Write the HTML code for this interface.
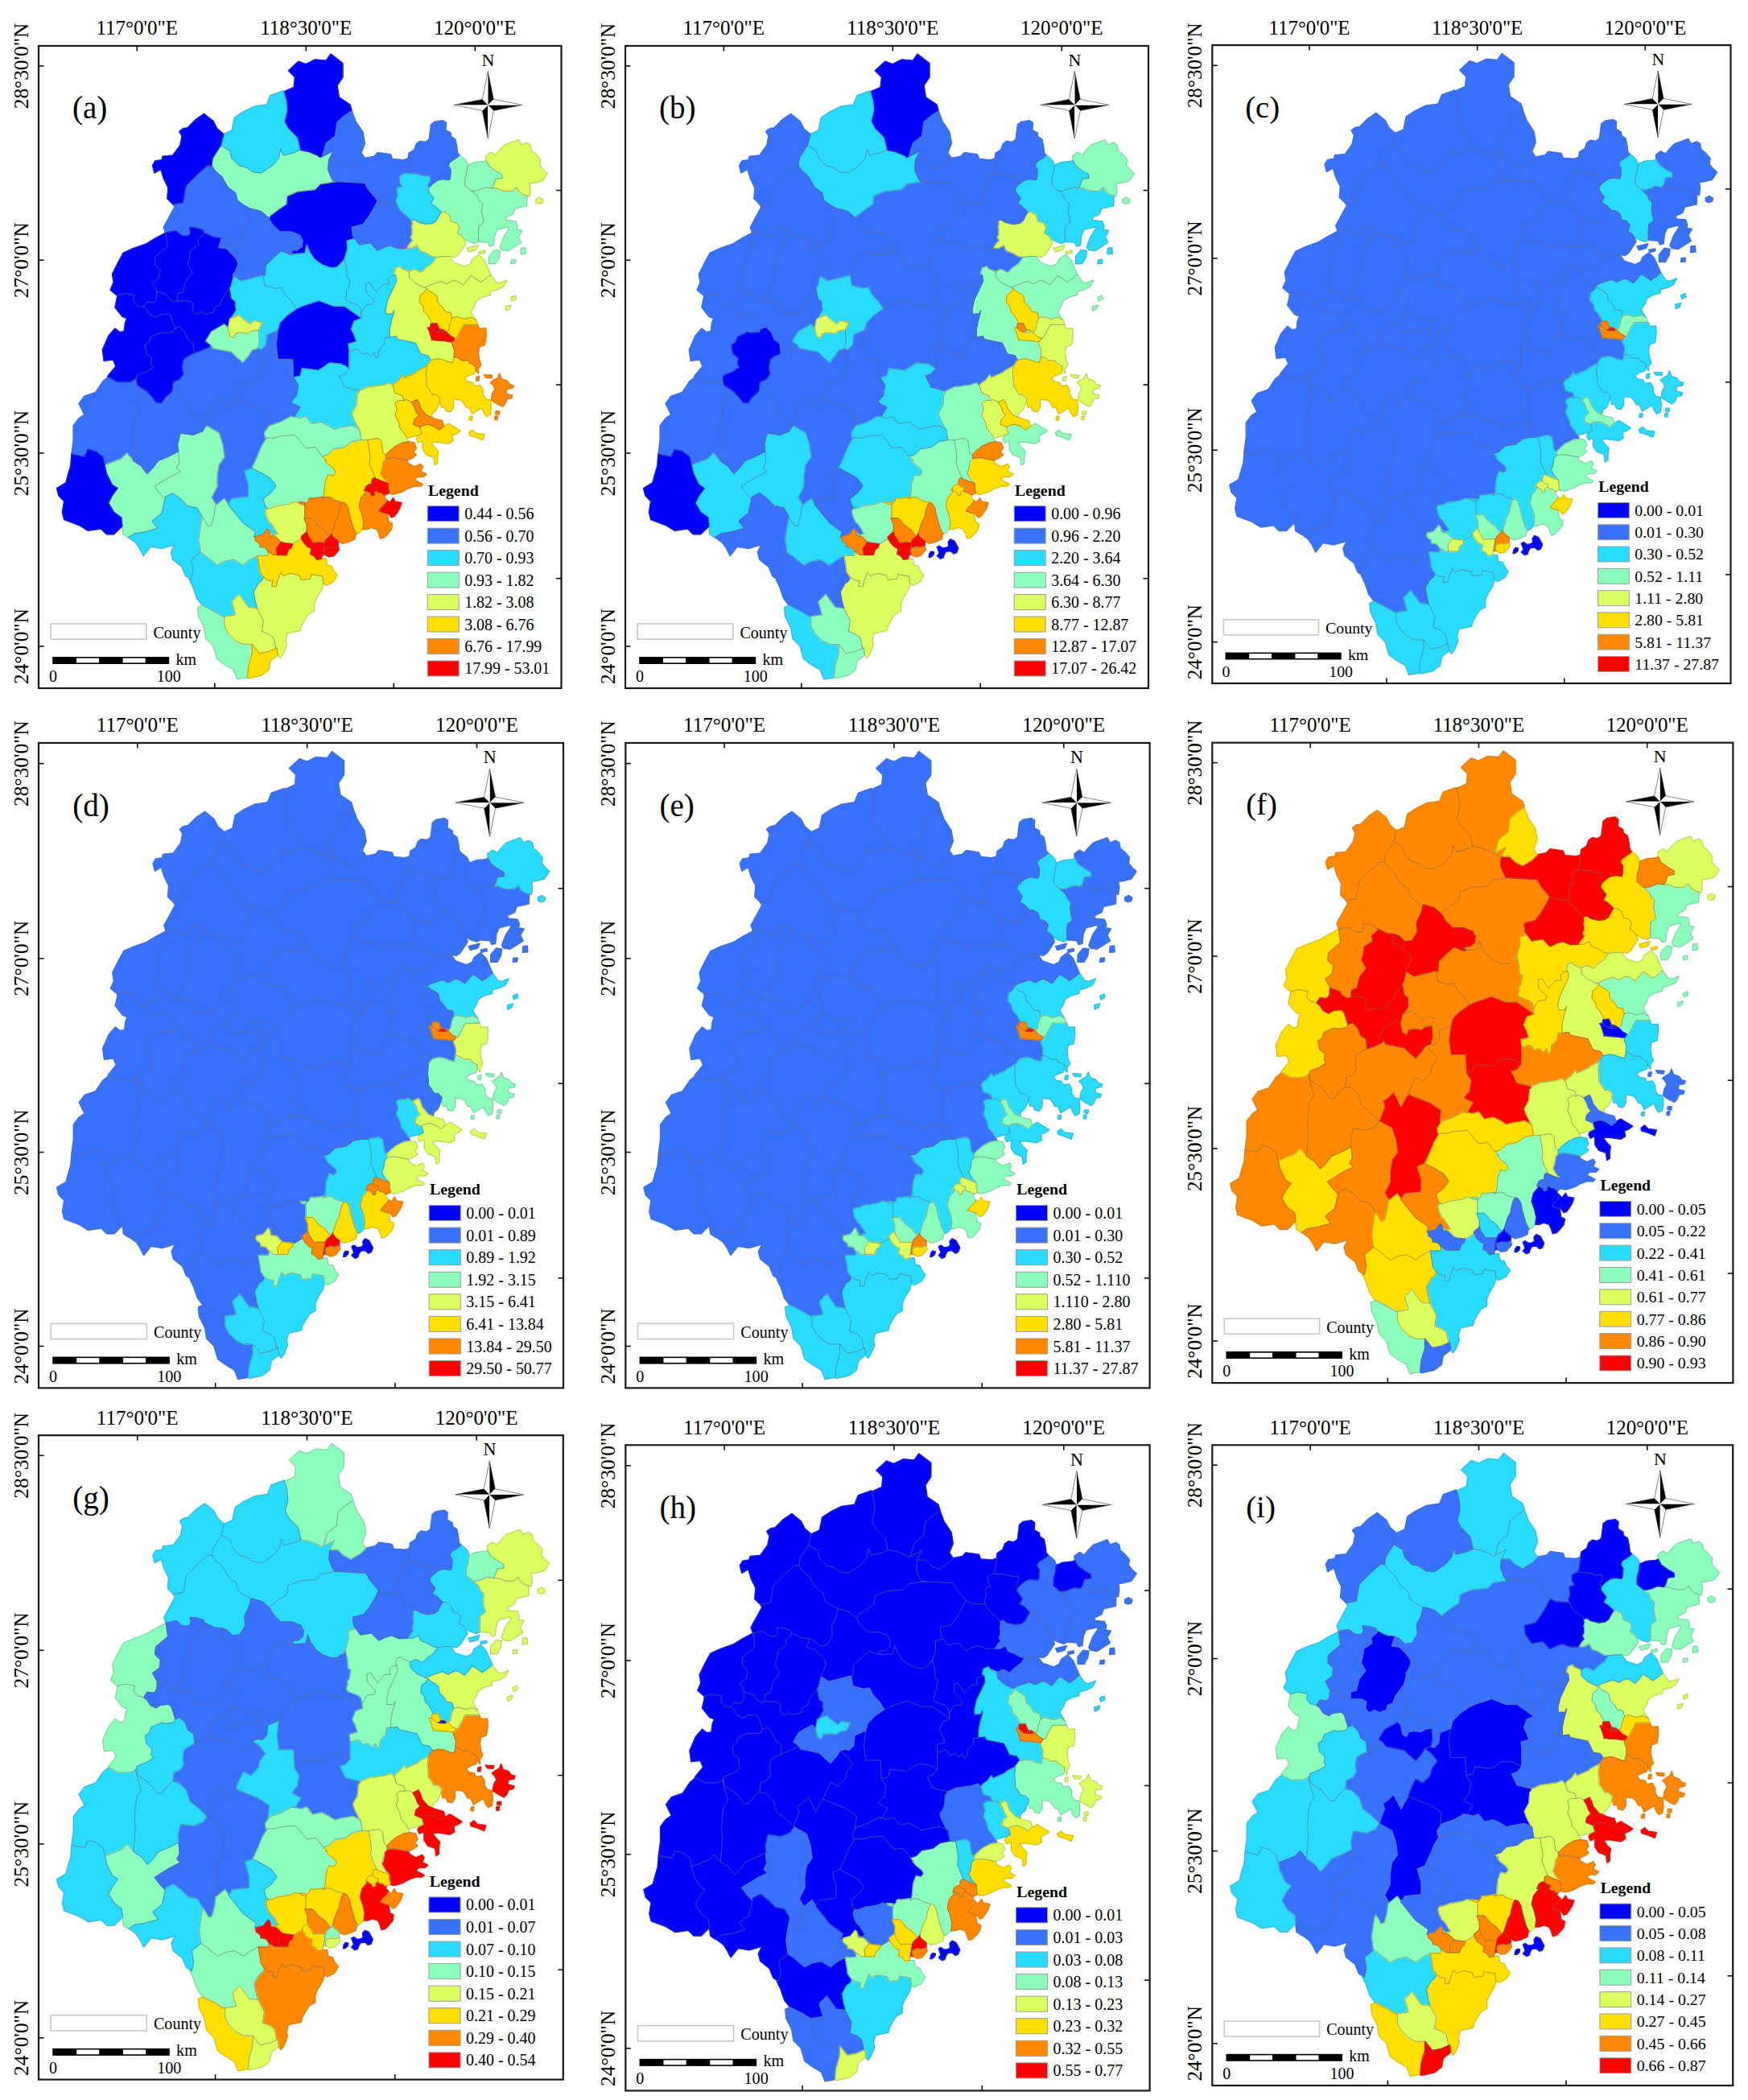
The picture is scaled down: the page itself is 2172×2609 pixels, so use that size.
<!DOCTYPE html>
<html><head><meta charset="utf-8"><title>Figure</title>
<style>html,body{margin:0;padding:0;background:#fff}svg{display:block}text{font-family:"Liberation Serif",serif;fill:#000}</style></head><body>
<svg width="2172" height="2609" viewBox="0 0 2172 2609">
<rect width="2172" height="2609" fill="#fff"/>
<defs>
<path id="jianou" fill-rule="evenodd" d="M419,225.3 397.8,228.5 391,235.4 370.4,237.6 356.6,243.4 355.5,253.7 345.2,260.5 336,267.4 333.8,270.8 338.3,278.8 347.5,288 361.8,288 373.2,292.6 374.1,296.3 376.1,298.3 374.9,306.3 369.2,310.9 364.6,310.9 360.6,313.2 365.1,315.7 378.9,314.9 381.2,304.8 384.7,313.7 391.5,322.9 397.1,327 400.7,329.2 410.1,332.6 415.5,332.6 419,332 428.1,322.3 431.9,309 431.1,299.2 440.3,296.5 441.3,296.6 438.4,292.6 437.3,282.3 451,278.8 457.9,269.7 464.8,258.2 469.3,249.1 457.9,235.4 453.3,227.3Z"/>
<path id="jianyang" fill-rule="evenodd" d="M414.4,187.3 400.7,194.2 397.3,195.3 395.9,193.5 384.1,188.4 372.7,186.2 365.8,189.6 352.1,193 348.6,185 346.3,196.5 338.3,205.6 324.6,214.8 314.3,213.6 306.3,207.9 297.1,205.6 288,196.5 285.7,187.3 274.3,180.4 264,196.5 262.8,205.6 267.4,212.5 275.4,219.3 283.4,233.1 292.6,239.9 294.9,249.1 300.6,253.7 310.9,259.4 316.6,260.5 324.6,262.8 333.8,270.8 336,267.4 345.2,260.5 355.5,253.7 356.6,243.4 370.4,237.6 391,235.4 397.8,228.5 419,225.3 414.4,225.1 412.1,221.6 407.7,210.2 408.7,198.7Z"/>
<path id="pucheng" fill-rule="evenodd" d="M425.9,95.8 425.9,78.6 411,67.2 405.3,75.2 391.5,74 380.1,79.7 370.9,76.3 358.4,87.8 366.4,95.8 365.2,108.4 352.6,114.1 355.5,125.5 356.6,137 353.2,150.7 357.8,159.8 369.2,171.3 372.7,186.2 384.1,188.4 395.9,193.5 397.3,195.3 400.7,194.2 405.3,178.1 416.7,169 419,151.8 428.1,143.8 437.3,138.1 435,130.1 421.3,120.9 419,106.1Z"/>
<path id="youxi" fill-rule="evenodd" d="M375.5,380.1 368.1,383.4 356.6,391.5 347.5,400.7 345.2,409.8 342.9,428.1 345.2,446.5 363.5,446.5 364.6,469.2 373.2,467 375.5,457.9 396.1,460.2 409.8,451 423.6,452.2 433.9,457.9 433.9,435.5 433,427.2 443,424.5 440.3,416.3 436.6,408.9 440.3,398.9 449.4,395.2 428.1,380.1 414.4,380.1 396.1,373.2Z"/>
<path id="changting" fill-rule="evenodd" d="M134.9,468.2 127.8,473.9 118.6,487.6 104.9,492.2 98.1,501.4 104.9,515.1 98.1,519.7 91.2,528.8 91.2,547.1 88.9,564.3 104.9,567.7 109.5,558.6 118.6,560.9 127.8,567.7 130.1,578 150.7,570 157.6,563.2 165.6,572.3 167.8,542.6 166.7,528.8 169,505.9 174.7,496.8 167.9,470.7 163.5,473.4 157.8,474.5 146.3,474.5Z"/>
<path id="zhangping" fill-rule="evenodd" d="M329.7,544.1 328.6,537.9 332,532.7 333.8,515.1 320,505.9 297.1,496.8 292.6,494.5 288,501.4 283.4,510.5 274.3,492.2 267.4,499.1 260.5,503.7 262.8,510.5 255.9,528.8 272,538 276.5,551.7 278.8,567.7 272,576.9 269.7,590.6 269.7,604.3 262.8,618.1 268.6,627.7 278.8,619.6 283.4,626.5 288,619.6 308.6,617.3 308.6,602.1 304,585.3 313.2,581.8 320,567 324.6,555.5 331.5,544.1Z"/>
<path id="shaowu" fill-rule="evenodd" d="M244.5,217 230.8,230.8 227.3,251.4 214.8,253.7 217,257.1 203.3,282.3 205.6,289.1 218.4,286.9 223.7,291.6 228.9,293.4 234.5,292.8 236.7,289.2 235.6,282.4 244.7,283.4 251.6,285.7 253.2,288.9 265.1,294.9 275.4,296 281.1,298.3 288,305.1 297.1,304 304,292.6 302.9,281.1 308.6,269.7 310.9,259.4 300.6,253.7 294.9,249.1 292.6,239.9 283.4,233.1 275.4,219.3 267.4,212.5 262.8,205.6 257,205.6Z"/>
<path id="yongan" fill-rule="evenodd" d="M259.1,431.2 249.3,435.6 241.3,438.5 231.6,443.3 228.4,445.7 227,449.3 226.2,457.9 227.6,464.2 223,471.1 215,474.5 213.8,485.7 221.6,487.6 230.8,496.8 235.4,510.5 246.8,519.7 255.9,528.8 262.8,510.5 260.5,503.7 267.4,499.1 274.3,492.2 283.4,510.5 288,501.4 292.6,494.5 297.1,483.1 301.7,473.9 310.9,478.5 320,469.3 322.3,460.2 329.2,451 322.3,441.9 313.2,435 308.6,441.9 301.7,449.9 294.9,444.2 288,437.3 265.1,432.7 261.7,428.1Z"/>
<path id="anxi" fill-rule="evenodd" d="M417,587.2 415.2,582.7 407,576.1 403.3,571.5 405.3,571.5 400.7,567 391.5,555.5 380.1,556.7 367.1,541.4 365.9,540.6 348.1,541.8 341.2,544.1 331.5,544.1 324.6,555.5 320,567 313.2,581.8 324.6,587.6 336,594.4 342.9,603.6 336,612.7 326.9,619.6 329.2,628.7 333.4,631.9 337.8,631.2 345.8,627.8 347.5,628.3 359.9,625.9 366.4,623.2 368.9,624.5 370.4,624.2 372.2,624.6 371.5,623.8 378.9,624.3 378.9,626.3 379.5,626.5 383.5,622.5 383.5,619.7 387,618.6 387.6,619.4 402.4,617.3 404.1,599 407.6,589.8 414.1,591.1Z"/>
<path id="wuyishan" fill-rule="evenodd" d="M274.3,180.4 285.7,187.3 288,196.5 297.1,205.6 306.3,207.9 314.3,213.6 324.6,214.8 338.3,205.6 346.3,196.5 348.6,185 352.1,193 365.8,189.6 372.7,186.2 369.2,171.3 357.8,159.8 353.2,150.7 356.6,137 355.5,125.5 352.1,112.9 336,118.6 331.5,130.1 315.4,132.4 301.7,139.2 291.4,146.1 288,162.1 277.7,166.7Z"/>
<path id="shanghang" fill-rule="evenodd" d="M150.7,570 130.1,578 132.4,588.3 139.2,602.1 146.1,606.6 139.2,615.8 134.7,624.9 141.5,636.4 150.7,643.2 153,663.8 159.8,668.4 160.4,668 159.8,667.6 166.7,663.1 180.4,660.8 196,656.3 189.6,647.8 190,647.6 189.6,647 201,637.9 205,619.8 198.7,613.5 191.9,604.3 210.2,592.9 223.9,586 219.3,581.5 222.8,574.6 221.6,560.9 207.9,567.7 196.5,572.3 189.6,581.5 182.7,588.3 175.9,579.2 165.6,572.3 157.6,563.2Z"/>
<path id="xinluo" fill-rule="evenodd" d="M219.3,581.5 223.9,586 210.2,592.9 191.9,604.3 198.7,613.5 205,619.8 205.6,617.3 214.8,612.7 223.9,619.6 233.1,628.7 244.5,631 255.9,649.3 258.2,653.9 262.8,652.4 266.2,639.8 267.4,628.7 268.6,627.7 262.8,618.1 269.7,604.3 269.7,590.6 272,576.9 278.8,567.7 276.5,551.7 272,538 255.9,528.8 251.4,535.7 239.9,540.3 223.9,538 220.5,551.7 222.8,574.6Z"/>
<path id="liancheng" fill-rule="evenodd" d="M185.2,489.4 184.9,487.5 170.3,477.9 169.2,469.9 167.9,470.7 174.7,496.8 169,505.9 166.7,528.8 167.8,542.6 165.6,572.3 175.9,579.2 182.7,588.3 189.6,581.5 196.5,572.3 207.9,567.7 221.6,560.9 220.5,551.7 223.9,538 239.9,540.3 251.4,535.7 255.9,528.8 246.8,519.7 235.4,510.5 230.8,496.8 221.6,487.6 213.8,485.7 205.8,492.8 200.1,500.8 194.4,499.7 187.8,491.3Z"/>
<path id="yanping" fill-rule="evenodd" d="M330,329.4 329.2,341.8 326.8,342.3 329.2,354.9 342.9,358.4 349.8,357.2 354.3,366.4 361.2,373.2 368.1,383.5 375.5,380.1 396.1,373.2 414.4,380.1 428.1,380.1 449.4,395.2 447.6,382.4 443.9,378.8 431.1,374.2 429.3,370.5 431,365.3 430.2,361.4 432.7,359.4 434.7,347.5 431.1,344.9 430.7,334.9 428.1,322.9 419,332 415.6,332.6 410.1,332.6 400.7,329.2 397.1,327 391.5,322.9 384.7,313.7 381.2,304.6 378.9,314.9 360.6,316 349.2,311.4 338.9,320.6Z"/>
<path id="wuping" fill-rule="evenodd" d="M84.3,590.6 82,599.8 70.6,606.6 72.9,615.8 79.7,622.7 77.5,636.4 79.7,645.5 98.1,652.4 109.5,659.3 125.5,657 132.4,663.8 141.5,663.8 151.9,653.6 150.7,643.2 141.5,636.4 134.7,624.9 139.2,615.8 146.1,606.6 139.2,602.1 132.4,588.3 127.8,567.7 118.6,560.9 109.5,558.6 104.9,567.7 88.9,564.3 87.8,579.2Z"/>
<path id="zhangpu" fill-rule="evenodd" d="M319.5,755.9 327.2,770.8 325.3,784.5 334.3,787.9 340,792.5 342.7,805.5 344.1,804.9 345.2,813.8 348.1,817.7 351.5,813.1 356.1,801.7 354.9,795.9 357.2,786.8 373.2,783.4 374.4,777.6 378.9,769.6 383.5,762.8 390.4,759.3 390.4,750.2 393.8,742.2 399.5,733 401.8,725 400.7,715.9 387,713.6 385.2,719.3 374.4,720.4 372.1,714.7 361.8,712.4 356.1,713.6 352.6,715.9 349.2,711.3 344.6,721.6 343.5,728.4 337.8,728.4 338.9,721.6 332,720.4 327.5,717 325.2,721.6 320.6,725 314.9,735.3 317.2,747.9Z"/>
<path id="ninghua" fill-rule="evenodd" d="M145.7,367.5 145.2,371.5 142.9,381.8 152,393.3 157.8,395.6 155.5,401.3 154.3,411.6 148.6,412.7 142.9,408.1 134.9,417.3 127.4,434.5 129.2,448.2 140.6,447 144,455.1 133.7,467.6 146.3,474.5 157.8,474.5 163.5,473.4 169.2,469.9 170.3,466.5 181.8,461.9 190.4,456.2 187.5,452.8 188.6,444.8 181.8,439 180.1,428.7 185.2,425.3 187.5,418.4 200.1,412.7 204.7,413.9 215,412.7 217.3,408.1 212.7,393.3 209.2,389.8 198.9,391 193.2,394.4 186.4,391 182.9,385.3 178.4,381.3 170.3,379.5 165.8,373.8 166.9,367 154.3,364.7Z"/>
<path id="gutian" fill-rule="evenodd" d="M494.5,308.6 484.8,304.7 476.8,307.2 469.3,310.9 460.2,301.7 446.5,304 441.2,296.6 440.3,296.4 431.1,299.2 431.9,309 428.1,322.3 423.5,327.4 428.1,323 430.7,335 431.1,344.9 434.7,347.5 432.7,359.4 430.2,361.4 431,365.3 429.3,370.5 431.1,374.2 443.9,378.8 447.6,382.4 448.5,389.8 451.3,384.3 454.9,378.8 463.2,377.9 465.4,373.3 458.6,366.9 454.9,362.3 454.5,352.2 459.5,351.3 464.1,358.6 467.7,363.2 476,353.2 483.3,353.2 482.4,345.8 487.9,342.2 491.5,342.2 489.7,339.4 491.4,333 497,331.1 498.9,333.9 508,337.6 511.1,336.6 513.7,334.5 515.1,335.3 516.2,334.9 522.7,338.5 524.3,337.7 529.7,332.2 536.6,327.6 542.3,319.6 536.6,318.5 528.6,313.9 521.7,311.6 518.3,304.8 511.4,308.2 496,308.3Z"/>
<path id="dehua" fill-rule="evenodd" d="M370.4,478.5 368.1,492.2 365.4,494.2 361.8,499.1 363.2,501.2 372.7,505.9 365.8,517.4 364.8,517.9 361.8,517.3 373.2,519.6 380.1,517.3 387,526.5 398.4,524.2 407.6,528.7 414.4,533.3 423.6,531 437.3,528.7 445.8,532.9 439.5,520.3 437.2,513.5 442.9,503.2 444,489.5 445.8,488.1 446.5,485.4 428.1,480.8 421.3,467 428.1,464.8 433.9,457.9 423.6,452.2 409.8,451 396.1,460.2 375.5,457.9 373.2,467 364.6,469.2Z"/>
<path id="pinghe" fill-rule="evenodd" d="M239.9,708.8 237.6,720.3 235.9,719.1 235.4,720.3 239.9,729.4 244.5,743.2 251.4,752.3 265.1,759.2 276.5,766 278.8,766 292.6,763.8 288,747.7 297.1,738.6 308.6,754.6 319.6,756 317.2,747.9 315,735.3 320.6,725 325.2,721.6 327.5,717 322.9,710.1 322.7,706.4 320,690.5 310.9,695.1 301.7,702 290.3,695.1 278.8,697.4 269.7,702 255.9,690.5 249.1,685.9 237.6,695.1Z"/>
<path id="jiangle" fill-rule="evenodd" d="M272.1,307.4 275.4,296 265.1,294.9 253.2,288.9 253.9,290.3 245.9,297.2 247,304 236.7,310.9 235.6,320 233.3,328.1 239,338.4 231,348.6 227.6,362.4 220.7,364.7 220.1,373.8 234.4,373.8 240.1,377.3 239,385.3 243.6,391 250.4,387.6 256.2,390.4 265.3,387.6 266.5,381.8 273.3,378.4 276.8,369.2 287.2,355.9 290.3,343.5 291.1,344 289.3,341.8 292.6,336.8 296,328 294.2,322.7 289.3,316.6 281.3,308.6Z"/>
<path id="datian" fill-rule="evenodd" d="M322.3,441.9 329.2,451 322.3,460.2 320,469.3 310.9,478.5 301.7,473.9 297.1,483.1 292.6,494.5 297.1,496.8 320,505.9 333.8,515.1 332,532.7 334.3,529.2 348.1,524.6 361.8,517.3 364.8,517.9 365.8,517.4 372.7,505.9 363.3,501.3 361.9,499.1 365.4,494.2 368.1,492.2 370.4,478.5 364.6,469.3 363.5,446.5 345.2,446.5 342.9,428.1 345.2,409.8 331.5,415.6 330.3,428.1 324.6,433.9 320,432.7 313.2,435Z"/>
<path id="minhou" fill-rule="evenodd" d="M489.7,339.4 491.5,342.2 492.4,349.5 481.5,372.4 478.7,385.2 479.7,390.6 487.9,389.8 489.7,386.1 486,399.8 484.2,409 484.2,419 492.4,418.1 494.3,421.7 516.2,426.3 522.7,440 531.8,441.9 535.5,447.4 544.1,445.6 549.8,446.7 555.5,449 562.4,450.7 564.1,443.3 564.7,435.3 561.8,427.3 561.3,424.3 559,424.6 554.4,423.7 540.8,422.8 538.3,421.9 536.7,422.8 536.2,420 532.6,409.1 531.2,407.3 533.5,406.9 535.8,408.2 534.9,405.4 535.3,402.2 537.2,402.1 531.5,391.8 526.9,387.2 525.8,380.3 521.2,375.8 522.3,366.6 526.9,363.2 530.3,358.6 516,351.7 508.6,344.8 508,337.6 498.9,333.9 497,331.1 491.4,333Z"/>
<path id="guangze" fill-rule="evenodd" d="M274.3,180.4 277.7,166.7 269.7,159.8 265.1,150.7 253.7,141.5 243.4,148.4 233.1,158.7 227.3,159.8 222.8,163.3 226.2,169 223.9,180.4 214.8,193 202.2,194.2 201,198.7 193,199.9 189.6,205.6 191.9,214.8 199.9,210.2 203.3,221.6 209,233.1 207.9,246.8 214.8,253.7 227.3,251.4 230.8,230.8 244.5,217 257.1,205.6 262.8,205.6 264,196.5Z"/>
<path id="yongding" fill-rule="evenodd" d="M189.6,647.8 196,656.4 180.4,660.8 166.7,663.1 159.8,667.6 169,674.5 173.6,681.4 178.1,690.5 187.3,679.1 201,681.4 217,676.8 212.5,685.9 214.8,695.1 226.2,704.3 230.8,715.7 237.6,720.3 239.9,708.8 237.6,695.1 249.1,685.9 246.8,669.9 249.1,653.9 251.4,642.5 244.5,631 233.1,628.7 223.9,619.6 214.8,612.7 205.6,617.3 201,637.9 189.6,647 190,647.5Z"/>
<path id="yongtai" fill-rule="evenodd" d="M530.3,454.7 535.5,447.4 531.8,441.9 522.7,440 516.2,426.3 494.3,421.7 492.4,418.1 484.2,419.1 478.7,419.1 477.8,427.3 471.4,433.7 469.6,443.8 466.8,443.8 465,438.3 461.3,442.9 455.8,438.3 449.4,440.1 446.7,435.5 443,433.7 436.6,436.5 433.9,435.5 433.9,457.9 428.1,464.8 421.3,467 428.1,480.8 446.5,485.4 451.9,483.6 453.2,482.6 458.9,480.3 460.8,480.7 473.9,478.5 475.9,478.8 477.2,478 484.1,475.7 488.1,479.8 489.7,476.7 496.1,472.1 500.7,465.7 502.5,469.3 518,462.4 519.5,460.4Z"/>
<path id="shunchang" fill-rule="evenodd" d="M361.8,288 347.5,288 338.3,278.8 333.8,270.8 324.6,262.8 316.6,260.5 310.9,259.4 308.6,269.7 302.9,281.1 304,292.6 297.1,304 288,305.1 281.1,298.3 275.4,296 272,307.4 281.3,308.6 289.3,316.6 294.3,322.7 296,328 292.7,336.8 289.3,341.8 291,344 299.4,349.2 329.2,341.8 330,329.5 338.9,320.6 349.2,311.5 360.6,316 365.1,315.8 360.7,313.2 364.6,310.9 369.2,310.9 374.9,306.3 376.1,298.3 374.2,296.4 373.2,292.6Z"/>
<path id="nanan" fill-rule="evenodd" d="M405.3,571.5 403.3,571.5 407,576.1 415.2,582.8 417,587.1 414,591.1 407.6,589.8 404.1,599 402.4,617.3 401.7,617.4 399.5,619.7 406.4,617.5 412.1,618.6 413.1,620.1 416.7,621.9 429.3,625.5 432.7,631.2 433.9,638.1 439.5,657.6 442.9,663.4 446.3,662.2 450.9,657.6 452,648.5 449.7,638.2 446.3,629 448.6,618.7 454.3,611.9 455.1,608.8 452.9,609.7 455.2,604.2 458.9,601.9 461.6,601.9 462.5,595.5 465.7,593.7 466.2,594.5 466.9,594.7 462.3,584.4 458.9,575.3 460,568.4 458.9,559.2 456.6,546.7 448.6,546.7 448.7,546.4 437.3,548.6 428.1,555.5 414.4,557.8 407.6,564.7 400.7,567Z"/>
<path id="nanjing" fill-rule="evenodd" d="M266.2,639.7 262.8,652.4 258.2,653.9 255.9,649.3 251.4,642.5 249.1,653.9 246.8,669.9 249.1,685.9 255.9,690.5 269.7,702 278.8,697.4 290.3,695.1 301.7,702 310.9,695.1 320,690.5 332.2,690.5 333.2,689.5 333.2,685 329.7,680.4 322.9,679.2 322.9,675.8 317.2,671.2 317.2,666.7 315.6,667.1 317.7,660.8 301.7,649.3 283.4,626.5 278.8,619.6 267.4,628.7Z"/>
<path id="shaxian" fill-rule="evenodd" d="M284.8,358.9 287,371.5 291.6,375 291.6,381.4 292.6,384.7 285.7,396.1 297.1,391.5 301.7,396.1 310.9,403 315.4,398.4 325.6,400.7 321.2,409.8 322.3,423.6 320,432.7 324.6,433.9 330.3,428.1 331.5,415.6 345.2,409.8 347.5,400.7 356.6,391.5 368.1,383.5 361.2,373.2 354.3,366.4 349.8,357.2 342.9,358.4 329.2,354.9 326.9,342.3 299.4,349.2 290.3,343.5 287.2,355.9Z"/>
<path id="xianyou" fill-rule="evenodd" d="M453.2,482.6 451.9,483.5 446.5,485.4 445.8,488.2 444,489.5 442.9,503.2 437.2,513.5 439.5,520.3 445.8,532.9 446.5,533.3 448.6,546.7 456.6,546.7 469.2,544.4 473.8,547.8 476.1,562.7 479.5,565 484.1,560.4 490.9,554.7 500.1,550.1 508.1,548.9 502.4,538.6 496.7,531.8 495.5,524.9 490.9,515.8 493.2,507.8 490.9,500.9 495.5,497.5 501.8,497.5 500.1,491.7 490.9,488.3 488.6,480.3 484.1,475.7 477.2,478 476,478.8 473.9,478.5 460.8,480.7 458.9,480.3Z"/>
<path id="fuan" fill-rule="evenodd" d="M578.9,199.5 575.5,196.1 570.9,192.6 568.6,194.9 558.4,201.8 557.2,206.4 560.1,210.9 559.5,220.1 558.4,223.5 549.2,222.4 543.5,224.1 537.8,228.1 533.2,232.7 532,237.3 538.9,246.4 535.5,253.3 541.2,256.7 548.1,263.6 552.6,263.6 558.4,267 560.6,275 567.5,277.3 570.9,281.9 568.6,289.9 573.2,292.2 576.7,296.8 583.5,300.2 590.4,302.5 594.4,300.2 594.4,288.7 595,280.7 601.3,276.2 599.5,269.3 598.4,261.3 599.5,253.3 595,248.7 592.7,243 577.8,230.4 577.8,222.4 580.1,213.2 581.2,205.2Z"/>
<path id="qingliu" fill-rule="evenodd" d="M228.3,445.8 231.7,443.3 241.3,438.5 240.1,426.5 233.3,421.9 229.8,412.7 223,405.9 217.3,408.1 215,412.7 204.7,413.9 200.1,412.7 187.5,418.4 185.2,425.3 180.1,428.7 181.8,439 188.6,444.8 187.5,452.8 190.4,456.2 181.8,461.9 170.3,466.5 169.2,469.9 170.3,477.9 184.8,487.5 185.2,489.4 187.7,491.3 194.4,499.7 200.1,500.8 205.8,492.8 213.8,485.9 215,474.5 223,471.1 227.6,464.2 226.2,458 227.1,449.2Z"/>
<path id="jianning" fill-rule="evenodd" d="M205.8,289.2 193.2,296 181.8,302.9 165.8,308.6 153.2,314.3 146.9,325.8 139.5,340.6 141.2,350.9 137.2,360.1 145.7,367.5 154.3,364.7 166.9,367 165.8,373.8 170.3,379.5 178.4,381.3 182.4,375 190.9,376.1 194.4,371.5 194.9,361.8 189.2,351.5 197.8,345.2 198.9,334.9 192.1,328.1 193.2,318.9 208.1,306.3Z"/>
<path id="fuqing" fill-rule="evenodd" d="M530.3,473 530.3,479.9 533.8,484.5 537.2,490.2 541.8,490.2 546.9,494.8 546.4,498.2 548.6,506.2 552.1,505.1 554.4,510.8 560.1,511.9 563.5,506.2 563.5,495.9 572.7,497 576.1,500.5 579.5,506.2 583,506.2 586.4,514.2 599.1,506.5 601.3,513.1 604.7,517.6 609.3,515.4 610.4,506.2 609.3,497 603.6,495.9 600.1,490.2 600.1,484.5 596.7,478.7 589.8,479.9 587.6,475.3 580.7,474.2 577.3,469.6 583,466.2 589.8,463.9 591,459.3 591,454.7 584.1,451.3 581.8,447.8 573.8,447.8 569.2,444.4 564.1,443.3 562.4,450.7 555.5,449 549.8,446.7 544.1,445.6 535.5,447.4 530.3,454.7 529.2,466.2ZM583,521.6 586.4,522.2 587,517.1 583.5,517.6Z"/>
<path id="mingxi" fill-rule="evenodd" d="M283.4,407.6 285.7,396.1 292.6,384.7 291.6,381.3 291.6,375 287,371.5 284.8,358.9 276.8,369.2 273.3,378.4 266.5,381.8 265.3,387.6 256.2,390.4 250.4,387.6 243.6,391 239,385.3 240.1,377.3 234.4,373.8 220.1,373.8 217.3,375 210.4,371.5 207,365.8 194.9,361.8 194.4,371.5 190.9,376.1 182.4,375 178.4,381.3 182.9,385.3 186.4,391 193.2,394.4 198.9,391 209.2,389.8 212.7,393.3 217.3,408.1 223,405.9 229.8,412.7 233.3,421.9 240.1,426.5 241.3,438.5 249.3,435.6 259.6,431 261.7,428.1 255.9,423.6 262.8,412.1 278.8,403Z"/>
<path id="zhenghe" fill-rule="evenodd" d="M407.6,210.2 412.1,221.6 414.4,225.1 453.3,227.3 457.9,235.4 469.3,249.1 476.2,252.5 493.6,253.5 492,249.8 494.3,243 493.1,233.8 500,231.5 496.6,225.8 496.6,218.9 503.4,215.5 505.7,210.9 507.4,196.7 501.4,198.7 487.6,197.6 485.4,191.9 469.3,189.6 464.8,194.2 453.3,196.5 446.5,203.3 435,210.2 425.9,205.6 419,198.7 408.7,198.7Z"/>
<path id="xiapu" fill-rule="evenodd" d="M655.1,243.3 649.9,241.8 644.2,237.3 641.9,232.7 636.2,237.3 625.9,237.3 616.7,233.8 611,233.8 603,232.7 595,236.1 590.4,237.3 585.8,237.3 592.7,243 595,248.7 599.5,253.3 598.4,261.3 599.5,269.3 601.3,276.2 595,280.7 594.4,288.7 594.4,300.2 606.4,301.3 608.7,305.9 613.3,304.8 614.4,293.3 617.8,285.3 631.6,281.9 632.7,284.2 625.9,294.5 621.3,307 623.6,310.5 631.6,311.6 647.6,301.3 644.2,294.5 648.7,286.5 641.9,285.3 643,280.7 640.7,275 629.3,273.9 628.1,270.4 637.3,265.9 639.6,259 654.5,255.6ZM652.7,307.6 647.6,308.2 647,315.6 653.3,315.1ZM607.6,327.6 615.6,327.6 620.1,319.6 621.3,311.6 614.4,310.5 607.6,318.5ZM635.6,323.1 635,327.6 640.2,327.1 640.7,322.5Z"/>
<path id="fuding" fill-rule="evenodd" d="M623.6,216.7 624.1,221.2 615.6,222.4 613.3,230.4 611,233.8 616.7,233.8 625.9,237.3 636.2,237.3 641.9,232.7 644.2,237.3 649.9,241.8 657.9,244.1 659,235 657.9,228.1 664.8,227 673.9,224.7 680.2,215.5 675.1,210.9 670.5,205.2 671.6,198.4 665.9,191.5 660.2,186.9 659,180 654.5,177.2 647.6,180 644.2,173.8 627,180 621.3,185.8 615.6,192.6 609.8,189.2 603.5,193.8 604.1,199.5 607.6,206.4 615.6,212.1ZM673.9,252.1 675.1,248.1 670.5,245.3 665.9,247.6 665.9,251.6 669.3,253.3Z"/>
<path id="taining" fill-rule="evenodd" d="M234.6,292.8 228.9,293.4 223.8,291.7 218.4,286.9 205.8,289.2 208.1,306.3 193.2,318.9 192.1,328.1 198.9,334.9 197.8,345.2 189.2,351.5 194.9,361.8 207,365.8 210.4,371.5 217.3,375 220.1,373.8 220.7,364.7 227.6,362.4 231,348.6 239,338.4 233.3,328.1 235.6,320 236.7,310.9 247,304 245.9,297.2 253.9,290.3 251.6,285.7 244.7,283.4 235.6,282.3 236.7,289.2Z"/>
<path id="pingnan" fill-rule="evenodd" d="M464.8,258.2 457.9,269.7 451,278.8 437.3,282.3 438.4,292.6 446.5,304 460.2,301.7 469.3,310.9 476.7,307.2 484.8,304.7 494.5,308.6 505.7,308.2 509.2,302.5 512.6,299 510.3,294.5 511.9,291.7 512.2,285.1 511.4,283 512.6,277.2 511.4,273.9 505.7,268.1 500,263.6 496,259 493.6,253.5 476.2,252.5 469.3,249.1Z"/>
<path id="shouning" fill-rule="evenodd" d="M537.8,228.1 543.5,224.1 549.2,222.4 558.4,223.5 559.5,220.1 560.1,210.9 557.2,206.4 558.4,201.8 568.6,194.9 570.9,192.6 568.6,190.3 567.5,181.2 565.8,173.2 560.6,169.7 560.1,165.2 553.8,161.7 554.3,152.6 550.3,149.7 540,151.4 535.5,154.9 533.2,173.2 528.6,176.6 521.7,175.5 517.2,178.9 514.9,185.8 508,190.3 505.7,210.9 503.4,215.5 516,216.1 526.3,218.9 534.3,218.9 534.3,224.7 530.9,230.4 533.2,232.7Z"/>
<path id="minqing" fill-rule="evenodd" d="M478.8,385.1 481.5,372.4 492.4,349.5 491.5,342.2 487.9,342.2 482.4,345.8 483.3,353.2 476,353.2 467.7,363.2 464.1,358.6 459.5,351.3 454.5,352.2 454.9,362.3 458.6,366.9 465.4,373.3 463.2,377.9 454.9,378.8 451.3,384.3 448.5,389.8 449.4,395.2 440.3,398.9 436.6,408.9 440.3,416.3 443,424.5 433,427.2 433.9,435.5 436.6,436.5 443,433.7 446.7,435.5 449.4,440.1 455.8,438.3 461.3,442.9 465,438.3 466.8,443.8 469.6,443.8 471.4,433.7 477.8,427.3 478.7,419.1 484.2,419.1 484.2,409 486,399.8 489.7,386.1 487.9,389.8 479.7,390.5Z"/>
<path id="yongchun" fill-rule="evenodd" d="M328.6,537.9 329.7,544.1 341.2,544.1 348.1,541.8 365.8,540.6 367.1,541.5 380.1,556.7 391.5,555.5 400.7,567 407.6,564.7 414.4,557.8 428.1,555.5 437.3,548.6 448.7,546.4 446.5,533.3 437.3,528.7 423.6,531 414.4,533.3 407.6,528.7 398.4,524.2 387,526.5 380.1,517.3 373.2,519.6 361.8,517.3 348.1,524.6 334.3,529.2Z"/>
<path id="longhai" fill-rule="evenodd" d="M320,690.5 322.7,706.4 322.9,710.1 327.5,717 332,720.4 338.9,721.6 337.8,728.4 343.5,728.4 344.6,721.6 349.2,711.3 352.6,715.9 356.1,713.6 361.8,712.4 372.1,714.7 374.4,720.4 385.2,719.3 387,713.6 400.7,715.9 401.8,725 405.3,727.3 414.4,722.7 419,714.7 414.4,709 412.1,703.3 406.4,702.1 405.3,694.1 399.5,694.1 393.8,695.3 390.4,690.7 385.8,688.4 387,681.5 382.4,679.2 377.8,674.7 374.4,668.9 373.2,670.1 363.5,675.8 361.8,680.4 358.4,682.7 356.1,689.5 340,689.5 333.2,685 333.2,689.5 332.2,690.5Z"/>
<path id="lianjiang" fill-rule="evenodd" d="M538.4,364.3 542.9,367.8 544.1,375.8 549.8,381.5 553.2,387.2 560.1,388.4 561.8,395.2 567,393.5 577.3,396.4 585.3,394.1 591.6,397.5 587.6,391.8 585.3,387.2 589.8,380.3 592.1,373.5 600.1,368.9 609.3,366.6 609.3,362 618.4,359.7 625.3,356.3 629.9,348.3 620.7,351.7 616.2,350.6 609.9,341.4 607.6,342.5 604.1,345.9 597.3,350.5 589.2,344.8 584.7,342.5 582.4,345.9 575.5,354 568.6,349.5 564.1,348.2 554.9,352.8 548,349.5 534.3,354 527.6,357.3 530.3,358.6 533.8,362ZM636.2,374.1 641.3,371.2 640.2,367.2 635,369.5ZM628.7,386.1 633.3,383.8 635,379.2 628.2,380.9Z"/>
<path id="jiaocheng" fill-rule="evenodd" d="M511.4,273.9 512.5,277.5 511.4,283 512.2,285 511.9,291.8 510.3,294.5 512.6,299 509.2,302.5 505.7,308.2 511.4,308.2 518.3,304.8 521.7,311.6 528.6,313.9 536.6,318.5 542.3,319.6 550.3,318.5 558.4,318.5 565.2,319.6 569.8,316.2 578.9,302.5 576.7,296.8 573.2,292.2 568.6,289.9 570.9,281.9 567.5,277.3 560.6,275 558.4,267 552.6,263.6 548.1,263.6 545.8,267 542.3,273.9 537.8,277.3 529.7,278.4 520.6,276.2 514.9,272.7ZM582.4,312.8 591.5,310.5 593.8,304.8 580.1,308.2ZM596.1,315.6 603,313.9 602.4,311.1 595,312.8Z"/>
<path id="zhaoan" fill-rule="evenodd" d="M278.8,777.5 278.8,766 276.5,766 265.1,759.2 251.4,752.3 245.7,754.6 246.8,766 253.7,779.8 255.9,793.5 265.1,802.7 269.7,818.7 278.8,825.5 290.3,832.4 294.9,843.8 307.4,841.6 308.6,827.8 313.2,811.8 313.2,800.4 301.7,800.4 292.6,795.8 283.4,786.6Z"/>
<path id="huaan" fill-rule="evenodd" d="M304,586 308.6,602.1 308.6,617.3 288,619.6 283.4,626.5 301.7,649.3 317.7,660.8 315.6,667.1 326.3,664.4 332.1,657.1 333.3,658.6 334.3,658.6 334.6,660.4 338.3,665.4 345.2,663.1 337.5,651.1 334.3,648.4 330.9,641.5 329.7,635.8 330.9,632.3 333.4,631.9 329.2,628.7 326.9,619.6 336,612.7 342.9,603.6 336,594.4 324.6,587.6 313.2,581.8 304,585.3 304.3,585.8Z"/>
<path id="yunxiao" fill-rule="evenodd" d="M327.3,770.8 319.6,756 308.6,754.6 297.1,738.6 288,747.7 292.6,763.8 278.8,766 278.8,777.5 283.4,786.6 292.6,795.8 301.7,800.4 313.2,800.4 322.3,811.8 333.8,809.5 342.7,805.5 340,792.5 334.3,787.9 325.3,784.5Z"/>
<path id="zhouning" fill-rule="evenodd" d="M496.6,225.8 500,231.5 493.1,233.8 494.3,243 492,249.8 496,259 500,263.6 505.7,268.1 511.4,273.9 514.9,272.7 520.6,276.2 529.7,278.4 537.8,277.3 542.3,273.9 545.8,267 548.1,263.6 541.2,256.7 535.5,253.3 538.9,246.4 532,237.3 533.2,232.7 530.9,230.4 534.3,224.7 534.3,218.9 526.3,218.9 516,216.1 503.4,215.5 496.6,218.9Z"/>
<path id="luoyuan" fill-rule="evenodd" d="M524.3,337.7 522.7,338.4 516.2,334.9 515.1,335.2 513.7,334.5 511.2,336.5 508,337.6 508.6,344.8 516,351.7 527.5,357.4 534.3,354 548,349.6 554.9,352.8 564,348.2 568.6,349.5 575.5,354 582.4,345.9 584.7,342.5 589.2,344.8 597.3,350.5 604.1,345.9 607.6,342.5 609.8,341.4 601.8,323.1 595,316.2 587,321.9 584.7,327.6 577.8,331.1 564.1,326.5 558.4,318.5 550.3,318.5 542.3,319.6 536.6,327.6 529.7,332.2Z"/>
<path id="songxi" fill-rule="evenodd" d="M428.1,143.8 419,151.8 416.7,169 405.3,178.1 400.7,194.2 414.4,187.3 408.7,198.7 419,198.7 425.9,205.6 435,210.2 446.5,203.3 453.3,196.5 448.7,189.6 453.3,178.1 451,164.4 441.9,150.7 437.3,138.1Z"/>
<path id="changtai" fill-rule="evenodd" d="M378.9,643.8 378.9,627.2 373.2,626 372.2,624.6 370.4,624.2 368.8,624.4 366.4,623.2 360,625.9 347.4,628.2 345.8,627.8 337.8,631.2 330.9,632.3 329.7,635.8 330.9,641.5 334.3,648.4 337.5,651.1 345.1,663.1 338.3,665.3 334.6,660.4 335.5,665.5 342.3,666.7 349.2,673.5 353.8,674.7 363.5,675.8 373.2,670.1 374.4,668.9 374.4,666.7 381.2,660.9 381.2,651.8 377.8,643.8Z"/>
<path id="hanjiang" fill-rule="evenodd" d="M518,462.4 502.5,469.2 500.7,465.7 496.1,472.1 489.7,476.7 488.1,479.8 488.6,480.3 490.9,488.3 500.1,491.7 501.8,497.5 504.7,496.4 511.5,499.7 518.4,496.3 520.7,500.9 523,507.8 529.8,515.8 536.2,518.4 537.2,513.1 541.8,509.6 544.1,505.1 546.4,498.2 546.9,494.8 541.8,490.2 537.2,490.2 533.8,484.5 530.3,479.9 530.3,473 529.2,466.2 530.3,454.7 519.5,460.4Z"/>
<path id="huian" fill-rule="evenodd" d="M479.5,569.5 476.1,573 474.9,582.1 472.6,587.8 477.2,595.9 481.8,600.4 482.4,608.8 483.5,611.1 482.8,612 482.9,613 488.6,614.2 493.2,613 500.1,610.7 505.8,607.3 515,603.9 523,603.9 525.3,601.6 515,595.9 518.4,592.4 526.4,592.4 529.8,589 523,585.6 525.3,579.8 523,576.4 515,579.8 507,575.3 505.8,571.8 488.6,568.4Z"/>
<path id="sanyuan" fill-rule="evenodd" d="M283.4,407.6 278.8,403 262.8,412.1 255.9,423.6 261.7,428.1 265.1,432.7 288,437.3 294.9,444.2 301.7,449.9 308.6,441.9 313.2,435 320,432.7 322.3,423.6 321.2,409.8 313.2,411 308.6,414.4 299.4,413.3 292.6,414.4 290.3,420.1 285.7,417.8Z"/>
<path id="changle" fill-rule="evenodd" d="M576.1,403.2 567,420.4 564.7,420.4 562.6,424.1 561.3,424.3 561.8,427.3 564.7,435.3 564.1,443.3 569.2,444.4 573.8,447.8 581.8,447.8 584.1,451.3 591,454.7 591,459.3 594.4,463.9 594.4,458.1 597.8,453.6 595.6,446.7 594.4,438.7 595.6,430.7 602.4,428.4 604.1,417 603.6,407.8 595.6,408.4 593.8,403.2Z"/>
<path id="jinjiang" fill-rule="evenodd" d="M468.4,608.8 464.8,611.1 465.2,614.7 461.6,615.6 461.2,613.1 460.2,612 457.9,611.1 455.1,608.8 454.3,611.9 448.6,618.7 446.3,629 449.7,638.2 452,648.5 450.9,657.6 455.5,657.6 461.2,655.4 468.1,657.6 470.3,662.2 472.6,669.1 477.2,667.9 481.8,663.4 486.4,657.6 487.5,650.8 482.9,648.5 481.2,637.8 477.2,637 471.5,634.8 473.8,631.3 478.4,626.8 481.8,622.2 477.2,617.6 479.5,614.2 477.1,614.7 475.3,612.4 469.8,611.1Z"/>
<path id="tongan" fill-rule="evenodd" d="M399.5,619.7 401.7,617.4 387.6,619.4 387,618.6 383.5,619.7 383.5,622.5 379.5,626.4 378.9,626.3 378.9,624.3 371.5,623.8 373.2,626 378.9,627.2 378.9,643.8 387,643.8 390.4,647.2 393.8,651.8 403,658.6 406.4,663.2 409.8,666.7 412.1,663.2 416.7,648.4 420.1,642.6 421.3,635.8 423.6,627.8 425.8,624.5 416.7,621.9 413.1,620 412.1,618.6 406.4,617.5Z"/>
<path id="xiuyu" fill-rule="evenodd" d="M601.9,539.8 591.6,538.6 587,534.1 582.5,537.5 583.6,540.9 591.6,543.2 599.6,546.7ZM525.2,547.7 525.3,558.1 529.8,565 539,568.4 540.1,577.6 543.6,575.3 543.6,567.3 544.7,560.4 540.1,555.8 535.6,550.1 541.3,548.9 557.3,551.2 563,547.8 561.9,540.9 567.6,538.6 572.2,535.2 557.3,526.1 551.6,529.5 545.9,534.1 539,529.5 532.1,527.2 525.3,528.4 521.8,530.6 524.1,538.6 519.5,540.9 517.3,545.5 519.5,550.1Z"/>
<path id="zherong" fill-rule="evenodd" d="M580.1,213.2 577.8,222.4 577.8,230.4 585.8,237.3 590.4,237.3 595,236.1 603,232.7 611,233.8 613.3,230.4 615.6,222.4 624.1,221.2 623.6,216.7 615.6,212.1 607.6,206.4 604.1,199.5 600.7,200.6 589.2,201.8 581.2,205.2Z"/>
<path id="jinan" fill-rule="evenodd" d="M560.1,388.4 553.2,387.2 549.8,381.5 544.1,375.8 542.9,367.8 538.4,364.3 533.8,362 530.3,358.6 526.9,363.2 522.3,366.6 521.2,375.8 525.8,380.3 526.9,387.2 531.5,391.8 537.2,402.1 542.6,401.8 545.4,408.9 550.9,410.1 554.4,412.4 557.8,410.1 558.9,403.2 561.8,395.2Z"/>
<path id="chengxiang" fill-rule="evenodd" d="M504.7,496.3 501.8,497.5 495.5,497.5 490.9,500.9 493.2,507.8 490.9,515.8 495.5,524.9 496.7,531.8 502.4,538.6 505.8,544.4 519.5,540.9 524.1,538.6 521.8,530.6 513.8,527.2 515,521.5 520.7,515.8 517.3,512.3 515,505.5 511.5,499.7Z"/>
<path id="xiangan" fill-rule="evenodd" d="M420.1,642.6 416.7,648.4 412.1,663.2 412.1,665.5 415.6,668.9 420.1,672.4 425.9,675.2 432.7,673.5 440.7,670.1 442.1,663.7 442.9,663.4 439.5,657.6 438.5,654.6 433.9,638.1 432.7,631.2 429.3,625.5 425.9,624.3 423.6,627.8 421.3,635.8Z"/>
<path id="dongshan" fill-rule="evenodd" d="M313.2,811.8 308.6,827.8 307.4,841.6 308.6,842.7 324.6,839.3 333.8,832.4 336,821 345.2,814.1 344.1,804.9 333.8,809.5 322.3,811.8 313.2,800.4Z"/>
<path id="luojiang" fill-rule="evenodd" d="M476.1,562.7 473.8,547.8 469.2,544.4 456.6,546.7 458.9,559.2 460,568.4 458.9,575.3 462.3,584.4 466.9,594.7 474.9,598.1 481.8,600.4 477.2,595.9 472.6,587.8 474.9,582.1 476.1,573 479.5,569.5 479.5,565Z"/>
<path id="pingtan" fill-rule="evenodd" d="M603.6,469 611,469.6 611.6,466.2 601.3,465.6ZM591.6,473 595,473 595.6,467.3 592.1,468.4ZM615,483.3 611.6,489 610.4,497 617.3,501.6 624.2,505.1 627.6,501.6 629.9,495.9 635.6,494.8 636.8,491.3 628.7,489 629.9,483.3 636.8,482.2 637.9,478.7 633.3,477.6 629.9,473 623,470.7 620.7,463.9 618.4,469.6 613.9,471.9 609.3,475.3 612.7,478.7ZM620.7,510.8 616.2,510.8 615.6,514.2 620.2,514.8ZM618.4,516.5 615,517.1 614.8,521.1 617.9,521.6Z"/>
<path id="meilie" fill-rule="evenodd" d="M283.4,407.6 285.7,417.8 290.3,420.1 292.6,414.4 299.4,413.3 308.6,414.4 313.2,411 321.2,409.8 325.7,400.7 315.4,398.4 310.9,403 301.7,396.1 297.1,391.5 285.7,396.1Z"/>
<path id="quangang" fill-rule="evenodd" d="M479.5,565 479.5,569.5 488.6,568.4 505.8,571.8 511.5,569.5 517.3,565 513.8,561.5 517.3,557 515,550.1 508.1,548.9 500.1,550.1 490.9,554.7 484.1,560.4Z"/>
<path id="jimei" fill-rule="evenodd" d="M405.3,670.1 409.8,666.7 406.4,663.2 403,658.6 393.8,651.8 390.4,647.2 387,643.8 377.8,643.8 381.2,651.8 381.2,660.9 382.4,665.5 385.8,670.1 388.1,674.7 396.1,674.1 403,674.7Z"/>
<path id="licheng_pt" fill-rule="evenodd" d="M515,505.5 517.3,512.3 520.7,515.8 515,521.5 513.8,527.2 521.8,530.6 525.3,528.4 532.1,527.2 539,529.5 545.9,534.1 551.6,529.5 549.3,522.6 540.1,520.3 529.8,515.8 523,507.8 520.7,500.9 518.4,496.3 511.5,499.7Z"/>
<path id="xiangcheng" fill-rule="evenodd" d="M332.1,657 326.3,664.4 317.2,666.7 317.2,671.2 322.9,675.8 322.9,679.2 329.7,680.4 333.2,685 340,689.5 344.6,689.5 343.5,681.5 349.2,673.5 342.3,666.7 335.5,665.5 334.3,658.6 333.3,658.6Z"/>
<path id="mawei" fill-rule="evenodd" d="M564.7,420.4 567,420.4 576.1,403.2 593.8,403.2 591.6,397.5 585.3,394.1 577.3,396.4 567,393.5 561.8,395.2 558.9,403.2 557.8,410.1 554.4,412.4 560.1,418.1Z"/>
<path id="haicang" fill-rule="evenodd" d="M374.4,668.9 377.8,674.7 382.4,679.2 387,681.5 385.8,688.4 390.4,690.7 393.8,695.3 399.5,694.1 399.2,694.1 400.7,689.5 403,674.7 396.1,674.1 388.1,674.7 385.8,670.1 382.4,665.5 381.2,660.9 374.4,666.7Z"/>
<path id="shishi" fill-rule="evenodd" d="M481.8,622.2 478.4,626.8 473.8,631.3 471.5,634.8 477.2,637 482.9,638.2 486.4,642.8 489.8,641.6 493.2,637 496.7,631.3 498.9,624.5 490.9,623.3 488.6,618.7 484.1,624.5Z"/>
<path id="cangshan" fill-rule="evenodd" d="M549.9,413.2 543,412.7 540.3,411.8 533.5,406.8 531.2,407.3 532.6,409.1 536.2,420 536.7,422.8 538.3,422 540.8,422.8 554.4,423.7 559,424.6 562.6,424.1 564.7,420.4 563.6,419.6 560.1,418.1 554.4,412.4 550.9,410.1 545.4,408.9 545.8,411.8 546.2,410.5 551.2,410.9 552.1,412.7Z"/>
<path id="jinmen" fill-rule="evenodd" d="M447.2,680.4 442.4,681.1 438.3,678.3 435.5,679.7 438.3,687.3 435.5,690.7 439.6,694.1 443.1,692.8 444.4,688.6 446.5,685.2 452,684.5 456.1,687.9 459.5,686.6 461.6,681.1 456.8,672.2 452,670.1 449.2,673.5 449.9,678.3ZM427.3,692.1 430.7,689.3 431.4,685.9 428,685.2 425.9,687.9 425.2,692.1Z"/>
<path id="fengze" fill-rule="evenodd" d="M481.8,600.4 474.9,598.1 466.1,594.5 465.7,593.7 462.5,595.5 461.6,601.9 464.3,604.7 468.9,605.6 468.4,608.8 469.8,611.1 475.3,612.4 477.1,614.7 481.2,613.8 482,612.9 482.9,613 482.8,611.9 483.5,611.1 482.4,608.9Z"/>
<path id="longwen" fill-rule="evenodd" d="M349.2,673.5 343.5,681.5 344.6,689.5 356.1,689.5 358.4,682.7 361.8,680.4 363.5,675.8 353.8,674.7Z"/>
<path id="huli" fill-rule="evenodd" d="M409.8,679.5 414.4,680.6 420.1,678.7 420.1,672.4 415.6,668.9 412.2,665.5 412.1,663.2 409.8,666.7 405.3,670.1 403,674.7 400.7,689.5 401.2,688.1 404.1,689.5 403.1,685 403.5,681.5Z"/>
<path id="siming" fill-rule="evenodd" d="M403.5,681.5 403,685 404.1,689.5 408.7,691.8 414.4,690.7 417.8,687.3 421.3,682.7 420.1,678.7 414.4,680.6 409.8,679.5Z"/>
<path id="licheng_qz" fill-rule="evenodd" d="M460.1,612 461.2,613.1 461.6,615.6 465.2,614.7 464.8,611.1 468.4,608.8 468.9,605.6 464.3,604.7 461.6,601.9 458.9,601.9 455.2,604.2 452.9,609.7 455.2,608.8 457.9,611.1Z"/>
<path id="gulou" fill-rule="evenodd" d="M542.6,401.8 535.3,402.2 534.8,405.4 535.8,408.2 540.3,411.8 543,412.7 545.8,411.8 545.3,408.2Z"/>
<path id="taijiang" fill-rule="evenodd" d="M545.8,411.8 546.2,410.4 551.2,410.9 552.2,412.7 549.9,413.2 543,412.7Z"/>
<g id="north"><polygon points="0,0 0,-41.8 7,-7" fill="#000"/><polygon points="0,0 0,-41.8 -7,-7" fill="#fff"/><polygon points="0,0 42.5,0 7,7" fill="#000"/><polygon points="0,0 42.5,0 7,-7" fill="#fff"/><polygon points="0,0 0,41.8 -7,7" fill="#000"/><polygon points="0,0 0,41.8 7,7" fill="#fff"/><polygon points="0,0 -42.5,0 -7,-7" fill="#000"/><polygon points="0,0 -42.5,0 -7,7" fill="#fff"/><polygon points="0,-41.8 7,-7 42.5,0 7,7 0,41.8 -7,7 -42.5,0 -7,-7" fill="none" stroke="#333" stroke-width="0.6"/></g>
</defs>
<g id="panel_a">
<svg x="48" y="57" width="649.5" height="798" viewBox="48 57 649.5 798" overflow="hidden">
<g transform="translate(0,0) scale(1)" stroke-linejoin="round">
<use href="#jianou" fill="#0000ff" stroke="#0000ff" stroke-width="1.6"/>
<use href="#jianyang" fill="#8cffbd" stroke="#8cffbd" stroke-width="1.6"/>
<use href="#pucheng" fill="#0000ff" stroke="#0000ff" stroke-width="1.6"/>
<use href="#youxi" fill="#0000ff" stroke="#0000ff" stroke-width="1.6"/>
<use href="#changting" fill="#3870ff" stroke="#3870ff" stroke-width="1.6"/>
<use href="#zhangping" fill="#3870ff" stroke="#3870ff" stroke-width="1.6"/>
<use href="#shaowu" fill="#3870ff" stroke="#3870ff" stroke-width="1.6"/>
<use href="#yongan" fill="#3870ff" stroke="#3870ff" stroke-width="1.6"/>
<use href="#anxi" fill="#8cffbd" stroke="#8cffbd" stroke-width="1.6"/>
<use href="#wuyishan" fill="#29dbff" stroke="#29dbff" stroke-width="1.6"/>
<use href="#shanghang" fill="#8cffbd" stroke="#8cffbd" stroke-width="1.6"/>
<use href="#xinluo" fill="#8cffbd" stroke="#8cffbd" stroke-width="1.6"/>
<use href="#liancheng" fill="#3870ff" stroke="#3870ff" stroke-width="1.6"/>
<use href="#yanping" fill="#29dbff" stroke="#29dbff" stroke-width="1.6"/>
<use href="#wuping" fill="#0000ff" stroke="#0000ff" stroke-width="1.6"/>
<use href="#zhangpu" fill="#dbff5e" stroke="#dbff5e" stroke-width="1.6"/>
<use href="#ninghua" fill="#0000ff" stroke="#0000ff" stroke-width="1.6"/>
<use href="#gutian" fill="#29dbff" stroke="#29dbff" stroke-width="1.6"/>
<use href="#dehua" fill="#29dbff" stroke="#29dbff" stroke-width="1.6"/>
<use href="#pinghe" fill="#29dbff" stroke="#29dbff" stroke-width="1.6"/>
<use href="#jiangle" fill="#0000ff" stroke="#0000ff" stroke-width="1.6"/>
<use href="#datian" fill="#3870ff" stroke="#3870ff" stroke-width="1.6"/>
<use href="#minhou" fill="#dbff5e" stroke="#dbff5e" stroke-width="1.6"/>
<use href="#guangze" fill="#0000ff" stroke="#0000ff" stroke-width="1.6"/>
<use href="#yongding" fill="#29dbff" stroke="#29dbff" stroke-width="1.6"/>
<use href="#yongtai" fill="#29dbff" stroke="#29dbff" stroke-width="1.6"/>
<use href="#shunchang" fill="#3870ff" stroke="#3870ff" stroke-width="1.6"/>
<use href="#nanan" fill="#ffe000" stroke="#ffe000" stroke-width="1.6"/>
<use href="#nanjing" fill="#8cffbd" stroke="#8cffbd" stroke-width="1.6"/>
<use href="#shaxian" fill="#29dbff" stroke="#29dbff" stroke-width="1.6"/>
<use href="#xianyou" fill="#dbff5e" stroke="#dbff5e" stroke-width="1.6"/>
<use href="#fuan" fill="#8cffbd" stroke="#8cffbd" stroke-width="1.6"/>
<use href="#qingliu" fill="#0000ff" stroke="#0000ff" stroke-width="1.6"/>
<use href="#jianning" fill="#0000ff" stroke="#0000ff" stroke-width="1.6"/>
<use href="#fuqing" fill="#ffe000" stroke="#ffe000" stroke-width="1.6"/>
<use href="#mingxi" fill="#0000ff" stroke="#0000ff" stroke-width="1.6"/>
<use href="#zhenghe" fill="#3870ff" stroke="#3870ff" stroke-width="1.6"/>
<use href="#xiapu" fill="#8cffbd" stroke="#8cffbd" stroke-width="1.6"/>
<use href="#fuding" fill="#dbff5e" stroke="#dbff5e" stroke-width="1.6"/>
<use href="#taining" fill="#0000ff" stroke="#0000ff" stroke-width="1.6"/>
<use href="#pingnan" fill="#3870ff" stroke="#3870ff" stroke-width="1.6"/>
<use href="#shouning" fill="#3870ff" stroke="#3870ff" stroke-width="1.6"/>
<use href="#minqing" fill="#29dbff" stroke="#29dbff" stroke-width="1.6"/>
<use href="#yongchun" fill="#8cffbd" stroke="#8cffbd" stroke-width="1.6"/>
<use href="#longhai" fill="#ffe000" stroke="#ffe000" stroke-width="1.6"/>
<use href="#lianjiang" fill="#dbff5e" stroke="#dbff5e" stroke-width="1.6"/>
<use href="#jiaocheng" fill="#dbff5e" stroke="#dbff5e" stroke-width="1.6"/>
<use href="#zhaoan" fill="#8cffbd" stroke="#8cffbd" stroke-width="1.6"/>
<use href="#huaan" fill="#29dbff" stroke="#29dbff" stroke-width="1.6"/>
<use href="#yunxiao" fill="#dbff5e" stroke="#dbff5e" stroke-width="1.6"/>
<use href="#zhouning" fill="#29dbff" stroke="#29dbff" stroke-width="1.6"/>
<use href="#luoyuan" fill="#dbff5e" stroke="#dbff5e" stroke-width="1.6"/>
<use href="#songxi" fill="#3870ff" stroke="#3870ff" stroke-width="1.6"/>
<use href="#changtai" fill="#dbff5e" stroke="#dbff5e" stroke-width="1.6"/>
<use href="#hanjiang" fill="#ffe000" stroke="#ffe000" stroke-width="1.6"/>
<use href="#huian" fill="#ff8800" stroke="#ff8800" stroke-width="1.6"/>
<use href="#sanyuan" fill="#8cffbd" stroke="#8cffbd" stroke-width="1.6"/>
<use href="#changle" fill="#ff8800" stroke="#ff8800" stroke-width="1.6"/>
<use href="#jinjiang" fill="#ff8800" stroke="#ff8800" stroke-width="1.6"/>
<use href="#tongan" fill="#ff8800" stroke="#ff8800" stroke-width="1.6"/>
<use href="#xiuyu" fill="#ffe000" stroke="#ffe000" stroke-width="1.6"/>
<use href="#zherong" fill="#8cffbd" stroke="#8cffbd" stroke-width="1.6"/>
<use href="#jinan" fill="#ffe000" stroke="#ffe000" stroke-width="1.6"/>
<use href="#chengxiang" fill="#ffe000" stroke="#ffe000" stroke-width="1.6"/>
<use href="#xiangan" fill="#ff8800" stroke="#ff8800" stroke-width="1.6"/>
<use href="#dongshan" fill="#ffe000" stroke="#ffe000" stroke-width="1.6"/>
<use href="#luojiang" fill="#ffe000" stroke="#ffe000" stroke-width="1.6"/>
<use href="#pingtan" fill="#ff8800" stroke="#ff8800" stroke-width="1.6"/>
<use href="#meilie" fill="#dbff5e" stroke="#dbff5e" stroke-width="1.6"/>
<use href="#quangang" fill="#ff8800" stroke="#ff8800" stroke-width="1.6"/>
<use href="#jimei" fill="#ff8800" stroke="#ff8800" stroke-width="1.6"/>
<use href="#licheng_pt" fill="#ff8800" stroke="#ff8800" stroke-width="1.6"/>
<use href="#xiangcheng" fill="#ff8800" stroke="#ff8800" stroke-width="1.6"/>
<use href="#mawei" fill="#ffe000" stroke="#ffe000" stroke-width="1.6"/>
<use href="#haicang" fill="#ff0000" stroke="#ff0000" stroke-width="1.6"/>
<use href="#shishi" fill="#ff0000" stroke="#ff0000" stroke-width="1.6"/>
<use href="#cangshan" fill="#ff0000" stroke="#ff0000" stroke-width="1.6"/>
<use href="#fengze" fill="#ff0000" stroke="#ff0000" stroke-width="1.6"/>
<use href="#longwen" fill="#ff0000" stroke="#ff0000" stroke-width="1.6"/>
<use href="#huli" fill="#ff0000" stroke="#ff0000" stroke-width="1.6"/>
<use href="#siming" fill="#ff0000" stroke="#ff0000" stroke-width="1.6"/>
<use href="#licheng_qz" fill="#ff0000" stroke="#ff0000" stroke-width="1.6"/>
<use href="#gulou" fill="#ff0000" stroke="#ff0000" stroke-width="1.6"/>
<use href="#taijiang" fill="#ff0000" stroke="#ff0000" stroke-width="1.6"/>
<g fill="none" stroke="#6e6e6e" stroke-width="0.5" stroke-opacity="0.7">
<use href="#jianou"/>
<use href="#jianyang"/>
<use href="#pucheng"/>
<use href="#youxi"/>
<use href="#changting"/>
<use href="#zhangping"/>
<use href="#shaowu"/>
<use href="#yongan"/>
<use href="#anxi"/>
<use href="#wuyishan"/>
<use href="#shanghang"/>
<use href="#xinluo"/>
<use href="#liancheng"/>
<use href="#yanping"/>
<use href="#wuping"/>
<use href="#zhangpu"/>
<use href="#ninghua"/>
<use href="#gutian"/>
<use href="#dehua"/>
<use href="#pinghe"/>
<use href="#jiangle"/>
<use href="#datian"/>
<use href="#minhou"/>
<use href="#guangze"/>
<use href="#yongding"/>
<use href="#yongtai"/>
<use href="#shunchang"/>
<use href="#nanan"/>
<use href="#nanjing"/>
<use href="#shaxian"/>
<use href="#xianyou"/>
<use href="#fuan"/>
<use href="#qingliu"/>
<use href="#jianning"/>
<use href="#fuqing"/>
<use href="#mingxi"/>
<use href="#zhenghe"/>
<use href="#xiapu"/>
<use href="#fuding"/>
<use href="#taining"/>
<use href="#pingnan"/>
<use href="#shouning"/>
<use href="#minqing"/>
<use href="#yongchun"/>
<use href="#longhai"/>
<use href="#lianjiang"/>
<use href="#jiaocheng"/>
<use href="#zhaoan"/>
<use href="#huaan"/>
<use href="#yunxiao"/>
<use href="#zhouning"/>
<use href="#luoyuan"/>
<use href="#songxi"/>
<use href="#changtai"/>
<use href="#hanjiang"/>
<use href="#huian"/>
<use href="#sanyuan"/>
<use href="#changle"/>
<use href="#jinjiang"/>
<use href="#tongan"/>
<use href="#xiuyu"/>
<use href="#zherong"/>
<use href="#jinan"/>
<use href="#chengxiang"/>
<use href="#xiangan"/>
<use href="#dongshan"/>
<use href="#luojiang"/>
<use href="#pingtan"/>
<use href="#meilie"/>
<use href="#quangang"/>
<use href="#jimei"/>
<use href="#licheng_pt"/>
<use href="#xiangcheng"/>
<use href="#mawei"/>
<use href="#haicang"/>
<use href="#shishi"/>
<use href="#cangshan"/>
<use href="#fengze"/>
<use href="#longwen"/>
<use href="#huli"/>
<use href="#siming"/>
<use href="#licheng_qz"/>
<use href="#gulou"/>
<use href="#taijiang"/>
</g>
</g>
<use href="#north" transform="translate(606.3,130.4) scale(1)"/>
<text x="606.4" y="81.6" font-size="22" text-anchor="middle">N</text>
<text x="90" y="147" font-size="39">(a)</text>
<text x="532" y="615.5" font-size="19.8" font-weight="bold">Legend</text>
<rect x="531.2" y="628.7" width="39" height="19" fill="#0000ff" stroke="#9c9c9c" stroke-width="1"/>
<text x="577.2" y="645.2" font-size="19.9">0.44 - 0.56</text>
<rect x="531.2" y="656.17" width="39" height="19" fill="#3870ff" stroke="#9c9c9c" stroke-width="1"/>
<text x="577.2" y="672.67" font-size="19.9">0.56 - 0.70</text>
<rect x="531.2" y="683.64" width="39" height="19" fill="#29dbff" stroke="#9c9c9c" stroke-width="1"/>
<text x="577.2" y="700.14" font-size="19.9">0.70 - 0.93</text>
<rect x="531.2" y="711.11" width="39" height="19" fill="#8cffbd" stroke="#9c9c9c" stroke-width="1"/>
<text x="577.2" y="727.61" font-size="19.9">0.93 - 1.82</text>
<rect x="531.2" y="738.58" width="39" height="19" fill="#dbff5e" stroke="#9c9c9c" stroke-width="1"/>
<text x="577.2" y="755.08" font-size="19.9">1.82 - 3.08</text>
<rect x="531.2" y="766.05" width="39" height="19" fill="#ffe000" stroke="#9c9c9c" stroke-width="1"/>
<text x="577.2" y="782.55" font-size="19.9">3.08 - 6.76</text>
<rect x="531.2" y="793.52" width="39" height="19" fill="#ff8800" stroke="#9c9c9c" stroke-width="1"/>
<text x="577.2" y="810.02" font-size="19.9">6.76 - 17.99</text>
<rect x="531.2" y="820.99" width="39" height="19" fill="#ff0000" stroke="#9c9c9c" stroke-width="1"/>
<text x="577.2" y="837.49" font-size="19.9">17.99 - 53.01</text>
<rect x="63" y="775" width="118.8" height="19.2" fill="#fff" stroke="#c8c8c8" stroke-width="1.6"/>
<text x="190.5" y="792.5" font-size="20">County</text>
<rect x="65.2" y="816" width="145" height="9" fill="#000"/>
<rect x="95" y="817.6" width="28" height="5.8" fill="#fff"/>
<rect x="152.6" y="817.6" width="28" height="5.8" fill="#fff"/>
<text x="218.5" y="825.5" font-size="20">km</text>
<text x="66" y="847" font-size="20" text-anchor="middle">0</text>
<text x="209.7" y="847" font-size="20" text-anchor="middle">100</text>
</svg>
<rect x="48" y="57" width="649.5" height="798" fill="none" stroke="#1a1a1a" stroke-width="2.2"/>
<line x1="170.3" y1="57" x2="170.3" y2="63.5" stroke="#111" stroke-width="1.6"/>
<text x="170.3" y="43.4" font-size="25" text-anchor="middle">117°0'0&quot;E</text>
<line x1="380.3" y1="57" x2="380.3" y2="63.5" stroke="#111" stroke-width="1.6"/>
<text x="380.3" y="43.4" font-size="25" text-anchor="middle">118°30'0&quot;E</text>
<line x1="590.3" y1="57" x2="590.3" y2="63.5" stroke="#111" stroke-width="1.6"/>
<text x="590.3" y="43.4" font-size="25" text-anchor="middle">120°0'0&quot;E</text>
<line x1="266.8" y1="855" x2="266.8" y2="848.5" stroke="#111" stroke-width="1.6"/>
<line x1="489.2" y1="855" x2="489.2" y2="848.5" stroke="#111" stroke-width="1.6"/>
<line x1="48" y1="82" x2="54.5" y2="82" stroke="#111" stroke-width="1.6"/>
<text transform="translate(34.6,82) rotate(-90)" font-size="25.3" text-anchor="middle">28°30'0&quot;N</text>
<line x1="48" y1="323.2" x2="54.5" y2="323.2" stroke="#111" stroke-width="1.6"/>
<text transform="translate(34.6,323.2) rotate(-90)" font-size="25.3" text-anchor="middle">27°0'0&quot;N</text>
<line x1="48" y1="563" x2="54.5" y2="563" stroke="#111" stroke-width="1.6"/>
<text transform="translate(34.6,563) rotate(-90)" font-size="25.3" text-anchor="middle">25°30'0&quot;N</text>
<line x1="48" y1="803" x2="54.5" y2="803" stroke="#111" stroke-width="1.6"/>
<text transform="translate(34.6,803) rotate(-90)" font-size="25.3" text-anchor="middle">24°0'0&quot;N</text>
<line x1="697.5" y1="236.5" x2="691" y2="236.5" stroke="#111" stroke-width="1.6"/>
<line x1="697.5" y1="478" x2="691" y2="478" stroke="#111" stroke-width="1.6"/>
<line x1="697.5" y1="718.7" x2="691" y2="718.7" stroke="#111" stroke-width="1.6"/>
</g>
<g id="panel_b">
<svg x="777" y="57" width="650" height="798" viewBox="777 57 650 798" overflow="hidden">
<g transform="translate(729,0) scale(1)" stroke-linejoin="round">
<use href="#jianou" fill="#3870ff" stroke="#3870ff" stroke-width="1.6"/>
<use href="#jianyang" fill="#29dbff" stroke="#29dbff" stroke-width="1.6"/>
<use href="#pucheng" fill="#0000ff" stroke="#0000ff" stroke-width="1.6"/>
<use href="#youxi" fill="#3870ff" stroke="#3870ff" stroke-width="1.6"/>
<use href="#changting" fill="#3870ff" stroke="#3870ff" stroke-width="1.6"/>
<use href="#zhangping" fill="#3870ff" stroke="#3870ff" stroke-width="1.6"/>
<use href="#shaowu" fill="#3870ff" stroke="#3870ff" stroke-width="1.6"/>
<use href="#yongan" fill="#3870ff" stroke="#3870ff" stroke-width="1.6"/>
<use href="#anxi" fill="#29dbff" stroke="#29dbff" stroke-width="1.6"/>
<use href="#wuyishan" fill="#29dbff" stroke="#29dbff" stroke-width="1.6"/>
<use href="#shanghang" fill="#29dbff" stroke="#29dbff" stroke-width="1.6"/>
<use href="#xinluo" fill="#29dbff" stroke="#29dbff" stroke-width="1.6"/>
<use href="#liancheng" fill="#3870ff" stroke="#3870ff" stroke-width="1.6"/>
<use href="#yanping" fill="#3870ff" stroke="#3870ff" stroke-width="1.6"/>
<use href="#wuping" fill="#0000ff" stroke="#0000ff" stroke-width="1.6"/>
<use href="#zhangpu" fill="#dbff5e" stroke="#dbff5e" stroke-width="1.6"/>
<use href="#ninghua" fill="#3870ff" stroke="#3870ff" stroke-width="1.6"/>
<use href="#gutian" fill="#3870ff" stroke="#3870ff" stroke-width="1.6"/>
<use href="#dehua" fill="#29dbff" stroke="#29dbff" stroke-width="1.6"/>
<use href="#pinghe" fill="#3870ff" stroke="#3870ff" stroke-width="1.6"/>
<use href="#jiangle" fill="#3870ff" stroke="#3870ff" stroke-width="1.6"/>
<use href="#datian" fill="#3870ff" stroke="#3870ff" stroke-width="1.6"/>
<use href="#minhou" fill="#8cffbd" stroke="#8cffbd" stroke-width="1.6"/>
<use href="#guangze" fill="#3870ff" stroke="#3870ff" stroke-width="1.6"/>
<use href="#yongding" fill="#3870ff" stroke="#3870ff" stroke-width="1.6"/>
<use href="#yongtai" fill="#3870ff" stroke="#3870ff" stroke-width="1.6"/>
<use href="#shunchang" fill="#3870ff" stroke="#3870ff" stroke-width="1.6"/>
<use href="#nanan" fill="#8cffbd" stroke="#8cffbd" stroke-width="1.6"/>
<use href="#nanjing" fill="#29dbff" stroke="#29dbff" stroke-width="1.6"/>
<use href="#shaxian" fill="#29dbff" stroke="#29dbff" stroke-width="1.6"/>
<use href="#xianyou" fill="#8cffbd" stroke="#8cffbd" stroke-width="1.6"/>
<use href="#fuan" fill="#29dbff" stroke="#29dbff" stroke-width="1.6"/>
<use href="#qingliu" fill="#0000ff" stroke="#0000ff" stroke-width="1.6"/>
<use href="#jianning" fill="#3870ff" stroke="#3870ff" stroke-width="1.6"/>
<use href="#fuqing" fill="#ffe000" stroke="#ffe000" stroke-width="1.6"/>
<use href="#mingxi" fill="#3870ff" stroke="#3870ff" stroke-width="1.6"/>
<use href="#zhenghe" fill="#3870ff" stroke="#3870ff" stroke-width="1.6"/>
<use href="#xiapu" fill="#29dbff" stroke="#29dbff" stroke-width="1.6"/>
<use href="#fuding" fill="#8cffbd" stroke="#8cffbd" stroke-width="1.6"/>
<use href="#taining" fill="#3870ff" stroke="#3870ff" stroke-width="1.6"/>
<use href="#pingnan" fill="#3870ff" stroke="#3870ff" stroke-width="1.6"/>
<use href="#shouning" fill="#3870ff" stroke="#3870ff" stroke-width="1.6"/>
<use href="#minqing" fill="#3870ff" stroke="#3870ff" stroke-width="1.6"/>
<use href="#yongchun" fill="#29dbff" stroke="#29dbff" stroke-width="1.6"/>
<use href="#longhai" fill="#dbff5e" stroke="#dbff5e" stroke-width="1.6"/>
<use href="#lianjiang" fill="#8cffbd" stroke="#8cffbd" stroke-width="1.6"/>
<use href="#jiaocheng" fill="#dbff5e" stroke="#dbff5e" stroke-width="1.6"/>
<use href="#zhaoan" fill="#29dbff" stroke="#29dbff" stroke-width="1.6"/>
<use href="#huaan" fill="#3870ff" stroke="#3870ff" stroke-width="1.6"/>
<use href="#yunxiao" fill="#8cffbd" stroke="#8cffbd" stroke-width="1.6"/>
<use href="#zhouning" fill="#3870ff" stroke="#3870ff" stroke-width="1.6"/>
<use href="#luoyuan" fill="#8cffbd" stroke="#8cffbd" stroke-width="1.6"/>
<use href="#songxi" fill="#3870ff" stroke="#3870ff" stroke-width="1.6"/>
<use href="#changtai" fill="#8cffbd" stroke="#8cffbd" stroke-width="1.6"/>
<use href="#hanjiang" fill="#dbff5e" stroke="#dbff5e" stroke-width="1.6"/>
<use href="#huian" fill="#ffe000" stroke="#ffe000" stroke-width="1.6"/>
<use href="#sanyuan" fill="#29dbff" stroke="#29dbff" stroke-width="1.6"/>
<use href="#changle" fill="#dbff5e" stroke="#dbff5e" stroke-width="1.6"/>
<use href="#jinjiang" fill="#ffe000" stroke="#ffe000" stroke-width="1.6"/>
<use href="#tongan" fill="#ffe000" stroke="#ffe000" stroke-width="1.6"/>
<use href="#xiuyu" fill="#8cffbd" stroke="#8cffbd" stroke-width="1.6"/>
<use href="#zherong" fill="#29dbff" stroke="#29dbff" stroke-width="1.6"/>
<use href="#jinan" fill="#ffe000" stroke="#ffe000" stroke-width="1.6"/>
<use href="#chengxiang" fill="#dbff5e" stroke="#dbff5e" stroke-width="1.6"/>
<use href="#xiangan" fill="#ff8800" stroke="#ff8800" stroke-width="1.6"/>
<use href="#dongshan" fill="#8cffbd" stroke="#8cffbd" stroke-width="1.6"/>
<use href="#luojiang" fill="#8cffbd" stroke="#8cffbd" stroke-width="1.6"/>
<use href="#pingtan" fill="#dbff5e" stroke="#dbff5e" stroke-width="1.6"/>
<use href="#meilie" fill="#dbff5e" stroke="#dbff5e" stroke-width="1.6"/>
<use href="#quangang" fill="#ff8800" stroke="#ff8800" stroke-width="1.6"/>
<use href="#jimei" fill="#ff8800" stroke="#ff8800" stroke-width="1.6"/>
<use href="#licheng_pt" fill="#ffe000" stroke="#ffe000" stroke-width="1.6"/>
<use href="#xiangcheng" fill="#ff8800" stroke="#ff8800" stroke-width="1.6"/>
<use href="#mawei" fill="#dbff5e" stroke="#dbff5e" stroke-width="1.6"/>
<use href="#haicang" fill="#ff0000" stroke="#ff0000" stroke-width="1.6"/>
<use href="#shishi" fill="#ff8800" stroke="#ff8800" stroke-width="1.6"/>
<use href="#cangshan" fill="#ffe000" stroke="#ffe000" stroke-width="1.6"/>
<use href="#jinmen" fill="#0000ff" stroke="#0000ff" stroke-width="1.6"/>
<use href="#fengze" fill="#ff8800" stroke="#ff8800" stroke-width="1.6"/>
<use href="#longwen" fill="#ff0000" stroke="#ff0000" stroke-width="1.6"/>
<use href="#huli" fill="#ff0000" stroke="#ff0000" stroke-width="1.6"/>
<use href="#siming" fill="#ff8800" stroke="#ff8800" stroke-width="1.6"/>
<use href="#licheng_qz" fill="#ffe000" stroke="#ffe000" stroke-width="1.6"/>
<use href="#gulou" fill="#ff8800" stroke="#ff8800" stroke-width="1.6"/>
<use href="#taijiang" fill="#dbff5e" stroke="#dbff5e" stroke-width="1.6"/>
<g fill="none" stroke="#6e6e6e" stroke-width="0.5" stroke-opacity="0.7">
<use href="#jianou"/>
<use href="#jianyang"/>
<use href="#pucheng"/>
<use href="#youxi"/>
<use href="#changting"/>
<use href="#zhangping"/>
<use href="#shaowu"/>
<use href="#yongan"/>
<use href="#anxi"/>
<use href="#wuyishan"/>
<use href="#shanghang"/>
<use href="#xinluo"/>
<use href="#liancheng"/>
<use href="#yanping"/>
<use href="#wuping"/>
<use href="#zhangpu"/>
<use href="#ninghua"/>
<use href="#gutian"/>
<use href="#dehua"/>
<use href="#pinghe"/>
<use href="#jiangle"/>
<use href="#datian"/>
<use href="#minhou"/>
<use href="#guangze"/>
<use href="#yongding"/>
<use href="#yongtai"/>
<use href="#shunchang"/>
<use href="#nanan"/>
<use href="#nanjing"/>
<use href="#shaxian"/>
<use href="#xianyou"/>
<use href="#fuan"/>
<use href="#qingliu"/>
<use href="#jianning"/>
<use href="#fuqing"/>
<use href="#mingxi"/>
<use href="#zhenghe"/>
<use href="#xiapu"/>
<use href="#fuding"/>
<use href="#taining"/>
<use href="#pingnan"/>
<use href="#shouning"/>
<use href="#minqing"/>
<use href="#yongchun"/>
<use href="#longhai"/>
<use href="#lianjiang"/>
<use href="#jiaocheng"/>
<use href="#zhaoan"/>
<use href="#huaan"/>
<use href="#yunxiao"/>
<use href="#zhouning"/>
<use href="#luoyuan"/>
<use href="#songxi"/>
<use href="#changtai"/>
<use href="#hanjiang"/>
<use href="#huian"/>
<use href="#sanyuan"/>
<use href="#changle"/>
<use href="#jinjiang"/>
<use href="#tongan"/>
<use href="#xiuyu"/>
<use href="#zherong"/>
<use href="#jinan"/>
<use href="#chengxiang"/>
<use href="#xiangan"/>
<use href="#dongshan"/>
<use href="#luojiang"/>
<use href="#pingtan"/>
<use href="#meilie"/>
<use href="#quangang"/>
<use href="#jimei"/>
<use href="#licheng_pt"/>
<use href="#xiangcheng"/>
<use href="#mawei"/>
<use href="#haicang"/>
<use href="#shishi"/>
<use href="#cangshan"/>
<use href="#jinmen"/>
<use href="#fengze"/>
<use href="#longwen"/>
<use href="#huli"/>
<use href="#siming"/>
<use href="#licheng_qz"/>
<use href="#gulou"/>
<use href="#taijiang"/>
</g>
</g>
<use href="#north" transform="translate(1335.3,130.4) scale(1)"/>
<text x="1335.4" y="81.6" font-size="22" text-anchor="middle">N</text>
<text x="819" y="147" font-size="39">(b)</text>
<text x="1261" y="615.5" font-size="19.8" font-weight="bold">Legend</text>
<rect x="1260.2" y="628.7" width="39" height="19" fill="#0000ff" stroke="#9c9c9c" stroke-width="1"/>
<text x="1306.2" y="645.2" font-size="19.9">0.00 - 0.96</text>
<rect x="1260.2" y="656.17" width="39" height="19" fill="#3870ff" stroke="#9c9c9c" stroke-width="1"/>
<text x="1306.2" y="672.67" font-size="19.9">0.96 - 2.20</text>
<rect x="1260.2" y="683.64" width="39" height="19" fill="#29dbff" stroke="#9c9c9c" stroke-width="1"/>
<text x="1306.2" y="700.14" font-size="19.9">2.20 - 3.64</text>
<rect x="1260.2" y="711.11" width="39" height="19" fill="#8cffbd" stroke="#9c9c9c" stroke-width="1"/>
<text x="1306.2" y="727.61" font-size="19.9">3.64 - 6.30</text>
<rect x="1260.2" y="738.58" width="39" height="19" fill="#dbff5e" stroke="#9c9c9c" stroke-width="1"/>
<text x="1306.2" y="755.08" font-size="19.9">6.30 - 8.77</text>
<rect x="1260.2" y="766.05" width="39" height="19" fill="#ffe000" stroke="#9c9c9c" stroke-width="1"/>
<text x="1306.2" y="782.55" font-size="19.9">8.77 - 12.87</text>
<rect x="1260.2" y="793.52" width="39" height="19" fill="#ff8800" stroke="#9c9c9c" stroke-width="1"/>
<text x="1306.2" y="810.02" font-size="19.9">12.87 - 17.07</text>
<rect x="1260.2" y="820.99" width="39" height="19" fill="#ff0000" stroke="#9c9c9c" stroke-width="1"/>
<text x="1306.2" y="837.49" font-size="19.9">17.07 - 26.42</text>
<rect x="792" y="775" width="118.8" height="19.2" fill="#fff" stroke="#c8c8c8" stroke-width="1.6"/>
<text x="919.5" y="792.5" font-size="20">County</text>
<rect x="794.2" y="816" width="145" height="9" fill="#000"/>
<rect x="824" y="817.6" width="28" height="5.8" fill="#fff"/>
<rect x="881.6" y="817.6" width="28" height="5.8" fill="#fff"/>
<text x="947.5" y="825.5" font-size="20">km</text>
<text x="795" y="847" font-size="20" text-anchor="middle">0</text>
<text x="938.7" y="847" font-size="20" text-anchor="middle">100</text>
</svg>
<rect x="777" y="57" width="650" height="798" fill="none" stroke="#1a1a1a" stroke-width="2.2"/>
<line x1="899.3" y1="57" x2="899.3" y2="63.5" stroke="#111" stroke-width="1.6"/>
<text x="899.3" y="43.4" font-size="25" text-anchor="middle">117°0'0&quot;E</text>
<line x1="1109.3" y1="57" x2="1109.3" y2="63.5" stroke="#111" stroke-width="1.6"/>
<text x="1109.3" y="43.4" font-size="25" text-anchor="middle">118°30'0&quot;E</text>
<line x1="1319.3" y1="57" x2="1319.3" y2="63.5" stroke="#111" stroke-width="1.6"/>
<text x="1319.3" y="43.4" font-size="25" text-anchor="middle">120°0'0&quot;E</text>
<line x1="995.8" y1="855" x2="995.8" y2="848.5" stroke="#111" stroke-width="1.6"/>
<line x1="1218.2" y1="855" x2="1218.2" y2="848.5" stroke="#111" stroke-width="1.6"/>
<line x1="777" y1="82" x2="783.5" y2="82" stroke="#111" stroke-width="1.6"/>
<text transform="translate(763.6,82) rotate(-90)" font-size="25.3" text-anchor="middle">28°30'0&quot;N</text>
<line x1="777" y1="323.2" x2="783.5" y2="323.2" stroke="#111" stroke-width="1.6"/>
<text transform="translate(763.6,323.2) rotate(-90)" font-size="25.3" text-anchor="middle">27°0'0&quot;N</text>
<line x1="777" y1="563" x2="783.5" y2="563" stroke="#111" stroke-width="1.6"/>
<text transform="translate(763.6,563) rotate(-90)" font-size="25.3" text-anchor="middle">25°30'0&quot;N</text>
<line x1="777" y1="803" x2="783.5" y2="803" stroke="#111" stroke-width="1.6"/>
<text transform="translate(763.6,803) rotate(-90)" font-size="25.3" text-anchor="middle">24°0'0&quot;N</text>
<line x1="1427" y1="236.5" x2="1420.5" y2="236.5" stroke="#111" stroke-width="1.6"/>
<line x1="1427" y1="478" x2="1420.5" y2="478" stroke="#111" stroke-width="1.6"/>
<line x1="1427" y1="718.7" x2="1420.5" y2="718.7" stroke="#111" stroke-width="1.6"/>
</g>
<g id="panel_c">
<svg x="1506.3" y="56.1" width="644.2" height="792.9" viewBox="1506.3 56.1 644.2 792.9" overflow="hidden">
<g transform="translate(1457.81,-0.1295) scale(0.9935)" stroke-linejoin="round">
<use href="#jianou" fill="#3870ff" stroke="#3870ff" stroke-width="1.6"/>
<use href="#jianyang" fill="#3870ff" stroke="#3870ff" stroke-width="1.6"/>
<use href="#pucheng" fill="#3870ff" stroke="#3870ff" stroke-width="1.6"/>
<use href="#youxi" fill="#3870ff" stroke="#3870ff" stroke-width="1.6"/>
<use href="#changting" fill="#3870ff" stroke="#3870ff" stroke-width="1.6"/>
<use href="#zhangping" fill="#3870ff" stroke="#3870ff" stroke-width="1.6"/>
<use href="#shaowu" fill="#3870ff" stroke="#3870ff" stroke-width="1.6"/>
<use href="#yongan" fill="#3870ff" stroke="#3870ff" stroke-width="1.6"/>
<use href="#anxi" fill="#3870ff" stroke="#3870ff" stroke-width="1.6"/>
<use href="#wuyishan" fill="#3870ff" stroke="#3870ff" stroke-width="1.6"/>
<use href="#shanghang" fill="#3870ff" stroke="#3870ff" stroke-width="1.6"/>
<use href="#xinluo" fill="#3870ff" stroke="#3870ff" stroke-width="1.6"/>
<use href="#liancheng" fill="#3870ff" stroke="#3870ff" stroke-width="1.6"/>
<use href="#yanping" fill="#3870ff" stroke="#3870ff" stroke-width="1.6"/>
<use href="#wuping" fill="#3870ff" stroke="#3870ff" stroke-width="1.6"/>
<use href="#zhangpu" fill="#29dbff" stroke="#29dbff" stroke-width="1.6"/>
<use href="#ninghua" fill="#3870ff" stroke="#3870ff" stroke-width="1.6"/>
<use href="#gutian" fill="#3870ff" stroke="#3870ff" stroke-width="1.6"/>
<use href="#dehua" fill="#3870ff" stroke="#3870ff" stroke-width="1.6"/>
<use href="#pinghe" fill="#3870ff" stroke="#3870ff" stroke-width="1.6"/>
<use href="#jiangle" fill="#3870ff" stroke="#3870ff" stroke-width="1.6"/>
<use href="#datian" fill="#3870ff" stroke="#3870ff" stroke-width="1.6"/>
<use href="#minhou" fill="#3870ff" stroke="#3870ff" stroke-width="1.6"/>
<use href="#guangze" fill="#3870ff" stroke="#3870ff" stroke-width="1.6"/>
<use href="#yongding" fill="#3870ff" stroke="#3870ff" stroke-width="1.6"/>
<use href="#yongtai" fill="#3870ff" stroke="#3870ff" stroke-width="1.6"/>
<use href="#shunchang" fill="#3870ff" stroke="#3870ff" stroke-width="1.6"/>
<use href="#nanan" fill="#29dbff" stroke="#29dbff" stroke-width="1.6"/>
<use href="#nanjing" fill="#3870ff" stroke="#3870ff" stroke-width="1.6"/>
<use href="#shaxian" fill="#3870ff" stroke="#3870ff" stroke-width="1.6"/>
<use href="#xianyou" fill="#3870ff" stroke="#3870ff" stroke-width="1.6"/>
<use href="#fuan" fill="#29dbff" stroke="#29dbff" stroke-width="1.6"/>
<use href="#qingliu" fill="#3870ff" stroke="#3870ff" stroke-width="1.6"/>
<use href="#jianning" fill="#3870ff" stroke="#3870ff" stroke-width="1.6"/>
<use href="#fuqing" fill="#29dbff" stroke="#29dbff" stroke-width="1.6"/>
<use href="#mingxi" fill="#3870ff" stroke="#3870ff" stroke-width="1.6"/>
<use href="#zhenghe" fill="#3870ff" stroke="#3870ff" stroke-width="1.6"/>
<use href="#xiapu" fill="#3870ff" stroke="#3870ff" stroke-width="1.6"/>
<use href="#fuding" fill="#3870ff" stroke="#3870ff" stroke-width="1.6"/>
<use href="#taining" fill="#3870ff" stroke="#3870ff" stroke-width="1.6"/>
<use href="#pingnan" fill="#3870ff" stroke="#3870ff" stroke-width="1.6"/>
<use href="#shouning" fill="#3870ff" stroke="#3870ff" stroke-width="1.6"/>
<use href="#minqing" fill="#3870ff" stroke="#3870ff" stroke-width="1.6"/>
<use href="#yongchun" fill="#3870ff" stroke="#3870ff" stroke-width="1.6"/>
<use href="#longhai" fill="#29dbff" stroke="#29dbff" stroke-width="1.6"/>
<use href="#lianjiang" fill="#29dbff" stroke="#29dbff" stroke-width="1.6"/>
<use href="#jiaocheng" fill="#3870ff" stroke="#3870ff" stroke-width="1.6"/>
<use href="#zhaoan" fill="#29dbff" stroke="#29dbff" stroke-width="1.6"/>
<use href="#huaan" fill="#3870ff" stroke="#3870ff" stroke-width="1.6"/>
<use href="#yunxiao" fill="#29dbff" stroke="#29dbff" stroke-width="1.6"/>
<use href="#zhouning" fill="#3870ff" stroke="#3870ff" stroke-width="1.6"/>
<use href="#luoyuan" fill="#3870ff" stroke="#3870ff" stroke-width="1.6"/>
<use href="#songxi" fill="#3870ff" stroke="#3870ff" stroke-width="1.6"/>
<use href="#changtai" fill="#29dbff" stroke="#29dbff" stroke-width="1.6"/>
<use href="#hanjiang" fill="#29dbff" stroke="#29dbff" stroke-width="1.6"/>
<use href="#huian" fill="#8cffbd" stroke="#8cffbd" stroke-width="1.6"/>
<use href="#sanyuan" fill="#3870ff" stroke="#3870ff" stroke-width="1.6"/>
<use href="#changle" fill="#29dbff" stroke="#29dbff" stroke-width="1.6"/>
<use href="#jinjiang" fill="#8cffbd" stroke="#8cffbd" stroke-width="1.6"/>
<use href="#tongan" fill="#29dbff" stroke="#29dbff" stroke-width="1.6"/>
<use href="#xiuyu" fill="#29dbff" stroke="#29dbff" stroke-width="1.6"/>
<use href="#zherong" fill="#29dbff" stroke="#29dbff" stroke-width="1.6"/>
<use href="#jinan" fill="#29dbff" stroke="#29dbff" stroke-width="1.6"/>
<use href="#chengxiang" fill="#29dbff" stroke="#29dbff" stroke-width="1.6"/>
<use href="#xiangan" fill="#8cffbd" stroke="#8cffbd" stroke-width="1.6"/>
<use href="#dongshan" fill="#29dbff" stroke="#29dbff" stroke-width="1.6"/>
<use href="#luojiang" fill="#29dbff" stroke="#29dbff" stroke-width="1.6"/>
<use href="#pingtan" fill="#29dbff" stroke="#29dbff" stroke-width="1.6"/>
<use href="#meilie" fill="#3870ff" stroke="#3870ff" stroke-width="1.6"/>
<use href="#quangang" fill="#8cffbd" stroke="#8cffbd" stroke-width="1.6"/>
<use href="#jimei" fill="#8cffbd" stroke="#8cffbd" stroke-width="1.6"/>
<use href="#licheng_pt" fill="#8cffbd" stroke="#8cffbd" stroke-width="1.6"/>
<use href="#xiangcheng" fill="#8cffbd" stroke="#8cffbd" stroke-width="1.6"/>
<use href="#mawei" fill="#8cffbd" stroke="#8cffbd" stroke-width="1.6"/>
<use href="#haicang" fill="#dbff5e" stroke="#dbff5e" stroke-width="1.6"/>
<use href="#shishi" fill="#ffe000" stroke="#ffe000" stroke-width="1.6"/>
<use href="#cangshan" fill="#ff8800" stroke="#ff8800" stroke-width="1.6"/>
<use href="#jinmen" fill="#0000ff" stroke="#0000ff" stroke-width="1.6"/>
<use href="#fengze" fill="#dbff5e" stroke="#dbff5e" stroke-width="1.6"/>
<use href="#longwen" fill="#dbff5e" stroke="#dbff5e" stroke-width="1.6"/>
<use href="#huli" fill="#ff8800" stroke="#ff8800" stroke-width="1.6"/>
<use href="#siming" fill="#ffe000" stroke="#ffe000" stroke-width="1.6"/>
<use href="#licheng_qz" fill="#dbff5e" stroke="#dbff5e" stroke-width="1.6"/>
<use href="#gulou" fill="#ff8800" stroke="#ff8800" stroke-width="1.6"/>
<use href="#taijiang" fill="#ff0000" stroke="#ff0000" stroke-width="1.6"/>
<g fill="none" stroke="#6e6e6e" stroke-width="0.5" stroke-opacity="0.7">
<use href="#jianou"/>
<use href="#jianyang"/>
<use href="#pucheng"/>
<use href="#youxi"/>
<use href="#changting"/>
<use href="#zhangping"/>
<use href="#shaowu"/>
<use href="#yongan"/>
<use href="#anxi"/>
<use href="#wuyishan"/>
<use href="#shanghang"/>
<use href="#xinluo"/>
<use href="#liancheng"/>
<use href="#yanping"/>
<use href="#wuping"/>
<use href="#zhangpu"/>
<use href="#ninghua"/>
<use href="#gutian"/>
<use href="#dehua"/>
<use href="#pinghe"/>
<use href="#jiangle"/>
<use href="#datian"/>
<use href="#minhou"/>
<use href="#guangze"/>
<use href="#yongding"/>
<use href="#yongtai"/>
<use href="#shunchang"/>
<use href="#nanan"/>
<use href="#nanjing"/>
<use href="#shaxian"/>
<use href="#xianyou"/>
<use href="#fuan"/>
<use href="#qingliu"/>
<use href="#jianning"/>
<use href="#fuqing"/>
<use href="#mingxi"/>
<use href="#zhenghe"/>
<use href="#xiapu"/>
<use href="#fuding"/>
<use href="#taining"/>
<use href="#pingnan"/>
<use href="#shouning"/>
<use href="#minqing"/>
<use href="#yongchun"/>
<use href="#longhai"/>
<use href="#lianjiang"/>
<use href="#jiaocheng"/>
<use href="#zhaoan"/>
<use href="#huaan"/>
<use href="#yunxiao"/>
<use href="#zhouning"/>
<use href="#luoyuan"/>
<use href="#songxi"/>
<use href="#changtai"/>
<use href="#hanjiang"/>
<use href="#huian"/>
<use href="#sanyuan"/>
<use href="#changle"/>
<use href="#jinjiang"/>
<use href="#tongan"/>
<use href="#xiuyu"/>
<use href="#zherong"/>
<use href="#jinan"/>
<use href="#chengxiang"/>
<use href="#xiangan"/>
<use href="#dongshan"/>
<use href="#luojiang"/>
<use href="#pingtan"/>
<use href="#meilie"/>
<use href="#quangang"/>
<use href="#jimei"/>
<use href="#licheng_pt"/>
<use href="#xiangcheng"/>
<use href="#mawei"/>
<use href="#haicang"/>
<use href="#shishi"/>
<use href="#cangshan"/>
<use href="#jinmen"/>
<use href="#fengze"/>
<use href="#longwen"/>
<use href="#huli"/>
<use href="#siming"/>
<use href="#licheng_qz"/>
<use href="#gulou"/>
<use href="#taijiang"/>
</g>
</g>
<use href="#north" transform="translate(2060.17,129.423) scale(0.9935)"/>
<text x="2060.27" y="80.9401" font-size="21.857" text-anchor="middle">N</text>
<text x="1547.23" y="145.915" font-size="38.7465">(c)</text>
<text x="1986.35" y="611.37" font-size="19.6713" font-weight="bold">Legend</text>
<rect x="1985.56" y="624.484" width="38.7465" height="18.8765" fill="#0000ff" stroke="#9c9c9c" stroke-width="1"/>
<text x="2031.26" y="640.877" font-size="19.7706">0.00 - 0.01</text>
<rect x="1985.56" y="651.775" width="38.7465" height="18.8765" fill="#3870ff" stroke="#9c9c9c" stroke-width="1"/>
<text x="2031.26" y="668.168" font-size="19.7706">0.01 - 0.30</text>
<rect x="1985.56" y="679.067" width="38.7465" height="18.8765" fill="#29dbff" stroke="#9c9c9c" stroke-width="1"/>
<text x="2031.26" y="695.46" font-size="19.7706">0.30 - 0.52</text>
<rect x="1985.56" y="706.358" width="38.7465" height="18.8765" fill="#8cffbd" stroke="#9c9c9c" stroke-width="1"/>
<text x="2031.26" y="722.751" font-size="19.7706">0.52 - 1.11</text>
<rect x="1985.56" y="733.65" width="38.7465" height="18.8765" fill="#dbff5e" stroke="#9c9c9c" stroke-width="1"/>
<text x="2031.26" y="750.042" font-size="19.7706">1.11 - 2.80</text>
<rect x="1985.56" y="760.941" width="38.7465" height="18.8765" fill="#ffe000" stroke="#9c9c9c" stroke-width="1"/>
<text x="2031.26" y="777.334" font-size="19.7706">2.80 - 5.81</text>
<rect x="1985.56" y="788.233" width="38.7465" height="18.8765" fill="#ff8800" stroke="#9c9c9c" stroke-width="1"/>
<text x="2031.26" y="804.625" font-size="19.7706">5.81 - 11.37</text>
<rect x="1985.56" y="815.524" width="38.7465" height="18.8765" fill="#ff0000" stroke="#9c9c9c" stroke-width="1"/>
<text x="2031.26" y="831.917" font-size="19.7706">11.37 - 27.87</text>
<rect x="1520.4" y="769.833" width="118.028" height="19.0752" fill="#fff" stroke="#c8c8c8" stroke-width="1.6"/>
<text x="1647.07" y="787.219" font-size="19.87">County</text>
<rect x="1522.59" y="810.567" width="144.058" height="8.9415" fill="#000"/>
<rect x="1552.19" y="812.156" width="27.818" height="5.7623" fill="#fff"/>
<rect x="1609.42" y="812.156" width="27.818" height="5.7623" fill="#fff"/>
<text x="1674.89" y="820.005" font-size="19.87">km</text>
<text x="1523.38" y="841.365" font-size="19.87" text-anchor="middle">0</text>
<text x="1666.15" y="841.365" font-size="19.87" text-anchor="middle">100</text>
</svg>
<rect x="1506.3" y="56.1" width="644.2" height="792.9" fill="none" stroke="#1a1a1a" stroke-width="2.2"/>
<line x1="1627.01" y1="56.1" x2="1627.01" y2="62.6" stroke="#111" stroke-width="1.6"/>
<text x="1627.01" y="42.5" font-size="24.8375" text-anchor="middle">117°0'0&quot;E</text>
<line x1="1835.64" y1="56.1" x2="1835.64" y2="62.6" stroke="#111" stroke-width="1.6"/>
<text x="1835.64" y="42.5" font-size="24.8375" text-anchor="middle">118°30'0&quot;E</text>
<line x1="2044.28" y1="56.1" x2="2044.28" y2="62.6" stroke="#111" stroke-width="1.6"/>
<text x="2044.28" y="42.5" font-size="24.8375" text-anchor="middle">120°0'0&quot;E</text>
<line x1="1722.88" y1="849" x2="1722.88" y2="842.5" stroke="#111" stroke-width="1.6"/>
<line x1="1943.83" y1="849" x2="1943.83" y2="842.5" stroke="#111" stroke-width="1.6"/>
<line x1="1506.3" y1="81.3375" x2="1512.8" y2="81.3375" stroke="#111" stroke-width="1.6"/>
<text transform="translate(1492.9,81.3375) rotate(-90)" font-size="25.1356" text-anchor="middle">28°30'0&quot;N</text>
<line x1="1506.3" y1="320.97" x2="1512.8" y2="320.97" stroke="#111" stroke-width="1.6"/>
<text transform="translate(1492.9,320.97) rotate(-90)" font-size="25.1356" text-anchor="middle">27°0'0&quot;N</text>
<line x1="1506.3" y1="559.211" x2="1512.8" y2="559.211" stroke="#111" stroke-width="1.6"/>
<text transform="translate(1492.9,559.211) rotate(-90)" font-size="25.1356" text-anchor="middle">25°30'0&quot;N</text>
<line x1="1506.3" y1="797.651" x2="1512.8" y2="797.651" stroke="#111" stroke-width="1.6"/>
<text transform="translate(1492.9,797.651) rotate(-90)" font-size="25.1356" text-anchor="middle">24°0'0&quot;N</text>
<line x1="2150.5" y1="234.833" x2="2144" y2="234.833" stroke="#111" stroke-width="1.6"/>
<line x1="2150.5" y1="474.764" x2="2144" y2="474.764" stroke="#111" stroke-width="1.6"/>
<line x1="2150.5" y1="713.899" x2="2144" y2="713.899" stroke="#111" stroke-width="1.6"/>
</g>
<g id="panel_d">
<svg x="48" y="923" width="652" height="801.4" viewBox="48 923 652 801.4" overflow="hidden">
<g transform="translate(-0.192,866.272) scale(1.004)" stroke-linejoin="round">
<use href="#jianou" fill="#3870ff" stroke="#3870ff" stroke-width="1.6"/>
<use href="#jianyang" fill="#3870ff" stroke="#3870ff" stroke-width="1.6"/>
<use href="#pucheng" fill="#3870ff" stroke="#3870ff" stroke-width="1.6"/>
<use href="#youxi" fill="#3870ff" stroke="#3870ff" stroke-width="1.6"/>
<use href="#changting" fill="#3870ff" stroke="#3870ff" stroke-width="1.6"/>
<use href="#zhangping" fill="#3870ff" stroke="#3870ff" stroke-width="1.6"/>
<use href="#shaowu" fill="#3870ff" stroke="#3870ff" stroke-width="1.6"/>
<use href="#yongan" fill="#3870ff" stroke="#3870ff" stroke-width="1.6"/>
<use href="#anxi" fill="#3870ff" stroke="#3870ff" stroke-width="1.6"/>
<use href="#wuyishan" fill="#3870ff" stroke="#3870ff" stroke-width="1.6"/>
<use href="#shanghang" fill="#3870ff" stroke="#3870ff" stroke-width="1.6"/>
<use href="#xinluo" fill="#3870ff" stroke="#3870ff" stroke-width="1.6"/>
<use href="#liancheng" fill="#3870ff" stroke="#3870ff" stroke-width="1.6"/>
<use href="#yanping" fill="#3870ff" stroke="#3870ff" stroke-width="1.6"/>
<use href="#wuping" fill="#3870ff" stroke="#3870ff" stroke-width="1.6"/>
<use href="#zhangpu" fill="#29dbff" stroke="#29dbff" stroke-width="1.6"/>
<use href="#ninghua" fill="#3870ff" stroke="#3870ff" stroke-width="1.6"/>
<use href="#gutian" fill="#3870ff" stroke="#3870ff" stroke-width="1.6"/>
<use href="#dehua" fill="#3870ff" stroke="#3870ff" stroke-width="1.6"/>
<use href="#pinghe" fill="#3870ff" stroke="#3870ff" stroke-width="1.6"/>
<use href="#jiangle" fill="#3870ff" stroke="#3870ff" stroke-width="1.6"/>
<use href="#datian" fill="#3870ff" stroke="#3870ff" stroke-width="1.6"/>
<use href="#minhou" fill="#3870ff" stroke="#3870ff" stroke-width="1.6"/>
<use href="#guangze" fill="#3870ff" stroke="#3870ff" stroke-width="1.6"/>
<use href="#yongding" fill="#3870ff" stroke="#3870ff" stroke-width="1.6"/>
<use href="#yongtai" fill="#3870ff" stroke="#3870ff" stroke-width="1.6"/>
<use href="#shunchang" fill="#3870ff" stroke="#3870ff" stroke-width="1.6"/>
<use href="#nanan" fill="#29dbff" stroke="#29dbff" stroke-width="1.6"/>
<use href="#nanjing" fill="#3870ff" stroke="#3870ff" stroke-width="1.6"/>
<use href="#shaxian" fill="#3870ff" stroke="#3870ff" stroke-width="1.6"/>
<use href="#xianyou" fill="#3870ff" stroke="#3870ff" stroke-width="1.6"/>
<use href="#fuan" fill="#3870ff" stroke="#3870ff" stroke-width="1.6"/>
<use href="#qingliu" fill="#3870ff" stroke="#3870ff" stroke-width="1.6"/>
<use href="#jianning" fill="#3870ff" stroke="#3870ff" stroke-width="1.6"/>
<use href="#fuqing" fill="#8cffbd" stroke="#8cffbd" stroke-width="1.6"/>
<use href="#mingxi" fill="#3870ff" stroke="#3870ff" stroke-width="1.6"/>
<use href="#zhenghe" fill="#3870ff" stroke="#3870ff" stroke-width="1.6"/>
<use href="#xiapu" fill="#3870ff" stroke="#3870ff" stroke-width="1.6"/>
<use href="#fuding" fill="#29dbff" stroke="#29dbff" stroke-width="1.6"/>
<use href="#taining" fill="#3870ff" stroke="#3870ff" stroke-width="1.6"/>
<use href="#pingnan" fill="#3870ff" stroke="#3870ff" stroke-width="1.6"/>
<use href="#shouning" fill="#3870ff" stroke="#3870ff" stroke-width="1.6"/>
<use href="#minqing" fill="#3870ff" stroke="#3870ff" stroke-width="1.6"/>
<use href="#yongchun" fill="#3870ff" stroke="#3870ff" stroke-width="1.6"/>
<use href="#longhai" fill="#8cffbd" stroke="#8cffbd" stroke-width="1.6"/>
<use href="#lianjiang" fill="#29dbff" stroke="#29dbff" stroke-width="1.6"/>
<use href="#jiaocheng" fill="#3870ff" stroke="#3870ff" stroke-width="1.6"/>
<use href="#zhaoan" fill="#3870ff" stroke="#3870ff" stroke-width="1.6"/>
<use href="#huaan" fill="#3870ff" stroke="#3870ff" stroke-width="1.6"/>
<use href="#yunxiao" fill="#29dbff" stroke="#29dbff" stroke-width="1.6"/>
<use href="#zhouning" fill="#3870ff" stroke="#3870ff" stroke-width="1.6"/>
<use href="#luoyuan" fill="#3870ff" stroke="#3870ff" stroke-width="1.6"/>
<use href="#songxi" fill="#3870ff" stroke="#3870ff" stroke-width="1.6"/>
<use href="#changtai" fill="#3870ff" stroke="#3870ff" stroke-width="1.6"/>
<use href="#hanjiang" fill="#3870ff" stroke="#3870ff" stroke-width="1.6"/>
<use href="#huian" fill="#dbff5e" stroke="#dbff5e" stroke-width="1.6"/>
<use href="#sanyuan" fill="#3870ff" stroke="#3870ff" stroke-width="1.6"/>
<use href="#changle" fill="#dbff5e" stroke="#dbff5e" stroke-width="1.6"/>
<use href="#jinjiang" fill="#ffe000" stroke="#ffe000" stroke-width="1.6"/>
<use href="#tongan" fill="#8cffbd" stroke="#8cffbd" stroke-width="1.6"/>
<use href="#xiuyu" fill="#dbff5e" stroke="#dbff5e" stroke-width="1.6"/>
<use href="#zherong" fill="#3870ff" stroke="#3870ff" stroke-width="1.6"/>
<use href="#jinan" fill="#3870ff" stroke="#3870ff" stroke-width="1.6"/>
<use href="#chengxiang" fill="#29dbff" stroke="#29dbff" stroke-width="1.6"/>
<use href="#xiangan" fill="#ffe000" stroke="#ffe000" stroke-width="1.6"/>
<use href="#dongshan" fill="#29dbff" stroke="#29dbff" stroke-width="1.6"/>
<use href="#luojiang" fill="#29dbff" stroke="#29dbff" stroke-width="1.6"/>
<use href="#pingtan" fill="#8cffbd" stroke="#8cffbd" stroke-width="1.6"/>
<use href="#meilie" fill="#3870ff" stroke="#3870ff" stroke-width="1.6"/>
<use href="#quangang" fill="#dbff5e" stroke="#dbff5e" stroke-width="1.6"/>
<use href="#jimei" fill="#ffe000" stroke="#ffe000" stroke-width="1.6"/>
<use href="#licheng_pt" fill="#dbff5e" stroke="#dbff5e" stroke-width="1.6"/>
<use href="#xiangcheng" fill="#dbff5e" stroke="#dbff5e" stroke-width="1.6"/>
<use href="#mawei" fill="#8cffbd" stroke="#8cffbd" stroke-width="1.6"/>
<use href="#haicang" fill="#ff8800" stroke="#ff8800" stroke-width="1.6"/>
<use href="#shishi" fill="#ff8800" stroke="#ff8800" stroke-width="1.6"/>
<use href="#cangshan" fill="#ff8800" stroke="#ff8800" stroke-width="1.6"/>
<use href="#jinmen" fill="#0000ff" stroke="#0000ff" stroke-width="1.6"/>
<use href="#fengze" fill="#ff8800" stroke="#ff8800" stroke-width="1.6"/>
<use href="#longwen" fill="#ffe000" stroke="#ffe000" stroke-width="1.6"/>
<use href="#huli" fill="#ff0000" stroke="#ff0000" stroke-width="1.6"/>
<use href="#siming" fill="#ff8800" stroke="#ff8800" stroke-width="1.6"/>
<use href="#licheng_qz" fill="#ff8800" stroke="#ff8800" stroke-width="1.6"/>
<use href="#gulou" fill="#ff8800" stroke="#ff8800" stroke-width="1.6"/>
<use href="#taijiang" fill="#ff0000" stroke="#ff0000" stroke-width="1.6"/>
<g fill="none" stroke="#6e6e6e" stroke-width="0.5" stroke-opacity="0.7">
<use href="#jianou"/>
<use href="#jianyang"/>
<use href="#pucheng"/>
<use href="#youxi"/>
<use href="#changting"/>
<use href="#zhangping"/>
<use href="#shaowu"/>
<use href="#yongan"/>
<use href="#anxi"/>
<use href="#wuyishan"/>
<use href="#shanghang"/>
<use href="#xinluo"/>
<use href="#liancheng"/>
<use href="#yanping"/>
<use href="#wuping"/>
<use href="#zhangpu"/>
<use href="#ninghua"/>
<use href="#gutian"/>
<use href="#dehua"/>
<use href="#pinghe"/>
<use href="#jiangle"/>
<use href="#datian"/>
<use href="#minhou"/>
<use href="#guangze"/>
<use href="#yongding"/>
<use href="#yongtai"/>
<use href="#shunchang"/>
<use href="#nanan"/>
<use href="#nanjing"/>
<use href="#shaxian"/>
<use href="#xianyou"/>
<use href="#fuan"/>
<use href="#qingliu"/>
<use href="#jianning"/>
<use href="#fuqing"/>
<use href="#mingxi"/>
<use href="#zhenghe"/>
<use href="#xiapu"/>
<use href="#fuding"/>
<use href="#taining"/>
<use href="#pingnan"/>
<use href="#shouning"/>
<use href="#minqing"/>
<use href="#yongchun"/>
<use href="#longhai"/>
<use href="#lianjiang"/>
<use href="#jiaocheng"/>
<use href="#zhaoan"/>
<use href="#huaan"/>
<use href="#yunxiao"/>
<use href="#zhouning"/>
<use href="#luoyuan"/>
<use href="#songxi"/>
<use href="#changtai"/>
<use href="#hanjiang"/>
<use href="#huian"/>
<use href="#sanyuan"/>
<use href="#changle"/>
<use href="#jinjiang"/>
<use href="#tongan"/>
<use href="#xiuyu"/>
<use href="#zherong"/>
<use href="#jinan"/>
<use href="#chengxiang"/>
<use href="#xiangan"/>
<use href="#dongshan"/>
<use href="#luojiang"/>
<use href="#pingtan"/>
<use href="#meilie"/>
<use href="#quangang"/>
<use href="#jimei"/>
<use href="#licheng_pt"/>
<use href="#xiangcheng"/>
<use href="#mawei"/>
<use href="#haicang"/>
<use href="#shishi"/>
<use href="#cangshan"/>
<use href="#jinmen"/>
<use href="#fengze"/>
<use href="#longwen"/>
<use href="#huli"/>
<use href="#siming"/>
<use href="#licheng_qz"/>
<use href="#gulou"/>
<use href="#taijiang"/>
</g>
</g>
<use href="#north" transform="translate(608.533,997.194) scale(1.004)"/>
<text x="608.634" y="948.198" font-size="22.088" text-anchor="middle">N</text>
<text x="90.168" y="1013.86" font-size="39.156">(d)</text>
<text x="533.936" y="1484.23" font-size="19.8792" font-weight="bold">Legend</text>
<rect x="533.133" y="1497.49" width="39.156" height="19.076" fill="#0000ff" stroke="#9c9c9c" stroke-width="1"/>
<text x="579.317" y="1514.05" font-size="19.9796">0.00 - 0.01</text>
<rect x="533.133" y="1525.07" width="39.156" height="19.076" fill="#3870ff" stroke="#9c9c9c" stroke-width="1"/>
<text x="579.317" y="1541.63" font-size="19.9796">0.01 - 0.89</text>
<rect x="533.133" y="1552.65" width="39.156" height="19.076" fill="#29dbff" stroke="#9c9c9c" stroke-width="1"/>
<text x="579.317" y="1569.21" font-size="19.9796">0.89 - 1.92</text>
<rect x="533.133" y="1580.23" width="39.156" height="19.076" fill="#8cffbd" stroke="#9c9c9c" stroke-width="1"/>
<text x="579.317" y="1596.79" font-size="19.9796">1.92 - 3.15</text>
<rect x="533.133" y="1607.81" width="39.156" height="19.076" fill="#dbff5e" stroke="#9c9c9c" stroke-width="1"/>
<text x="579.317" y="1624.37" font-size="19.9796">3.15 - 6.41</text>
<rect x="533.133" y="1635.39" width="39.156" height="19.076" fill="#ffe000" stroke="#9c9c9c" stroke-width="1"/>
<text x="579.317" y="1651.95" font-size="19.9796">6.41 - 13.84</text>
<rect x="533.133" y="1662.97" width="39.156" height="19.076" fill="#ff8800" stroke="#9c9c9c" stroke-width="1"/>
<text x="579.317" y="1679.53" font-size="19.9796">13.84 - 29.50</text>
<rect x="533.133" y="1690.55" width="39.156" height="19.076" fill="#ff0000" stroke="#9c9c9c" stroke-width="1"/>
<text x="579.317" y="1707.11" font-size="19.9796">29.50 - 50.77</text>
<rect x="63.06" y="1644.37" width="119.275" height="19.2768" fill="#fff" stroke="#c8c8c8" stroke-width="1.6"/>
<text x="191.07" y="1661.94" font-size="20.08">County</text>
<rect x="65.2688" y="1685.54" width="145.58" height="9.036" fill="#000"/>
<rect x="95.188" y="1687.14" width="28.112" height="5.8232" fill="#fff"/>
<rect x="153.018" y="1687.14" width="28.112" height="5.8232" fill="#fff"/>
<text x="219.182" y="1695.07" font-size="20.08">km</text>
<text x="66.072" y="1716.66" font-size="20.08" text-anchor="middle">0</text>
<text x="210.347" y="1716.66" font-size="20.08" text-anchor="middle">100</text>
</svg>
<rect x="48" y="923" width="652" height="801.4" fill="none" stroke="#1a1a1a" stroke-width="2.2"/>
<line x1="170.789" y1="923" x2="170.789" y2="929.5" stroke="#111" stroke-width="1.6"/>
<text x="170.789" y="909.4" font-size="25.1" text-anchor="middle">117°0'0&quot;E</text>
<line x1="381.629" y1="923" x2="381.629" y2="929.5" stroke="#111" stroke-width="1.6"/>
<text x="381.629" y="909.4" font-size="25.1" text-anchor="middle">118°30'0&quot;E</text>
<line x1="592.469" y1="923" x2="592.469" y2="929.5" stroke="#111" stroke-width="1.6"/>
<text x="592.469" y="909.4" font-size="25.1" text-anchor="middle">120°0'0&quot;E</text>
<line x1="267.675" y1="1724.4" x2="267.675" y2="1717.9" stroke="#111" stroke-width="1.6"/>
<line x1="490.965" y1="1724.4" x2="490.965" y2="1717.9" stroke="#111" stroke-width="1.6"/>
<line x1="48" y1="948.6" x2="54.5" y2="948.6" stroke="#111" stroke-width="1.6"/>
<text transform="translate(34.6,948.6) rotate(-90)" font-size="25.4012" text-anchor="middle">28°30'0&quot;N</text>
<line x1="48" y1="1190.76" x2="54.5" y2="1190.76" stroke="#111" stroke-width="1.6"/>
<text transform="translate(34.6,1190.76) rotate(-90)" font-size="25.4012" text-anchor="middle">27°0'0&quot;N</text>
<line x1="48" y1="1431.52" x2="54.5" y2="1431.52" stroke="#111" stroke-width="1.6"/>
<text transform="translate(34.6,1431.52) rotate(-90)" font-size="25.4012" text-anchor="middle">25°30'0&quot;N</text>
<line x1="48" y1="1672.48" x2="54.5" y2="1672.48" stroke="#111" stroke-width="1.6"/>
<text transform="translate(34.6,1672.48) rotate(-90)" font-size="25.4012" text-anchor="middle">24°0'0&quot;N</text>
<line x1="700" y1="1103.72" x2="693.5" y2="1103.72" stroke="#111" stroke-width="1.6"/>
<line x1="700" y1="1346.18" x2="693.5" y2="1346.18" stroke="#111" stroke-width="1.6"/>
<line x1="700" y1="1587.85" x2="693.5" y2="1587.85" stroke="#111" stroke-width="1.6"/>
</g>
<g id="panel_e">
<svg x="777.3" y="923" width="651.3" height="801.4" viewBox="777.3 923 651.3 801.4" overflow="hidden">
<g transform="translate(729.108,866.272) scale(1.004)" stroke-linejoin="round">
<use href="#jianou" fill="#3870ff" stroke="#3870ff" stroke-width="1.6"/>
<use href="#jianyang" fill="#3870ff" stroke="#3870ff" stroke-width="1.6"/>
<use href="#pucheng" fill="#3870ff" stroke="#3870ff" stroke-width="1.6"/>
<use href="#youxi" fill="#3870ff" stroke="#3870ff" stroke-width="1.6"/>
<use href="#changting" fill="#3870ff" stroke="#3870ff" stroke-width="1.6"/>
<use href="#zhangping" fill="#3870ff" stroke="#3870ff" stroke-width="1.6"/>
<use href="#shaowu" fill="#3870ff" stroke="#3870ff" stroke-width="1.6"/>
<use href="#yongan" fill="#3870ff" stroke="#3870ff" stroke-width="1.6"/>
<use href="#anxi" fill="#3870ff" stroke="#3870ff" stroke-width="1.6"/>
<use href="#wuyishan" fill="#3870ff" stroke="#3870ff" stroke-width="1.6"/>
<use href="#shanghang" fill="#3870ff" stroke="#3870ff" stroke-width="1.6"/>
<use href="#xinluo" fill="#3870ff" stroke="#3870ff" stroke-width="1.6"/>
<use href="#liancheng" fill="#3870ff" stroke="#3870ff" stroke-width="1.6"/>
<use href="#yanping" fill="#3870ff" stroke="#3870ff" stroke-width="1.6"/>
<use href="#wuping" fill="#3870ff" stroke="#3870ff" stroke-width="1.6"/>
<use href="#zhangpu" fill="#29dbff" stroke="#29dbff" stroke-width="1.6"/>
<use href="#ninghua" fill="#3870ff" stroke="#3870ff" stroke-width="1.6"/>
<use href="#gutian" fill="#3870ff" stroke="#3870ff" stroke-width="1.6"/>
<use href="#dehua" fill="#3870ff" stroke="#3870ff" stroke-width="1.6"/>
<use href="#pinghe" fill="#3870ff" stroke="#3870ff" stroke-width="1.6"/>
<use href="#jiangle" fill="#3870ff" stroke="#3870ff" stroke-width="1.6"/>
<use href="#datian" fill="#3870ff" stroke="#3870ff" stroke-width="1.6"/>
<use href="#minhou" fill="#3870ff" stroke="#3870ff" stroke-width="1.6"/>
<use href="#guangze" fill="#3870ff" stroke="#3870ff" stroke-width="1.6"/>
<use href="#yongding" fill="#3870ff" stroke="#3870ff" stroke-width="1.6"/>
<use href="#yongtai" fill="#3870ff" stroke="#3870ff" stroke-width="1.6"/>
<use href="#shunchang" fill="#3870ff" stroke="#3870ff" stroke-width="1.6"/>
<use href="#nanan" fill="#29dbff" stroke="#29dbff" stroke-width="1.6"/>
<use href="#nanjing" fill="#3870ff" stroke="#3870ff" stroke-width="1.6"/>
<use href="#shaxian" fill="#3870ff" stroke="#3870ff" stroke-width="1.6"/>
<use href="#xianyou" fill="#3870ff" stroke="#3870ff" stroke-width="1.6"/>
<use href="#fuan" fill="#29dbff" stroke="#29dbff" stroke-width="1.6"/>
<use href="#qingliu" fill="#3870ff" stroke="#3870ff" stroke-width="1.6"/>
<use href="#jianning" fill="#3870ff" stroke="#3870ff" stroke-width="1.6"/>
<use href="#fuqing" fill="#29dbff" stroke="#29dbff" stroke-width="1.6"/>
<use href="#mingxi" fill="#3870ff" stroke="#3870ff" stroke-width="1.6"/>
<use href="#zhenghe" fill="#3870ff" stroke="#3870ff" stroke-width="1.6"/>
<use href="#xiapu" fill="#3870ff" stroke="#3870ff" stroke-width="1.6"/>
<use href="#fuding" fill="#3870ff" stroke="#3870ff" stroke-width="1.6"/>
<use href="#taining" fill="#3870ff" stroke="#3870ff" stroke-width="1.6"/>
<use href="#pingnan" fill="#3870ff" stroke="#3870ff" stroke-width="1.6"/>
<use href="#shouning" fill="#3870ff" stroke="#3870ff" stroke-width="1.6"/>
<use href="#minqing" fill="#3870ff" stroke="#3870ff" stroke-width="1.6"/>
<use href="#yongchun" fill="#3870ff" stroke="#3870ff" stroke-width="1.6"/>
<use href="#longhai" fill="#29dbff" stroke="#29dbff" stroke-width="1.6"/>
<use href="#lianjiang" fill="#29dbff" stroke="#29dbff" stroke-width="1.6"/>
<use href="#jiaocheng" fill="#3870ff" stroke="#3870ff" stroke-width="1.6"/>
<use href="#zhaoan" fill="#29dbff" stroke="#29dbff" stroke-width="1.6"/>
<use href="#huaan" fill="#3870ff" stroke="#3870ff" stroke-width="1.6"/>
<use href="#yunxiao" fill="#29dbff" stroke="#29dbff" stroke-width="1.6"/>
<use href="#zhouning" fill="#3870ff" stroke="#3870ff" stroke-width="1.6"/>
<use href="#luoyuan" fill="#3870ff" stroke="#3870ff" stroke-width="1.6"/>
<use href="#songxi" fill="#3870ff" stroke="#3870ff" stroke-width="1.6"/>
<use href="#changtai" fill="#29dbff" stroke="#29dbff" stroke-width="1.6"/>
<use href="#hanjiang" fill="#29dbff" stroke="#29dbff" stroke-width="1.6"/>
<use href="#huian" fill="#8cffbd" stroke="#8cffbd" stroke-width="1.6"/>
<use href="#sanyuan" fill="#3870ff" stroke="#3870ff" stroke-width="1.6"/>
<use href="#changle" fill="#29dbff" stroke="#29dbff" stroke-width="1.6"/>
<use href="#jinjiang" fill="#8cffbd" stroke="#8cffbd" stroke-width="1.6"/>
<use href="#tongan" fill="#29dbff" stroke="#29dbff" stroke-width="1.6"/>
<use href="#xiuyu" fill="#29dbff" stroke="#29dbff" stroke-width="1.6"/>
<use href="#zherong" fill="#29dbff" stroke="#29dbff" stroke-width="1.6"/>
<use href="#jinan" fill="#29dbff" stroke="#29dbff" stroke-width="1.6"/>
<use href="#chengxiang" fill="#29dbff" stroke="#29dbff" stroke-width="1.6"/>
<use href="#xiangan" fill="#8cffbd" stroke="#8cffbd" stroke-width="1.6"/>
<use href="#dongshan" fill="#29dbff" stroke="#29dbff" stroke-width="1.6"/>
<use href="#luojiang" fill="#29dbff" stroke="#29dbff" stroke-width="1.6"/>
<use href="#pingtan" fill="#29dbff" stroke="#29dbff" stroke-width="1.6"/>
<use href="#meilie" fill="#3870ff" stroke="#3870ff" stroke-width="1.6"/>
<use href="#quangang" fill="#8cffbd" stroke="#8cffbd" stroke-width="1.6"/>
<use href="#jimei" fill="#8cffbd" stroke="#8cffbd" stroke-width="1.6"/>
<use href="#licheng_pt" fill="#8cffbd" stroke="#8cffbd" stroke-width="1.6"/>
<use href="#xiangcheng" fill="#8cffbd" stroke="#8cffbd" stroke-width="1.6"/>
<use href="#mawei" fill="#8cffbd" stroke="#8cffbd" stroke-width="1.6"/>
<use href="#haicang" fill="#dbff5e" stroke="#dbff5e" stroke-width="1.6"/>
<use href="#shishi" fill="#ffe000" stroke="#ffe000" stroke-width="1.6"/>
<use href="#cangshan" fill="#ff8800" stroke="#ff8800" stroke-width="1.6"/>
<use href="#jinmen" fill="#0000ff" stroke="#0000ff" stroke-width="1.6"/>
<use href="#fengze" fill="#dbff5e" stroke="#dbff5e" stroke-width="1.6"/>
<use href="#longwen" fill="#dbff5e" stroke="#dbff5e" stroke-width="1.6"/>
<use href="#huli" fill="#ff8800" stroke="#ff8800" stroke-width="1.6"/>
<use href="#siming" fill="#ffe000" stroke="#ffe000" stroke-width="1.6"/>
<use href="#licheng_qz" fill="#dbff5e" stroke="#dbff5e" stroke-width="1.6"/>
<use href="#gulou" fill="#ff8800" stroke="#ff8800" stroke-width="1.6"/>
<use href="#taijiang" fill="#ff0000" stroke="#ff0000" stroke-width="1.6"/>
<g fill="none" stroke="#6e6e6e" stroke-width="0.5" stroke-opacity="0.7">
<use href="#jianou"/>
<use href="#jianyang"/>
<use href="#pucheng"/>
<use href="#youxi"/>
<use href="#changting"/>
<use href="#zhangping"/>
<use href="#shaowu"/>
<use href="#yongan"/>
<use href="#anxi"/>
<use href="#wuyishan"/>
<use href="#shanghang"/>
<use href="#xinluo"/>
<use href="#liancheng"/>
<use href="#yanping"/>
<use href="#wuping"/>
<use href="#zhangpu"/>
<use href="#ninghua"/>
<use href="#gutian"/>
<use href="#dehua"/>
<use href="#pinghe"/>
<use href="#jiangle"/>
<use href="#datian"/>
<use href="#minhou"/>
<use href="#guangze"/>
<use href="#yongding"/>
<use href="#yongtai"/>
<use href="#shunchang"/>
<use href="#nanan"/>
<use href="#nanjing"/>
<use href="#shaxian"/>
<use href="#xianyou"/>
<use href="#fuan"/>
<use href="#qingliu"/>
<use href="#jianning"/>
<use href="#fuqing"/>
<use href="#mingxi"/>
<use href="#zhenghe"/>
<use href="#xiapu"/>
<use href="#fuding"/>
<use href="#taining"/>
<use href="#pingnan"/>
<use href="#shouning"/>
<use href="#minqing"/>
<use href="#yongchun"/>
<use href="#longhai"/>
<use href="#lianjiang"/>
<use href="#jiaocheng"/>
<use href="#zhaoan"/>
<use href="#huaan"/>
<use href="#yunxiao"/>
<use href="#zhouning"/>
<use href="#luoyuan"/>
<use href="#songxi"/>
<use href="#changtai"/>
<use href="#hanjiang"/>
<use href="#huian"/>
<use href="#sanyuan"/>
<use href="#changle"/>
<use href="#jinjiang"/>
<use href="#tongan"/>
<use href="#xiuyu"/>
<use href="#zherong"/>
<use href="#jinan"/>
<use href="#chengxiang"/>
<use href="#xiangan"/>
<use href="#dongshan"/>
<use href="#luojiang"/>
<use href="#pingtan"/>
<use href="#meilie"/>
<use href="#quangang"/>
<use href="#jimei"/>
<use href="#licheng_pt"/>
<use href="#xiangcheng"/>
<use href="#mawei"/>
<use href="#haicang"/>
<use href="#shishi"/>
<use href="#cangshan"/>
<use href="#jinmen"/>
<use href="#fengze"/>
<use href="#longwen"/>
<use href="#huli"/>
<use href="#siming"/>
<use href="#licheng_qz"/>
<use href="#gulou"/>
<use href="#taijiang"/>
</g>
</g>
<use href="#north" transform="translate(1337.83,997.194) scale(1.004)"/>
<text x="1337.93" y="948.198" font-size="22.088" text-anchor="middle">N</text>
<text x="819.468" y="1013.86" font-size="39.156">(e)</text>
<text x="1263.24" y="1484.23" font-size="19.8792" font-weight="bold">Legend</text>
<rect x="1262.43" y="1497.49" width="39.156" height="19.076" fill="#0000ff" stroke="#9c9c9c" stroke-width="1"/>
<text x="1308.62" y="1514.05" font-size="19.9796">0.00 - 0.01</text>
<rect x="1262.43" y="1525.07" width="39.156" height="19.076" fill="#3870ff" stroke="#9c9c9c" stroke-width="1"/>
<text x="1308.62" y="1541.63" font-size="19.9796">0.01 - 0.30</text>
<rect x="1262.43" y="1552.65" width="39.156" height="19.076" fill="#29dbff" stroke="#9c9c9c" stroke-width="1"/>
<text x="1308.62" y="1569.21" font-size="19.9796">0.30 - 0.52</text>
<rect x="1262.43" y="1580.23" width="39.156" height="19.076" fill="#8cffbd" stroke="#9c9c9c" stroke-width="1"/>
<text x="1308.62" y="1596.79" font-size="19.9796">0.52 - 1.110</text>
<rect x="1262.43" y="1607.81" width="39.156" height="19.076" fill="#dbff5e" stroke="#9c9c9c" stroke-width="1"/>
<text x="1308.62" y="1624.37" font-size="19.9796">1.110 - 2.80</text>
<rect x="1262.43" y="1635.39" width="39.156" height="19.076" fill="#ffe000" stroke="#9c9c9c" stroke-width="1"/>
<text x="1308.62" y="1651.95" font-size="19.9796">2.80 - 5.81</text>
<rect x="1262.43" y="1662.97" width="39.156" height="19.076" fill="#ff8800" stroke="#9c9c9c" stroke-width="1"/>
<text x="1308.62" y="1679.53" font-size="19.9796">5.81 - 11.37</text>
<rect x="1262.43" y="1690.55" width="39.156" height="19.076" fill="#ff0000" stroke="#9c9c9c" stroke-width="1"/>
<text x="1308.62" y="1707.11" font-size="19.9796">11.37 - 27.87</text>
<rect x="792.36" y="1644.37" width="119.275" height="19.2768" fill="#fff" stroke="#c8c8c8" stroke-width="1.6"/>
<text x="920.37" y="1661.94" font-size="20.08">County</text>
<rect x="794.569" y="1685.54" width="145.58" height="9.036" fill="#000"/>
<rect x="824.488" y="1687.14" width="28.112" height="5.8232" fill="#fff"/>
<rect x="882.318" y="1687.14" width="28.112" height="5.8232" fill="#fff"/>
<text x="948.482" y="1695.07" font-size="20.08">km</text>
<text x="795.372" y="1716.66" font-size="20.08" text-anchor="middle">0</text>
<text x="939.647" y="1716.66" font-size="20.08" text-anchor="middle">100</text>
</svg>
<rect x="777.3" y="923" width="651.3" height="801.4" fill="none" stroke="#1a1a1a" stroke-width="2.2"/>
<line x1="900.089" y1="923" x2="900.089" y2="929.5" stroke="#111" stroke-width="1.6"/>
<text x="900.089" y="909.4" font-size="25.1" text-anchor="middle">117°0'0&quot;E</text>
<line x1="1110.93" y1="923" x2="1110.93" y2="929.5" stroke="#111" stroke-width="1.6"/>
<text x="1110.93" y="909.4" font-size="25.1" text-anchor="middle">118°30'0&quot;E</text>
<line x1="1321.77" y1="923" x2="1321.77" y2="929.5" stroke="#111" stroke-width="1.6"/>
<text x="1321.77" y="909.4" font-size="25.1" text-anchor="middle">120°0'0&quot;E</text>
<line x1="996.975" y1="1724.4" x2="996.975" y2="1717.9" stroke="#111" stroke-width="1.6"/>
<line x1="1220.26" y1="1724.4" x2="1220.26" y2="1717.9" stroke="#111" stroke-width="1.6"/>
<line x1="777.3" y1="948.6" x2="783.8" y2="948.6" stroke="#111" stroke-width="1.6"/>
<text transform="translate(763.9,948.6) rotate(-90)" font-size="25.4012" text-anchor="middle">28°30'0&quot;N</text>
<line x1="777.3" y1="1190.76" x2="783.8" y2="1190.76" stroke="#111" stroke-width="1.6"/>
<text transform="translate(763.9,1190.76) rotate(-90)" font-size="25.4012" text-anchor="middle">27°0'0&quot;N</text>
<line x1="777.3" y1="1431.52" x2="783.8" y2="1431.52" stroke="#111" stroke-width="1.6"/>
<text transform="translate(763.9,1431.52) rotate(-90)" font-size="25.4012" text-anchor="middle">25°30'0&quot;N</text>
<line x1="777.3" y1="1672.48" x2="783.8" y2="1672.48" stroke="#111" stroke-width="1.6"/>
<text transform="translate(763.9,1672.48) rotate(-90)" font-size="25.4012" text-anchor="middle">24°0'0&quot;N</text>
<line x1="1428.6" y1="1103.72" x2="1422.1" y2="1103.72" stroke="#111" stroke-width="1.6"/>
<line x1="1428.6" y1="1346.18" x2="1422.1" y2="1346.18" stroke="#111" stroke-width="1.6"/>
<line x1="1428.6" y1="1587.85" x2="1422.1" y2="1587.85" stroke="#111" stroke-width="1.6"/>
</g>
<g id="panel_f">
<svg x="1506.3" y="922.7" width="647.1" height="795.4" viewBox="1506.3 922.7 647.1 795.4" overflow="hidden">
<g transform="translate(1458.47,865.899) scale(0.9965)" stroke-linejoin="round">
<use href="#jianou" fill="#ff8800" stroke="#ff8800" stroke-width="1.6"/>
<use href="#jianyang" fill="#ff8800" stroke="#ff8800" stroke-width="1.6"/>
<use href="#pucheng" fill="#ff8800" stroke="#ff8800" stroke-width="1.6"/>
<use href="#youxi" fill="#ff0000" stroke="#ff0000" stroke-width="1.6"/>
<use href="#changting" fill="#ff8800" stroke="#ff8800" stroke-width="1.6"/>
<use href="#zhangping" fill="#ff0000" stroke="#ff0000" stroke-width="1.6"/>
<use href="#shaowu" fill="#ff8800" stroke="#ff8800" stroke-width="1.6"/>
<use href="#yongan" fill="#ff8800" stroke="#ff8800" stroke-width="1.6"/>
<use href="#anxi" fill="#ffe000" stroke="#ffe000" stroke-width="1.6"/>
<use href="#wuyishan" fill="#ff8800" stroke="#ff8800" stroke-width="1.6"/>
<use href="#shanghang" fill="#ffe000" stroke="#ffe000" stroke-width="1.6"/>
<use href="#xinluo" fill="#ff8800" stroke="#ff8800" stroke-width="1.6"/>
<use href="#liancheng" fill="#ff8800" stroke="#ff8800" stroke-width="1.6"/>
<use href="#yanping" fill="#ff8800" stroke="#ff8800" stroke-width="1.6"/>
<use href="#wuping" fill="#ff8800" stroke="#ff8800" stroke-width="1.6"/>
<use href="#zhangpu" fill="#29dbff" stroke="#29dbff" stroke-width="1.6"/>
<use href="#ninghua" fill="#ffe000" stroke="#ffe000" stroke-width="1.6"/>
<use href="#gutian" fill="#ffe000" stroke="#ffe000" stroke-width="1.6"/>
<use href="#dehua" fill="#ff0000" stroke="#ff0000" stroke-width="1.6"/>
<use href="#pinghe" fill="#ffe000" stroke="#ffe000" stroke-width="1.6"/>
<use href="#jiangle" fill="#ff0000" stroke="#ff0000" stroke-width="1.6"/>
<use href="#datian" fill="#ff8800" stroke="#ff8800" stroke-width="1.6"/>
<use href="#minhou" fill="#dbff5e" stroke="#dbff5e" stroke-width="1.6"/>
<use href="#guangze" fill="#ff8800" stroke="#ff8800" stroke-width="1.6"/>
<use href="#yongding" fill="#ff8800" stroke="#ff8800" stroke-width="1.6"/>
<use href="#yongtai" fill="#ff8800" stroke="#ff8800" stroke-width="1.6"/>
<use href="#shunchang" fill="#ff0000" stroke="#ff0000" stroke-width="1.6"/>
<use href="#nanan" fill="#8cffbd" stroke="#8cffbd" stroke-width="1.6"/>
<use href="#nanjing" fill="#ffe000" stroke="#ffe000" stroke-width="1.6"/>
<use href="#shaxian" fill="#ff8800" stroke="#ff8800" stroke-width="1.6"/>
<use href="#xianyou" fill="#dbff5e" stroke="#dbff5e" stroke-width="1.6"/>
<use href="#fuan" fill="#ffe000" stroke="#ffe000" stroke-width="1.6"/>
<use href="#qingliu" fill="#ff8800" stroke="#ff8800" stroke-width="1.6"/>
<use href="#jianning" fill="#ffe000" stroke="#ffe000" stroke-width="1.6"/>
<use href="#fuqing" fill="#29dbff" stroke="#29dbff" stroke-width="1.6"/>
<use href="#mingxi" fill="#ff0000" stroke="#ff0000" stroke-width="1.6"/>
<use href="#zhenghe" fill="#ff0000" stroke="#ff0000" stroke-width="1.6"/>
<use href="#xiapu" fill="#8cffbd" stroke="#8cffbd" stroke-width="1.6"/>
<use href="#fuding" fill="#dbff5e" stroke="#dbff5e" stroke-width="1.6"/>
<use href="#taining" fill="#ff8800" stroke="#ff8800" stroke-width="1.6"/>
<use href="#pingnan" fill="#ff0000" stroke="#ff0000" stroke-width="1.6"/>
<use href="#shouning" fill="#ff0000" stroke="#ff0000" stroke-width="1.6"/>
<use href="#minqing" fill="#ffe000" stroke="#ffe000" stroke-width="1.6"/>
<use href="#yongchun" fill="#ffe000" stroke="#ffe000" stroke-width="1.6"/>
<use href="#longhai" fill="#29dbff" stroke="#29dbff" stroke-width="1.6"/>
<use href="#lianjiang" fill="#8cffbd" stroke="#8cffbd" stroke-width="1.6"/>
<use href="#jiaocheng" fill="#ffe000" stroke="#ffe000" stroke-width="1.6"/>
<use href="#zhaoan" fill="#8cffbd" stroke="#8cffbd" stroke-width="1.6"/>
<use href="#huaan" fill="#ff8800" stroke="#ff8800" stroke-width="1.6"/>
<use href="#yunxiao" fill="#dbff5e" stroke="#dbff5e" stroke-width="1.6"/>
<use href="#zhouning" fill="#ff0000" stroke="#ff0000" stroke-width="1.6"/>
<use href="#luoyuan" fill="#dbff5e" stroke="#dbff5e" stroke-width="1.6"/>
<use href="#songxi" fill="#ffe000" stroke="#ffe000" stroke-width="1.6"/>
<use href="#changtai" fill="#dbff5e" stroke="#dbff5e" stroke-width="1.6"/>
<use href="#hanjiang" fill="#dbff5e" stroke="#dbff5e" stroke-width="1.6"/>
<use href="#huian" fill="#3870ff" stroke="#3870ff" stroke-width="1.6"/>
<use href="#sanyuan" fill="#ff0000" stroke="#ff0000" stroke-width="1.6"/>
<use href="#changle" fill="#29dbff" stroke="#29dbff" stroke-width="1.6"/>
<use href="#jinjiang" fill="#0000ff" stroke="#0000ff" stroke-width="1.6"/>
<use href="#tongan" fill="#8cffbd" stroke="#8cffbd" stroke-width="1.6"/>
<use href="#xiuyu" fill="#0000ff" stroke="#0000ff" stroke-width="1.6"/>
<use href="#zherong" fill="#ff8800" stroke="#ff8800" stroke-width="1.6"/>
<use href="#jinan" fill="#ffe000" stroke="#ffe000" stroke-width="1.6"/>
<use href="#chengxiang" fill="#dbff5e" stroke="#dbff5e" stroke-width="1.6"/>
<use href="#xiangan" fill="#3870ff" stroke="#3870ff" stroke-width="1.6"/>
<use href="#dongshan" fill="#3870ff" stroke="#3870ff" stroke-width="1.6"/>
<use href="#luojiang" fill="#dbff5e" stroke="#dbff5e" stroke-width="1.6"/>
<use href="#pingtan" fill="#3870ff" stroke="#3870ff" stroke-width="1.6"/>
<use href="#meilie" fill="#ff8800" stroke="#ff8800" stroke-width="1.6"/>
<use href="#quangang" fill="#29dbff" stroke="#29dbff" stroke-width="1.6"/>
<use href="#jimei" fill="#29dbff" stroke="#29dbff" stroke-width="1.6"/>
<use href="#licheng_pt" fill="#3870ff" stroke="#3870ff" stroke-width="1.6"/>
<use href="#xiangcheng" fill="#3870ff" stroke="#3870ff" stroke-width="1.6"/>
<use href="#mawei" fill="#8cffbd" stroke="#8cffbd" stroke-width="1.6"/>
<use href="#haicang" fill="#3870ff" stroke="#3870ff" stroke-width="1.6"/>
<use href="#shishi" fill="#0000ff" stroke="#0000ff" stroke-width="1.6"/>
<use href="#cangshan" fill="#0000ff" stroke="#0000ff" stroke-width="1.6"/>
<use href="#jinmen" fill="#0000ff" stroke="#0000ff" stroke-width="1.6"/>
<use href="#fengze" fill="#3870ff" stroke="#3870ff" stroke-width="1.6"/>
<use href="#longwen" fill="#3870ff" stroke="#3870ff" stroke-width="1.6"/>
<use href="#huli" fill="#0000ff" stroke="#0000ff" stroke-width="1.6"/>
<use href="#siming" fill="#3870ff" stroke="#3870ff" stroke-width="1.6"/>
<use href="#licheng_qz" fill="#3870ff" stroke="#3870ff" stroke-width="1.6"/>
<use href="#gulou" fill="#0000ff" stroke="#0000ff" stroke-width="1.6"/>
<use href="#taijiang" fill="#0000ff" stroke="#0000ff" stroke-width="1.6"/>
<g fill="none" stroke="#6e6e6e" stroke-width="0.5" stroke-opacity="0.7">
<use href="#jianou"/>
<use href="#jianyang"/>
<use href="#pucheng"/>
<use href="#youxi"/>
<use href="#changting"/>
<use href="#zhangping"/>
<use href="#shaowu"/>
<use href="#yongan"/>
<use href="#anxi"/>
<use href="#wuyishan"/>
<use href="#shanghang"/>
<use href="#xinluo"/>
<use href="#liancheng"/>
<use href="#yanping"/>
<use href="#wuping"/>
<use href="#zhangpu"/>
<use href="#ninghua"/>
<use href="#gutian"/>
<use href="#dehua"/>
<use href="#pinghe"/>
<use href="#jiangle"/>
<use href="#datian"/>
<use href="#minhou"/>
<use href="#guangze"/>
<use href="#yongding"/>
<use href="#yongtai"/>
<use href="#shunchang"/>
<use href="#nanan"/>
<use href="#nanjing"/>
<use href="#shaxian"/>
<use href="#xianyou"/>
<use href="#fuan"/>
<use href="#qingliu"/>
<use href="#jianning"/>
<use href="#fuqing"/>
<use href="#mingxi"/>
<use href="#zhenghe"/>
<use href="#xiapu"/>
<use href="#fuding"/>
<use href="#taining"/>
<use href="#pingnan"/>
<use href="#shouning"/>
<use href="#minqing"/>
<use href="#yongchun"/>
<use href="#longhai"/>
<use href="#lianjiang"/>
<use href="#jiaocheng"/>
<use href="#zhaoan"/>
<use href="#huaan"/>
<use href="#yunxiao"/>
<use href="#zhouning"/>
<use href="#luoyuan"/>
<use href="#songxi"/>
<use href="#changtai"/>
<use href="#hanjiang"/>
<use href="#huian"/>
<use href="#sanyuan"/>
<use href="#changle"/>
<use href="#jinjiang"/>
<use href="#tongan"/>
<use href="#xiuyu"/>
<use href="#zherong"/>
<use href="#jinan"/>
<use href="#chengxiang"/>
<use href="#xiangan"/>
<use href="#dongshan"/>
<use href="#luojiang"/>
<use href="#pingtan"/>
<use href="#meilie"/>
<use href="#quangang"/>
<use href="#jimei"/>
<use href="#licheng_pt"/>
<use href="#xiangcheng"/>
<use href="#mawei"/>
<use href="#haicang"/>
<use href="#shishi"/>
<use href="#cangshan"/>
<use href="#jinmen"/>
<use href="#fengze"/>
<use href="#longwen"/>
<use href="#huli"/>
<use href="#siming"/>
<use href="#licheng_qz"/>
<use href="#gulou"/>
<use href="#taijiang"/>
</g>
</g>
<use href="#north" transform="translate(2062.65,995.843) scale(0.9965)"/>
<text x="2062.75" y="947.214" font-size="21.923" text-anchor="middle">N</text>
<text x="1548.15" y="1012.38" font-size="38.8635">(f)</text>
<text x="1988.61" y="1479.25" font-size="19.7307" font-weight="bold">Legend</text>
<rect x="1987.81" y="1492.4" width="38.8635" height="18.9335" fill="#0000ff" stroke="#9c9c9c" stroke-width="1"/>
<text x="2033.65" y="1508.84" font-size="19.8303">0.00 - 0.05</text>
<rect x="1987.81" y="1519.77" width="38.8635" height="18.9335" fill="#3870ff" stroke="#9c9c9c" stroke-width="1"/>
<text x="2033.65" y="1536.22" font-size="19.8303">0.05 - 0.22</text>
<rect x="1987.81" y="1547.15" width="38.8635" height="18.9335" fill="#29dbff" stroke="#9c9c9c" stroke-width="1"/>
<text x="2033.65" y="1563.59" font-size="19.8303">0.22 - 0.41</text>
<rect x="1987.81" y="1574.52" width="38.8635" height="18.9335" fill="#8cffbd" stroke="#9c9c9c" stroke-width="1"/>
<text x="2033.65" y="1590.96" font-size="19.8303">0.41 - 0.61</text>
<rect x="1987.81" y="1601.89" width="38.8635" height="18.9335" fill="#dbff5e" stroke="#9c9c9c" stroke-width="1"/>
<text x="2033.65" y="1618.34" font-size="19.8303">0.61 - 0.77</text>
<rect x="1987.81" y="1629.27" width="38.8635" height="18.9335" fill="#ffe000" stroke="#9c9c9c" stroke-width="1"/>
<text x="2033.65" y="1645.71" font-size="19.8303">0.77 - 0.86</text>
<rect x="1987.81" y="1656.64" width="38.8635" height="18.9335" fill="#ff8800" stroke="#9c9c9c" stroke-width="1"/>
<text x="2033.65" y="1673.08" font-size="19.8303">0.86 - 0.90</text>
<rect x="1987.81" y="1684.02" width="38.8635" height="18.9335" fill="#ff0000" stroke="#9c9c9c" stroke-width="1"/>
<text x="2033.65" y="1700.46" font-size="19.8303">0.90 - 0.93</text>
<rect x="1521.25" y="1638.19" width="118.384" height="19.1328" fill="#fff" stroke="#c8c8c8" stroke-width="1.6"/>
<text x="1648.3" y="1655.63" font-size="19.93">County</text>
<rect x="1523.44" y="1679.04" width="144.493" height="8.9685" fill="#000"/>
<rect x="1553.14" y="1680.64" width="27.902" height="5.7797" fill="#fff"/>
<rect x="1610.53" y="1680.64" width="27.902" height="5.7797" fill="#fff"/>
<text x="1676.2" y="1688.51" font-size="19.93">km</text>
<text x="1524.24" y="1709.93" font-size="19.93" text-anchor="middle">0</text>
<text x="1667.43" y="1709.93" font-size="19.93" text-anchor="middle">100</text>
</svg>
<rect x="1506.3" y="922.7" width="647.1" height="795.4" fill="none" stroke="#1a1a1a" stroke-width="2.2"/>
<line x1="1628.17" y1="922.7" x2="1628.17" y2="929.2" stroke="#111" stroke-width="1.6"/>
<text x="1628.17" y="909.1" font-size="24.9125" text-anchor="middle">117°0'0&quot;E</text>
<line x1="1837.44" y1="922.7" x2="1837.44" y2="929.2" stroke="#111" stroke-width="1.6"/>
<text x="1837.44" y="909.1" font-size="24.9125" text-anchor="middle">118°30'0&quot;E</text>
<line x1="2046.7" y1="922.7" x2="2046.7" y2="929.2" stroke="#111" stroke-width="1.6"/>
<text x="2046.7" y="909.1" font-size="24.9125" text-anchor="middle">120°0'0&quot;E</text>
<line x1="1724.33" y1="1718.1" x2="1724.33" y2="1711.6" stroke="#111" stroke-width="1.6"/>
<line x1="1945.96" y1="1718.1" x2="1945.96" y2="1711.6" stroke="#111" stroke-width="1.6"/>
<line x1="1506.3" y1="947.612" x2="1512.8" y2="947.612" stroke="#111" stroke-width="1.6"/>
<text transform="translate(1492.9,947.612) rotate(-90)" font-size="25.2115" text-anchor="middle">28°30'0&quot;N</text>
<line x1="1506.3" y1="1187.97" x2="1512.8" y2="1187.97" stroke="#111" stroke-width="1.6"/>
<text transform="translate(1492.9,1187.97) rotate(-90)" font-size="25.2115" text-anchor="middle">27°0'0&quot;N</text>
<line x1="1506.3" y1="1426.93" x2="1512.8" y2="1426.93" stroke="#111" stroke-width="1.6"/>
<text transform="translate(1492.9,1426.93) rotate(-90)" font-size="25.2115" text-anchor="middle">25°30'0&quot;N</text>
<line x1="1506.3" y1="1666.09" x2="1512.8" y2="1666.09" stroke="#111" stroke-width="1.6"/>
<text transform="translate(1492.9,1666.09) rotate(-90)" font-size="25.2115" text-anchor="middle">24°0'0&quot;N</text>
<line x1="2153.4" y1="1101.57" x2="2146.9" y2="1101.57" stroke="#111" stroke-width="1.6"/>
<line x1="2153.4" y1="1342.23" x2="2146.9" y2="1342.23" stroke="#111" stroke-width="1.6"/>
<line x1="2153.4" y1="1582.08" x2="2146.9" y2="1582.08" stroke="#111" stroke-width="1.6"/>
</g>
<g id="panel_g">
<svg x="48" y="1783.2" width="651.8" height="800.4" viewBox="48 1783.2 651.8 800.4" overflow="hidden">
<g transform="translate(-0.168,1726) scale(1.0035)" stroke-linejoin="round">
<use href="#jianou" fill="#29dbff" stroke="#29dbff" stroke-width="1.6"/>
<use href="#jianyang" fill="#29dbff" stroke="#29dbff" stroke-width="1.6"/>
<use href="#pucheng" fill="#8cffbd" stroke="#8cffbd" stroke-width="1.6"/>
<use href="#youxi" fill="#3870ff" stroke="#3870ff" stroke-width="1.6"/>
<use href="#changting" fill="#29dbff" stroke="#29dbff" stroke-width="1.6"/>
<use href="#zhangping" fill="#3870ff" stroke="#3870ff" stroke-width="1.6"/>
<use href="#shaowu" fill="#29dbff" stroke="#29dbff" stroke-width="1.6"/>
<use href="#yongan" fill="#3870ff" stroke="#3870ff" stroke-width="1.6"/>
<use href="#anxi" fill="#8cffbd" stroke="#8cffbd" stroke-width="1.6"/>
<use href="#wuyishan" fill="#29dbff" stroke="#29dbff" stroke-width="1.6"/>
<use href="#shanghang" fill="#8cffbd" stroke="#8cffbd" stroke-width="1.6"/>
<use href="#xinluo" fill="#3870ff" stroke="#3870ff" stroke-width="1.6"/>
<use href="#liancheng" fill="#29dbff" stroke="#29dbff" stroke-width="1.6"/>
<use href="#yanping" fill="#3870ff" stroke="#3870ff" stroke-width="1.6"/>
<use href="#wuping" fill="#29dbff" stroke="#29dbff" stroke-width="1.6"/>
<use href="#zhangpu" fill="#ff8800" stroke="#ff8800" stroke-width="1.6"/>
<use href="#ninghua" fill="#8cffbd" stroke="#8cffbd" stroke-width="1.6"/>
<use href="#gutian" fill="#8cffbd" stroke="#8cffbd" stroke-width="1.6"/>
<use href="#dehua" fill="#3870ff" stroke="#3870ff" stroke-width="1.6"/>
<use href="#pinghe" fill="#8cffbd" stroke="#8cffbd" stroke-width="1.6"/>
<use href="#jiangle" fill="#3870ff" stroke="#3870ff" stroke-width="1.6"/>
<use href="#datian" fill="#29dbff" stroke="#29dbff" stroke-width="1.6"/>
<use href="#minhou" fill="#8cffbd" stroke="#8cffbd" stroke-width="1.6"/>
<use href="#guangze" fill="#29dbff" stroke="#29dbff" stroke-width="1.6"/>
<use href="#yongding" fill="#29dbff" stroke="#29dbff" stroke-width="1.6"/>
<use href="#yongtai" fill="#29dbff" stroke="#29dbff" stroke-width="1.6"/>
<use href="#shunchang" fill="#3870ff" stroke="#3870ff" stroke-width="1.6"/>
<use href="#nanan" fill="#ffe000" stroke="#ffe000" stroke-width="1.6"/>
<use href="#nanjing" fill="#8cffbd" stroke="#8cffbd" stroke-width="1.6"/>
<use href="#shaxian" fill="#3870ff" stroke="#3870ff" stroke-width="1.6"/>
<use href="#xianyou" fill="#dbff5e" stroke="#dbff5e" stroke-width="1.6"/>
<use href="#fuan" fill="#29dbff" stroke="#29dbff" stroke-width="1.6"/>
<use href="#qingliu" fill="#29dbff" stroke="#29dbff" stroke-width="1.6"/>
<use href="#jianning" fill="#8cffbd" stroke="#8cffbd" stroke-width="1.6"/>
<use href="#fuqing" fill="#ff8800" stroke="#ff8800" stroke-width="1.6"/>
<use href="#mingxi" fill="#3870ff" stroke="#3870ff" stroke-width="1.6"/>
<use href="#zhenghe" fill="#3870ff" stroke="#3870ff" stroke-width="1.6"/>
<use href="#xiapu" fill="#dbff5e" stroke="#dbff5e" stroke-width="1.6"/>
<use href="#fuding" fill="#dbff5e" stroke="#dbff5e" stroke-width="1.6"/>
<use href="#taining" fill="#3870ff" stroke="#3870ff" stroke-width="1.6"/>
<use href="#pingnan" fill="#3870ff" stroke="#3870ff" stroke-width="1.6"/>
<use href="#shouning" fill="#3870ff" stroke="#3870ff" stroke-width="1.6"/>
<use href="#minqing" fill="#8cffbd" stroke="#8cffbd" stroke-width="1.6"/>
<use href="#yongchun" fill="#8cffbd" stroke="#8cffbd" stroke-width="1.6"/>
<use href="#longhai" fill="#ff8800" stroke="#ff8800" stroke-width="1.6"/>
<use href="#lianjiang" fill="#dbff5e" stroke="#dbff5e" stroke-width="1.6"/>
<use href="#jiaocheng" fill="#29dbff" stroke="#29dbff" stroke-width="1.6"/>
<use href="#zhaoan" fill="#ffe000" stroke="#ffe000" stroke-width="1.6"/>
<use href="#huaan" fill="#29dbff" stroke="#29dbff" stroke-width="1.6"/>
<use href="#yunxiao" fill="#dbff5e" stroke="#dbff5e" stroke-width="1.6"/>
<use href="#zhouning" fill="#3870ff" stroke="#3870ff" stroke-width="1.6"/>
<use href="#luoyuan" fill="#29dbff" stroke="#29dbff" stroke-width="1.6"/>
<use href="#songxi" fill="#8cffbd" stroke="#8cffbd" stroke-width="1.6"/>
<use href="#changtai" fill="#ffe000" stroke="#ffe000" stroke-width="1.6"/>
<use href="#hanjiang" fill="#dbff5e" stroke="#dbff5e" stroke-width="1.6"/>
<use href="#huian" fill="#ff0000" stroke="#ff0000" stroke-width="1.6"/>
<use href="#sanyuan" fill="#3870ff" stroke="#3870ff" stroke-width="1.6"/>
<use href="#changle" fill="#ff8800" stroke="#ff8800" stroke-width="1.6"/>
<use href="#jinjiang" fill="#ff0000" stroke="#ff0000" stroke-width="1.6"/>
<use href="#tongan" fill="#ffe000" stroke="#ffe000" stroke-width="1.6"/>
<use href="#xiuyu" fill="#ff0000" stroke="#ff0000" stroke-width="1.6"/>
<use href="#zherong" fill="#8cffbd" stroke="#8cffbd" stroke-width="1.6"/>
<use href="#jinan" fill="#29dbff" stroke="#29dbff" stroke-width="1.6"/>
<use href="#chengxiang" fill="#dbff5e" stroke="#dbff5e" stroke-width="1.6"/>
<use href="#xiangan" fill="#ff8800" stroke="#ff8800" stroke-width="1.6"/>
<use href="#dongshan" fill="#dbff5e" stroke="#dbff5e" stroke-width="1.6"/>
<use href="#luojiang" fill="#dbff5e" stroke="#dbff5e" stroke-width="1.6"/>
<use href="#pingtan" fill="#ff0000" stroke="#ff0000" stroke-width="1.6"/>
<use href="#meilie" fill="#3870ff" stroke="#3870ff" stroke-width="1.6"/>
<use href="#quangang" fill="#ff8800" stroke="#ff8800" stroke-width="1.6"/>
<use href="#jimei" fill="#ff8800" stroke="#ff8800" stroke-width="1.6"/>
<use href="#licheng_pt" fill="#ff0000" stroke="#ff0000" stroke-width="1.6"/>
<use href="#xiangcheng" fill="#ff0000" stroke="#ff0000" stroke-width="1.6"/>
<use href="#mawei" fill="#dbff5e" stroke="#dbff5e" stroke-width="1.6"/>
<use href="#haicang" fill="#ffe000" stroke="#ffe000" stroke-width="1.6"/>
<use href="#shishi" fill="#ff8800" stroke="#ff8800" stroke-width="1.6"/>
<use href="#cangshan" fill="#ffe000" stroke="#ffe000" stroke-width="1.6"/>
<use href="#jinmen" fill="#0000ff" stroke="#0000ff" stroke-width="1.6"/>
<use href="#fengze" fill="#ffe000" stroke="#ffe000" stroke-width="1.6"/>
<use href="#longwen" fill="#ff0000" stroke="#ff0000" stroke-width="1.6"/>
<use href="#huli" fill="#8cffbd" stroke="#8cffbd" stroke-width="1.6"/>
<use href="#siming" fill="#dbff5e" stroke="#dbff5e" stroke-width="1.6"/>
<use href="#licheng_qz" fill="#ffe000" stroke="#ffe000" stroke-width="1.6"/>
<use href="#gulou" fill="#ffe000" stroke="#ffe000" stroke-width="1.6"/>
<use href="#taijiang" fill="#0000ff" stroke="#0000ff" stroke-width="1.6"/>
<g fill="none" stroke="#6e6e6e" stroke-width="0.5" stroke-opacity="0.7">
<use href="#jianou"/>
<use href="#jianyang"/>
<use href="#pucheng"/>
<use href="#youxi"/>
<use href="#changting"/>
<use href="#zhangping"/>
<use href="#shaowu"/>
<use href="#yongan"/>
<use href="#anxi"/>
<use href="#wuyishan"/>
<use href="#shanghang"/>
<use href="#xinluo"/>
<use href="#liancheng"/>
<use href="#yanping"/>
<use href="#wuping"/>
<use href="#zhangpu"/>
<use href="#ninghua"/>
<use href="#gutian"/>
<use href="#dehua"/>
<use href="#pinghe"/>
<use href="#jiangle"/>
<use href="#datian"/>
<use href="#minhou"/>
<use href="#guangze"/>
<use href="#yongding"/>
<use href="#yongtai"/>
<use href="#shunchang"/>
<use href="#nanan"/>
<use href="#nanjing"/>
<use href="#shaxian"/>
<use href="#xianyou"/>
<use href="#fuan"/>
<use href="#qingliu"/>
<use href="#jianning"/>
<use href="#fuqing"/>
<use href="#mingxi"/>
<use href="#zhenghe"/>
<use href="#xiapu"/>
<use href="#fuding"/>
<use href="#taining"/>
<use href="#pingnan"/>
<use href="#shouning"/>
<use href="#minqing"/>
<use href="#yongchun"/>
<use href="#longhai"/>
<use href="#lianjiang"/>
<use href="#jiaocheng"/>
<use href="#zhaoan"/>
<use href="#huaan"/>
<use href="#yunxiao"/>
<use href="#zhouning"/>
<use href="#luoyuan"/>
<use href="#songxi"/>
<use href="#changtai"/>
<use href="#hanjiang"/>
<use href="#huian"/>
<use href="#sanyuan"/>
<use href="#changle"/>
<use href="#jinjiang"/>
<use href="#tongan"/>
<use href="#xiuyu"/>
<use href="#zherong"/>
<use href="#jinan"/>
<use href="#chengxiang"/>
<use href="#xiangan"/>
<use href="#dongshan"/>
<use href="#luojiang"/>
<use href="#pingtan"/>
<use href="#meilie"/>
<use href="#quangang"/>
<use href="#jimei"/>
<use href="#licheng_pt"/>
<use href="#xiangcheng"/>
<use href="#mawei"/>
<use href="#haicang"/>
<use href="#shishi"/>
<use href="#cangshan"/>
<use href="#jinmen"/>
<use href="#fengze"/>
<use href="#longwen"/>
<use href="#huli"/>
<use href="#siming"/>
<use href="#licheng_qz"/>
<use href="#gulou"/>
<use href="#taijiang"/>
</g>
</g>
<use href="#north" transform="translate(608.254,1856.86) scale(1.0035)"/>
<text x="608.354" y="1807.89" font-size="22.077" text-anchor="middle">N</text>
<text x="90.147" y="1873.52" font-size="39.1365">(g)</text>
<text x="533.694" y="2343.65" font-size="19.8693" font-weight="bold">Legend</text>
<rect x="532.891" y="2356.9" width="39.1365" height="19.0665" fill="#0000ff" stroke="#9c9c9c" stroke-width="1"/>
<text x="579.052" y="2373.46" font-size="19.9697">0.00 - 0.01</text>
<rect x="532.891" y="2384.47" width="39.1365" height="19.0665" fill="#3870ff" stroke="#9c9c9c" stroke-width="1"/>
<text x="579.052" y="2401.02" font-size="19.9697">0.01 - 0.07</text>
<rect x="532.891" y="2412.03" width="39.1365" height="19.0665" fill="#29dbff" stroke="#9c9c9c" stroke-width="1"/>
<text x="579.052" y="2428.59" font-size="19.9697">0.07 - 0.10</text>
<rect x="532.891" y="2439.6" width="39.1365" height="19.0665" fill="#8cffbd" stroke="#9c9c9c" stroke-width="1"/>
<text x="579.052" y="2456.16" font-size="19.9697">0.10 - 0.15</text>
<rect x="532.891" y="2467.17" width="39.1365" height="19.0665" fill="#dbff5e" stroke="#9c9c9c" stroke-width="1"/>
<text x="579.052" y="2483.72" font-size="19.9697">0.15 - 0.21</text>
<rect x="532.891" y="2494.73" width="39.1365" height="19.0665" fill="#ffe000" stroke="#9c9c9c" stroke-width="1"/>
<text x="579.052" y="2511.29" font-size="19.9697">0.21 - 0.29</text>
<rect x="532.891" y="2522.3" width="39.1365" height="19.0665" fill="#ff8800" stroke="#9c9c9c" stroke-width="1"/>
<text x="579.052" y="2538.86" font-size="19.9697">0.29 - 0.40</text>
<rect x="532.891" y="2549.86" width="39.1365" height="19.0665" fill="#ff0000" stroke="#9c9c9c" stroke-width="1"/>
<text x="579.052" y="2566.42" font-size="19.9697">0.40 - 0.54</text>
<rect x="63.0525" y="2503.71" width="119.216" height="19.2672" fill="#fff" stroke="#c8c8c8" stroke-width="1.6"/>
<text x="190.999" y="2521.27" font-size="20.07">County</text>
<rect x="65.2602" y="2544.86" width="145.508" height="9.0315" fill="#000"/>
<rect x="95.1645" y="2546.46" width="28.098" height="5.8203" fill="#fff"/>
<rect x="152.966" y="2546.46" width="28.098" height="5.8203" fill="#fff"/>
<text x="219.097" y="2554.39" font-size="20.07">km</text>
<text x="66.063" y="2575.97" font-size="20.07" text-anchor="middle">0</text>
<text x="210.266" y="2575.97" font-size="20.07" text-anchor="middle">100</text>
</svg>
<rect x="48" y="1783.2" width="651.8" height="800.4" fill="none" stroke="#1a1a1a" stroke-width="2.2"/>
<line x1="170.728" y1="1783.2" x2="170.728" y2="1789.7" stroke="#111" stroke-width="1.6"/>
<text x="170.728" y="1769.6" font-size="25.0875" text-anchor="middle">117°0'0&quot;E</text>
<line x1="381.463" y1="1783.2" x2="381.463" y2="1789.7" stroke="#111" stroke-width="1.6"/>
<text x="381.463" y="1769.6" font-size="25.0875" text-anchor="middle">118°30'0&quot;E</text>
<line x1="592.198" y1="1783.2" x2="592.198" y2="1789.7" stroke="#111" stroke-width="1.6"/>
<text x="592.198" y="1769.6" font-size="25.0875" text-anchor="middle">120°0'0&quot;E</text>
<line x1="267.566" y1="2583.6" x2="267.566" y2="2577.1" stroke="#111" stroke-width="1.6"/>
<line x1="490.744" y1="2583.6" x2="490.744" y2="2577.1" stroke="#111" stroke-width="1.6"/>
<line x1="48" y1="1808.29" x2="54.5" y2="1808.29" stroke="#111" stroke-width="1.6"/>
<text transform="translate(34.6,1808.29) rotate(-90)" font-size="25.3886" text-anchor="middle">28°30'0&quot;N</text>
<line x1="48" y1="2050.33" x2="54.5" y2="2050.33" stroke="#111" stroke-width="1.6"/>
<text transform="translate(34.6,2050.33) rotate(-90)" font-size="25.3886" text-anchor="middle">27°0'0&quot;N</text>
<line x1="48" y1="2290.97" x2="54.5" y2="2290.97" stroke="#111" stroke-width="1.6"/>
<text transform="translate(34.6,2290.97) rotate(-90)" font-size="25.3886" text-anchor="middle">25°30'0&quot;N</text>
<line x1="48" y1="2531.81" x2="54.5" y2="2531.81" stroke="#111" stroke-width="1.6"/>
<text transform="translate(34.6,2531.81) rotate(-90)" font-size="25.3886" text-anchor="middle">24°0'0&quot;N</text>
<line x1="699.8" y1="1963.33" x2="693.3" y2="1963.33" stroke="#111" stroke-width="1.6"/>
<line x1="699.8" y1="2205.67" x2="693.3" y2="2205.67" stroke="#111" stroke-width="1.6"/>
<line x1="699.8" y1="2447.22" x2="693.3" y2="2447.22" stroke="#111" stroke-width="1.6"/>
</g>
<g id="panel_h">
<svg x="777.3" y="1795.3" width="651.3" height="802.1" viewBox="777.3 1795.3 651.3 802.1" overflow="hidden">
<g transform="translate(729.108,1738.57) scale(1.004)" stroke-linejoin="round">
<use href="#jianou" fill="#0000ff" stroke="#0000ff" stroke-width="1.6"/>
<use href="#jianyang" fill="#0000ff" stroke="#0000ff" stroke-width="1.6"/>
<use href="#pucheng" fill="#0000ff" stroke="#0000ff" stroke-width="1.6"/>
<use href="#youxi" fill="#0000ff" stroke="#0000ff" stroke-width="1.6"/>
<use href="#changting" fill="#0000ff" stroke="#0000ff" stroke-width="1.6"/>
<use href="#zhangping" fill="#0000ff" stroke="#0000ff" stroke-width="1.6"/>
<use href="#shaowu" fill="#0000ff" stroke="#0000ff" stroke-width="1.6"/>
<use href="#yongan" fill="#0000ff" stroke="#0000ff" stroke-width="1.6"/>
<use href="#anxi" fill="#0000ff" stroke="#0000ff" stroke-width="1.6"/>
<use href="#wuyishan" fill="#0000ff" stroke="#0000ff" stroke-width="1.6"/>
<use href="#shanghang" fill="#0000ff" stroke="#0000ff" stroke-width="1.6"/>
<use href="#xinluo" fill="#3870ff" stroke="#3870ff" stroke-width="1.6"/>
<use href="#liancheng" fill="#0000ff" stroke="#0000ff" stroke-width="1.6"/>
<use href="#yanping" fill="#0000ff" stroke="#0000ff" stroke-width="1.6"/>
<use href="#wuping" fill="#0000ff" stroke="#0000ff" stroke-width="1.6"/>
<use href="#zhangpu" fill="#29dbff" stroke="#29dbff" stroke-width="1.6"/>
<use href="#ninghua" fill="#0000ff" stroke="#0000ff" stroke-width="1.6"/>
<use href="#gutian" fill="#0000ff" stroke="#0000ff" stroke-width="1.6"/>
<use href="#dehua" fill="#0000ff" stroke="#0000ff" stroke-width="1.6"/>
<use href="#pinghe" fill="#0000ff" stroke="#0000ff" stroke-width="1.6"/>
<use href="#jiangle" fill="#0000ff" stroke="#0000ff" stroke-width="1.6"/>
<use href="#datian" fill="#0000ff" stroke="#0000ff" stroke-width="1.6"/>
<use href="#minhou" fill="#29dbff" stroke="#29dbff" stroke-width="1.6"/>
<use href="#guangze" fill="#0000ff" stroke="#0000ff" stroke-width="1.6"/>
<use href="#yongding" fill="#0000ff" stroke="#0000ff" stroke-width="1.6"/>
<use href="#yongtai" fill="#0000ff" stroke="#0000ff" stroke-width="1.6"/>
<use href="#shunchang" fill="#0000ff" stroke="#0000ff" stroke-width="1.6"/>
<use href="#nanan" fill="#8cffbd" stroke="#8cffbd" stroke-width="1.6"/>
<use href="#nanjing" fill="#3870ff" stroke="#3870ff" stroke-width="1.6"/>
<use href="#shaxian" fill="#3870ff" stroke="#3870ff" stroke-width="1.6"/>
<use href="#xianyou" fill="#3870ff" stroke="#3870ff" stroke-width="1.6"/>
<use href="#fuan" fill="#3870ff" stroke="#3870ff" stroke-width="1.6"/>
<use href="#qingliu" fill="#0000ff" stroke="#0000ff" stroke-width="1.6"/>
<use href="#jianning" fill="#0000ff" stroke="#0000ff" stroke-width="1.6"/>
<use href="#fuqing" fill="#8cffbd" stroke="#8cffbd" stroke-width="1.6"/>
<use href="#mingxi" fill="#0000ff" stroke="#0000ff" stroke-width="1.6"/>
<use href="#zhenghe" fill="#0000ff" stroke="#0000ff" stroke-width="1.6"/>
<use href="#xiapu" fill="#3870ff" stroke="#3870ff" stroke-width="1.6"/>
<use href="#fuding" fill="#3870ff" stroke="#3870ff" stroke-width="1.6"/>
<use href="#taining" fill="#0000ff" stroke="#0000ff" stroke-width="1.6"/>
<use href="#pingnan" fill="#0000ff" stroke="#0000ff" stroke-width="1.6"/>
<use href="#shouning" fill="#0000ff" stroke="#0000ff" stroke-width="1.6"/>
<use href="#minqing" fill="#0000ff" stroke="#0000ff" stroke-width="1.6"/>
<use href="#yongchun" fill="#0000ff" stroke="#0000ff" stroke-width="1.6"/>
<use href="#longhai" fill="#8cffbd" stroke="#8cffbd" stroke-width="1.6"/>
<use href="#lianjiang" fill="#29dbff" stroke="#29dbff" stroke-width="1.6"/>
<use href="#jiaocheng" fill="#3870ff" stroke="#3870ff" stroke-width="1.6"/>
<use href="#zhaoan" fill="#3870ff" stroke="#3870ff" stroke-width="1.6"/>
<use href="#huaan" fill="#0000ff" stroke="#0000ff" stroke-width="1.6"/>
<use href="#yunxiao" fill="#3870ff" stroke="#3870ff" stroke-width="1.6"/>
<use href="#zhouning" fill="#0000ff" stroke="#0000ff" stroke-width="1.6"/>
<use href="#luoyuan" fill="#3870ff" stroke="#3870ff" stroke-width="1.6"/>
<use href="#songxi" fill="#0000ff" stroke="#0000ff" stroke-width="1.6"/>
<use href="#changtai" fill="#3870ff" stroke="#3870ff" stroke-width="1.6"/>
<use href="#hanjiang" fill="#29dbff" stroke="#29dbff" stroke-width="1.6"/>
<use href="#huian" fill="#ffe000" stroke="#ffe000" stroke-width="1.6"/>
<use href="#sanyuan" fill="#3870ff" stroke="#3870ff" stroke-width="1.6"/>
<use href="#changle" fill="#dbff5e" stroke="#dbff5e" stroke-width="1.6"/>
<use href="#jinjiang" fill="#ff8800" stroke="#ff8800" stroke-width="1.6"/>
<use href="#tongan" fill="#8cffbd" stroke="#8cffbd" stroke-width="1.6"/>
<use href="#xiuyu" fill="#ffe000" stroke="#ffe000" stroke-width="1.6"/>
<use href="#zherong" fill="#0000ff" stroke="#0000ff" stroke-width="1.6"/>
<use href="#jinan" fill="#8cffbd" stroke="#8cffbd" stroke-width="1.6"/>
<use href="#chengxiang" fill="#29dbff" stroke="#29dbff" stroke-width="1.6"/>
<use href="#xiangan" fill="#dbff5e" stroke="#dbff5e" stroke-width="1.6"/>
<use href="#dongshan" fill="#dbff5e" stroke="#dbff5e" stroke-width="1.6"/>
<use href="#luojiang" fill="#29dbff" stroke="#29dbff" stroke-width="1.6"/>
<use href="#pingtan" fill="#dbff5e" stroke="#dbff5e" stroke-width="1.6"/>
<use href="#meilie" fill="#29dbff" stroke="#29dbff" stroke-width="1.6"/>
<use href="#quangang" fill="#dbff5e" stroke="#dbff5e" stroke-width="1.6"/>
<use href="#jimei" fill="#ffe000" stroke="#ffe000" stroke-width="1.6"/>
<use href="#licheng_pt" fill="#dbff5e" stroke="#dbff5e" stroke-width="1.6"/>
<use href="#xiangcheng" fill="#dbff5e" stroke="#dbff5e" stroke-width="1.6"/>
<use href="#mawei" fill="#8cffbd" stroke="#8cffbd" stroke-width="1.6"/>
<use href="#haicang" fill="#ffe000" stroke="#ffe000" stroke-width="1.6"/>
<use href="#shishi" fill="#ff8800" stroke="#ff8800" stroke-width="1.6"/>
<use href="#cangshan" fill="#ff8800" stroke="#ff8800" stroke-width="1.6"/>
<use href="#jinmen" fill="#0000ff" stroke="#0000ff" stroke-width="1.6"/>
<use href="#fengze" fill="#ff8800" stroke="#ff8800" stroke-width="1.6"/>
<use href="#longwen" fill="#ffe000" stroke="#ffe000" stroke-width="1.6"/>
<use href="#huli" fill="#ff0000" stroke="#ff0000" stroke-width="1.6"/>
<use href="#siming" fill="#ff8800" stroke="#ff8800" stroke-width="1.6"/>
<use href="#licheng_qz" fill="#ff8800" stroke="#ff8800" stroke-width="1.6"/>
<use href="#gulou" fill="#ff0000" stroke="#ff0000" stroke-width="1.6"/>
<use href="#taijiang" fill="#ff0000" stroke="#ff0000" stroke-width="1.6"/>
<g fill="none" stroke="#6e6e6e" stroke-width="0.5" stroke-opacity="0.7">
<use href="#jianou"/>
<use href="#jianyang"/>
<use href="#pucheng"/>
<use href="#youxi"/>
<use href="#changting"/>
<use href="#zhangping"/>
<use href="#shaowu"/>
<use href="#yongan"/>
<use href="#anxi"/>
<use href="#wuyishan"/>
<use href="#shanghang"/>
<use href="#xinluo"/>
<use href="#liancheng"/>
<use href="#yanping"/>
<use href="#wuping"/>
<use href="#zhangpu"/>
<use href="#ninghua"/>
<use href="#gutian"/>
<use href="#dehua"/>
<use href="#pinghe"/>
<use href="#jiangle"/>
<use href="#datian"/>
<use href="#minhou"/>
<use href="#guangze"/>
<use href="#yongding"/>
<use href="#yongtai"/>
<use href="#shunchang"/>
<use href="#nanan"/>
<use href="#nanjing"/>
<use href="#shaxian"/>
<use href="#xianyou"/>
<use href="#fuan"/>
<use href="#qingliu"/>
<use href="#jianning"/>
<use href="#fuqing"/>
<use href="#mingxi"/>
<use href="#zhenghe"/>
<use href="#xiapu"/>
<use href="#fuding"/>
<use href="#taining"/>
<use href="#pingnan"/>
<use href="#shouning"/>
<use href="#minqing"/>
<use href="#yongchun"/>
<use href="#longhai"/>
<use href="#lianjiang"/>
<use href="#jiaocheng"/>
<use href="#zhaoan"/>
<use href="#huaan"/>
<use href="#yunxiao"/>
<use href="#zhouning"/>
<use href="#luoyuan"/>
<use href="#songxi"/>
<use href="#changtai"/>
<use href="#hanjiang"/>
<use href="#huian"/>
<use href="#sanyuan"/>
<use href="#changle"/>
<use href="#jinjiang"/>
<use href="#tongan"/>
<use href="#xiuyu"/>
<use href="#zherong"/>
<use href="#jinan"/>
<use href="#chengxiang"/>
<use href="#xiangan"/>
<use href="#dongshan"/>
<use href="#luojiang"/>
<use href="#pingtan"/>
<use href="#meilie"/>
<use href="#quangang"/>
<use href="#jimei"/>
<use href="#licheng_pt"/>
<use href="#xiangcheng"/>
<use href="#mawei"/>
<use href="#haicang"/>
<use href="#shishi"/>
<use href="#cangshan"/>
<use href="#jinmen"/>
<use href="#fengze"/>
<use href="#longwen"/>
<use href="#huli"/>
<use href="#siming"/>
<use href="#licheng_qz"/>
<use href="#gulou"/>
<use href="#taijiang"/>
</g>
</g>
<use href="#north" transform="translate(1337.83,1869.49) scale(1.004)"/>
<text x="1337.93" y="1820.5" font-size="22.088" text-anchor="middle">N</text>
<text x="819.468" y="1886.16" font-size="39.156">(h)</text>
<text x="1263.24" y="2356.53" font-size="19.8792" font-weight="bold">Legend</text>
<rect x="1262.43" y="2369.79" width="39.156" height="19.076" fill="#0000ff" stroke="#9c9c9c" stroke-width="1"/>
<text x="1308.62" y="2386.35" font-size="19.9796">0.00 - 0.01</text>
<rect x="1262.43" y="2397.37" width="39.156" height="19.076" fill="#3870ff" stroke="#9c9c9c" stroke-width="1"/>
<text x="1308.62" y="2413.93" font-size="19.9796">0.01 - 0.03</text>
<rect x="1262.43" y="2424.95" width="39.156" height="19.076" fill="#29dbff" stroke="#9c9c9c" stroke-width="1"/>
<text x="1308.62" y="2441.51" font-size="19.9796">0.03 - 0.08</text>
<rect x="1262.43" y="2452.53" width="39.156" height="19.076" fill="#8cffbd" stroke="#9c9c9c" stroke-width="1"/>
<text x="1308.62" y="2469.09" font-size="19.9796">0.08 - 0.13</text>
<rect x="1262.43" y="2480.11" width="39.156" height="19.076" fill="#dbff5e" stroke="#9c9c9c" stroke-width="1"/>
<text x="1308.62" y="2496.67" font-size="19.9796">0.13 - 0.23</text>
<rect x="1262.43" y="2507.69" width="39.156" height="19.076" fill="#ffe000" stroke="#9c9c9c" stroke-width="1"/>
<text x="1308.62" y="2524.25" font-size="19.9796">0.23 - 0.32</text>
<rect x="1262.43" y="2535.27" width="39.156" height="19.076" fill="#ff8800" stroke="#9c9c9c" stroke-width="1"/>
<text x="1308.62" y="2551.83" font-size="19.9796">0.32 - 0.55</text>
<rect x="1262.43" y="2562.85" width="39.156" height="19.076" fill="#ff0000" stroke="#9c9c9c" stroke-width="1"/>
<text x="1308.62" y="2579.41" font-size="19.9796">0.55 - 0.77</text>
<rect x="792.36" y="2516.67" width="119.275" height="19.2768" fill="#fff" stroke="#c8c8c8" stroke-width="1.6"/>
<text x="920.37" y="2534.24" font-size="20.08">County</text>
<rect x="794.569" y="2557.84" width="145.58" height="9.036" fill="#000"/>
<rect x="824.488" y="2559.44" width="28.112" height="5.8232" fill="#fff"/>
<rect x="882.318" y="2559.44" width="28.112" height="5.8232" fill="#fff"/>
<text x="948.482" y="2567.37" font-size="20.08">km</text>
<text x="795.372" y="2588.96" font-size="20.08" text-anchor="middle">0</text>
<text x="939.647" y="2588.96" font-size="20.08" text-anchor="middle">100</text>
</svg>
<rect x="777.3" y="1795.3" width="651.3" height="802.1" fill="none" stroke="#1a1a1a" stroke-width="2.2"/>
<line x1="900.089" y1="1795.3" x2="900.089" y2="1801.8" stroke="#111" stroke-width="1.6"/>
<text x="900.089" y="1781.7" font-size="25.1" text-anchor="middle">117°0'0&quot;E</text>
<line x1="1110.93" y1="1795.3" x2="1110.93" y2="1801.8" stroke="#111" stroke-width="1.6"/>
<text x="1110.93" y="1781.7" font-size="25.1" text-anchor="middle">118°30'0&quot;E</text>
<line x1="1321.77" y1="1795.3" x2="1321.77" y2="1801.8" stroke="#111" stroke-width="1.6"/>
<text x="1321.77" y="1781.7" font-size="25.1" text-anchor="middle">120°0'0&quot;E</text>
<line x1="996.975" y1="2597.4" x2="996.975" y2="2590.9" stroke="#111" stroke-width="1.6"/>
<line x1="1220.26" y1="2597.4" x2="1220.26" y2="2590.9" stroke="#111" stroke-width="1.6"/>
<line x1="777.3" y1="1820.9" x2="783.8" y2="1820.9" stroke="#111" stroke-width="1.6"/>
<text transform="translate(763.9,1820.9) rotate(-90)" font-size="25.4012" text-anchor="middle">28°30'0&quot;N</text>
<line x1="777.3" y1="2063.06" x2="783.8" y2="2063.06" stroke="#111" stroke-width="1.6"/>
<text transform="translate(763.9,2063.06) rotate(-90)" font-size="25.4012" text-anchor="middle">27°0'0&quot;N</text>
<line x1="777.3" y1="2303.82" x2="783.8" y2="2303.82" stroke="#111" stroke-width="1.6"/>
<text transform="translate(763.9,2303.82) rotate(-90)" font-size="25.4012" text-anchor="middle">25°30'0&quot;N</text>
<line x1="777.3" y1="2544.78" x2="783.8" y2="2544.78" stroke="#111" stroke-width="1.6"/>
<text transform="translate(763.9,2544.78) rotate(-90)" font-size="25.4012" text-anchor="middle">24°0'0&quot;N</text>
<line x1="1428.6" y1="1976.02" x2="1422.1" y2="1976.02" stroke="#111" stroke-width="1.6"/>
<line x1="1428.6" y1="2218.48" x2="1422.1" y2="2218.48" stroke="#111" stroke-width="1.6"/>
<line x1="1428.6" y1="2460.15" x2="1422.1" y2="2460.15" stroke="#111" stroke-width="1.6"/>
</g>
<g id="panel_i">
<svg x="1506.3" y="1795.3" width="646.9" height="795.7" viewBox="1506.3 1795.3 646.9 795.7" overflow="hidden">
<g transform="translate(1458.46,1738.49) scale(0.9967)" stroke-linejoin="round">
<use href="#jianou" fill="#3870ff" stroke="#3870ff" stroke-width="1.6"/>
<use href="#jianyang" fill="#29dbff" stroke="#29dbff" stroke-width="1.6"/>
<use href="#pucheng" fill="#29dbff" stroke="#29dbff" stroke-width="1.6"/>
<use href="#youxi" fill="#0000ff" stroke="#0000ff" stroke-width="1.6"/>
<use href="#changting" fill="#29dbff" stroke="#29dbff" stroke-width="1.6"/>
<use href="#zhangping" fill="#0000ff" stroke="#0000ff" stroke-width="1.6"/>
<use href="#shaowu" fill="#29dbff" stroke="#29dbff" stroke-width="1.6"/>
<use href="#yongan" fill="#3870ff" stroke="#3870ff" stroke-width="1.6"/>
<use href="#anxi" fill="#3870ff" stroke="#3870ff" stroke-width="1.6"/>
<use href="#wuyishan" fill="#3870ff" stroke="#3870ff" stroke-width="1.6"/>
<use href="#shanghang" fill="#3870ff" stroke="#3870ff" stroke-width="1.6"/>
<use href="#xinluo" fill="#3870ff" stroke="#3870ff" stroke-width="1.6"/>
<use href="#liancheng" fill="#29dbff" stroke="#29dbff" stroke-width="1.6"/>
<use href="#yanping" fill="#3870ff" stroke="#3870ff" stroke-width="1.6"/>
<use href="#wuping" fill="#29dbff" stroke="#29dbff" stroke-width="1.6"/>
<use href="#zhangpu" fill="#ffe000" stroke="#ffe000" stroke-width="1.6"/>
<use href="#ninghua" fill="#8cffbd" stroke="#8cffbd" stroke-width="1.6"/>
<use href="#gutian" fill="#3870ff" stroke="#3870ff" stroke-width="1.6"/>
<use href="#dehua" fill="#0000ff" stroke="#0000ff" stroke-width="1.6"/>
<use href="#pinghe" fill="#29dbff" stroke="#29dbff" stroke-width="1.6"/>
<use href="#jiangle" fill="#0000ff" stroke="#0000ff" stroke-width="1.6"/>
<use href="#datian" fill="#0000ff" stroke="#0000ff" stroke-width="1.6"/>
<use href="#minhou" fill="#dbff5e" stroke="#dbff5e" stroke-width="1.6"/>
<use href="#guangze" fill="#3870ff" stroke="#3870ff" stroke-width="1.6"/>
<use href="#yongding" fill="#3870ff" stroke="#3870ff" stroke-width="1.6"/>
<use href="#yongtai" fill="#3870ff" stroke="#3870ff" stroke-width="1.6"/>
<use href="#shunchang" fill="#3870ff" stroke="#3870ff" stroke-width="1.6"/>
<use href="#nanan" fill="#dbff5e" stroke="#dbff5e" stroke-width="1.6"/>
<use href="#nanjing" fill="#8cffbd" stroke="#8cffbd" stroke-width="1.6"/>
<use href="#shaxian" fill="#3870ff" stroke="#3870ff" stroke-width="1.6"/>
<use href="#xianyou" fill="#dbff5e" stroke="#dbff5e" stroke-width="1.6"/>
<use href="#fuan" fill="#29dbff" stroke="#29dbff" stroke-width="1.6"/>
<use href="#qingliu" fill="#29dbff" stroke="#29dbff" stroke-width="1.6"/>
<use href="#jianning" fill="#29dbff" stroke="#29dbff" stroke-width="1.6"/>
<use href="#fuqing" fill="#ff8800" stroke="#ff8800" stroke-width="1.6"/>
<use href="#mingxi" fill="#3870ff" stroke="#3870ff" stroke-width="1.6"/>
<use href="#zhenghe" fill="#3870ff" stroke="#3870ff" stroke-width="1.6"/>
<use href="#xiapu" fill="#8cffbd" stroke="#8cffbd" stroke-width="1.6"/>
<use href="#fuding" fill="#8cffbd" stroke="#8cffbd" stroke-width="1.6"/>
<use href="#taining" fill="#3870ff" stroke="#3870ff" stroke-width="1.6"/>
<use href="#pingnan" fill="#0000ff" stroke="#0000ff" stroke-width="1.6"/>
<use href="#shouning" fill="#0000ff" stroke="#0000ff" stroke-width="1.6"/>
<use href="#minqing" fill="#3870ff" stroke="#3870ff" stroke-width="1.6"/>
<use href="#yongchun" fill="#3870ff" stroke="#3870ff" stroke-width="1.6"/>
<use href="#longhai" fill="#ffe000" stroke="#ffe000" stroke-width="1.6"/>
<use href="#lianjiang" fill="#dbff5e" stroke="#dbff5e" stroke-width="1.6"/>
<use href="#jiaocheng" fill="#8cffbd" stroke="#8cffbd" stroke-width="1.6"/>
<use href="#zhaoan" fill="#ffe000" stroke="#ffe000" stroke-width="1.6"/>
<use href="#huaan" fill="#3870ff" stroke="#3870ff" stroke-width="1.6"/>
<use href="#yunxiao" fill="#dbff5e" stroke="#dbff5e" stroke-width="1.6"/>
<use href="#zhouning" fill="#0000ff" stroke="#0000ff" stroke-width="1.6"/>
<use href="#luoyuan" fill="#29dbff" stroke="#29dbff" stroke-width="1.6"/>
<use href="#songxi" fill="#29dbff" stroke="#29dbff" stroke-width="1.6"/>
<use href="#changtai" fill="#dbff5e" stroke="#dbff5e" stroke-width="1.6"/>
<use href="#hanjiang" fill="#dbff5e" stroke="#dbff5e" stroke-width="1.6"/>
<use href="#huian" fill="#ff8800" stroke="#ff8800" stroke-width="1.6"/>
<use href="#sanyuan" fill="#0000ff" stroke="#0000ff" stroke-width="1.6"/>
<use href="#changle" fill="#ff8800" stroke="#ff8800" stroke-width="1.6"/>
<use href="#jinjiang" fill="#ff0000" stroke="#ff0000" stroke-width="1.6"/>
<use href="#tongan" fill="#ffe000" stroke="#ffe000" stroke-width="1.6"/>
<use href="#xiuyu" fill="#ff0000" stroke="#ff0000" stroke-width="1.6"/>
<use href="#zherong" fill="#0000ff" stroke="#0000ff" stroke-width="1.6"/>
<use href="#jinan" fill="#8cffbd" stroke="#8cffbd" stroke-width="1.6"/>
<use href="#chengxiang" fill="#dbff5e" stroke="#dbff5e" stroke-width="1.6"/>
<use href="#xiangan" fill="#ff0000" stroke="#ff0000" stroke-width="1.6"/>
<use href="#dongshan" fill="#ff0000" stroke="#ff0000" stroke-width="1.6"/>
<use href="#luojiang" fill="#dbff5e" stroke="#dbff5e" stroke-width="1.6"/>
<use href="#pingtan" fill="#ff8800" stroke="#ff8800" stroke-width="1.6"/>
<use href="#meilie" fill="#3870ff" stroke="#3870ff" stroke-width="1.6"/>
<use href="#quangang" fill="#ff8800" stroke="#ff8800" stroke-width="1.6"/>
<use href="#jimei" fill="#ff8800" stroke="#ff8800" stroke-width="1.6"/>
<use href="#licheng_pt" fill="#ff0000" stroke="#ff0000" stroke-width="1.6"/>
<use href="#xiangcheng" fill="#ff8800" stroke="#ff8800" stroke-width="1.6"/>
<use href="#mawei" fill="#ffe000" stroke="#ffe000" stroke-width="1.6"/>
<use href="#haicang" fill="#ff8800" stroke="#ff8800" stroke-width="1.6"/>
<use href="#shishi" fill="#ff0000" stroke="#ff0000" stroke-width="1.6"/>
<use href="#cangshan" fill="#ff0000" stroke="#ff0000" stroke-width="1.6"/>
<use href="#jinmen" fill="#0000ff" stroke="#0000ff" stroke-width="1.6"/>
<use href="#fengze" fill="#ff8800" stroke="#ff8800" stroke-width="1.6"/>
<use href="#longwen" fill="#ff8800" stroke="#ff8800" stroke-width="1.6"/>
<use href="#huli" fill="#ff0000" stroke="#ff0000" stroke-width="1.6"/>
<use href="#siming" fill="#ff8800" stroke="#ff8800" stroke-width="1.6"/>
<use href="#licheng_qz" fill="#ff0000" stroke="#ff0000" stroke-width="1.6"/>
<use href="#gulou" fill="#ff0000" stroke="#ff0000" stroke-width="1.6"/>
<use href="#taijiang" fill="#ff0000" stroke="#ff0000" stroke-width="1.6"/>
<g fill="none" stroke="#6e6e6e" stroke-width="0.5" stroke-opacity="0.7">
<use href="#jianou"/>
<use href="#jianyang"/>
<use href="#pucheng"/>
<use href="#youxi"/>
<use href="#changting"/>
<use href="#zhangping"/>
<use href="#shaowu"/>
<use href="#yongan"/>
<use href="#anxi"/>
<use href="#wuyishan"/>
<use href="#shanghang"/>
<use href="#xinluo"/>
<use href="#liancheng"/>
<use href="#yanping"/>
<use href="#wuping"/>
<use href="#zhangpu"/>
<use href="#ninghua"/>
<use href="#gutian"/>
<use href="#dehua"/>
<use href="#pinghe"/>
<use href="#jiangle"/>
<use href="#datian"/>
<use href="#minhou"/>
<use href="#guangze"/>
<use href="#yongding"/>
<use href="#yongtai"/>
<use href="#shunchang"/>
<use href="#nanan"/>
<use href="#nanjing"/>
<use href="#shaxian"/>
<use href="#xianyou"/>
<use href="#fuan"/>
<use href="#qingliu"/>
<use href="#jianning"/>
<use href="#fuqing"/>
<use href="#mingxi"/>
<use href="#zhenghe"/>
<use href="#xiapu"/>
<use href="#fuding"/>
<use href="#taining"/>
<use href="#pingnan"/>
<use href="#shouning"/>
<use href="#minqing"/>
<use href="#yongchun"/>
<use href="#longhai"/>
<use href="#lianjiang"/>
<use href="#jiaocheng"/>
<use href="#zhaoan"/>
<use href="#huaan"/>
<use href="#yunxiao"/>
<use href="#zhouning"/>
<use href="#luoyuan"/>
<use href="#songxi"/>
<use href="#changtai"/>
<use href="#hanjiang"/>
<use href="#huian"/>
<use href="#sanyuan"/>
<use href="#changle"/>
<use href="#jinjiang"/>
<use href="#tongan"/>
<use href="#xiuyu"/>
<use href="#zherong"/>
<use href="#jinan"/>
<use href="#chengxiang"/>
<use href="#xiangan"/>
<use href="#dongshan"/>
<use href="#luojiang"/>
<use href="#pingtan"/>
<use href="#meilie"/>
<use href="#quangang"/>
<use href="#jimei"/>
<use href="#licheng_pt"/>
<use href="#xiangcheng"/>
<use href="#mawei"/>
<use href="#haicang"/>
<use href="#shishi"/>
<use href="#cangshan"/>
<use href="#jinmen"/>
<use href="#fengze"/>
<use href="#longwen"/>
<use href="#huli"/>
<use href="#siming"/>
<use href="#licheng_qz"/>
<use href="#gulou"/>
<use href="#taijiang"/>
</g>
</g>
<use href="#north" transform="translate(2062.76,1868.46) scale(0.9967)"/>
<text x="2062.86" y="1819.82" font-size="21.9274" text-anchor="middle">N</text>
<text x="1548.16" y="1885" font-size="38.8713">(i)</text>
<text x="1988.7" y="2351.96" font-size="19.7347" font-weight="bold">Legend</text>
<rect x="1987.91" y="2365.11" width="38.8713" height="18.9373" fill="#0000ff" stroke="#9c9c9c" stroke-width="1"/>
<text x="2033.75" y="2381.56" font-size="19.8343">0.00 - 0.05</text>
<rect x="1987.91" y="2392.49" width="38.8713" height="18.9373" fill="#3870ff" stroke="#9c9c9c" stroke-width="1"/>
<text x="2033.75" y="2408.94" font-size="19.8343">0.05 - 0.08</text>
<rect x="1987.91" y="2419.87" width="38.8713" height="18.9373" fill="#29dbff" stroke="#9c9c9c" stroke-width="1"/>
<text x="2033.75" y="2436.32" font-size="19.8343">0.08 - 0.11</text>
<rect x="1987.91" y="2447.25" width="38.8713" height="18.9373" fill="#8cffbd" stroke="#9c9c9c" stroke-width="1"/>
<text x="2033.75" y="2463.7" font-size="19.8343">0.11 - 0.14</text>
<rect x="1987.91" y="2474.63" width="38.8713" height="18.9373" fill="#dbff5e" stroke="#9c9c9c" stroke-width="1"/>
<text x="2033.75" y="2491.08" font-size="19.8343">0.14 - 0.27</text>
<rect x="1987.91" y="2502.01" width="38.8713" height="18.9373" fill="#ffe000" stroke="#9c9c9c" stroke-width="1"/>
<text x="2033.75" y="2518.46" font-size="19.8343">0.27 - 0.45</text>
<rect x="1987.91" y="2529.39" width="38.8713" height="18.9373" fill="#ff8800" stroke="#9c9c9c" stroke-width="1"/>
<text x="2033.75" y="2545.84" font-size="19.8343">0.45 - 0.66</text>
<rect x="1987.91" y="2556.77" width="38.8713" height="18.9373" fill="#ff0000" stroke="#9c9c9c" stroke-width="1"/>
<text x="2033.75" y="2573.21" font-size="19.8343">0.66 - 0.87</text>
<rect x="1521.25" y="2510.93" width="118.408" height="19.1366" fill="#fff" stroke="#c8c8c8" stroke-width="1.6"/>
<text x="1648.33" y="2528.37" font-size="19.934">County</text>
<rect x="1523.44" y="2551.8" width="144.522" height="8.9703" fill="#000"/>
<rect x="1553.14" y="2553.39" width="27.9076" height="5.78086" fill="#fff"/>
<rect x="1610.55" y="2553.39" width="27.9076" height="5.78086" fill="#fff"/>
<text x="1676.24" y="2561.26" font-size="19.934">km</text>
<text x="1524.24" y="2582.69" font-size="19.934" text-anchor="middle">0</text>
<text x="1667.47" y="2582.69" font-size="19.934" text-anchor="middle">100</text>
</svg>
<rect x="1506.3" y="1795.3" width="646.9" height="795.7" fill="none" stroke="#1a1a1a" stroke-width="2.2"/>
<line x1="1628.2" y1="1795.3" x2="1628.2" y2="1801.8" stroke="#111" stroke-width="1.6"/>
<text x="1628.2" y="1781.7" font-size="24.9175" text-anchor="middle">117°0'0&quot;E</text>
<line x1="1837.5" y1="1795.3" x2="1837.5" y2="1801.8" stroke="#111" stroke-width="1.6"/>
<text x="1837.5" y="1781.7" font-size="24.9175" text-anchor="middle">118°30'0&quot;E</text>
<line x1="2046.81" y1="1795.3" x2="2046.81" y2="1801.8" stroke="#111" stroke-width="1.6"/>
<text x="2046.81" y="1781.7" font-size="24.9175" text-anchor="middle">120°0'0&quot;E</text>
<line x1="1724.38" y1="2591" x2="1724.38" y2="2584.5" stroke="#111" stroke-width="1.6"/>
<line x1="1946.04" y1="2591" x2="1946.04" y2="2584.5" stroke="#111" stroke-width="1.6"/>
<line x1="1506.3" y1="1820.22" x2="1512.8" y2="1820.22" stroke="#111" stroke-width="1.6"/>
<text transform="translate(1492.9,1820.22) rotate(-90)" font-size="25.2165" text-anchor="middle">28°30'0&quot;N</text>
<line x1="1506.3" y1="2060.62" x2="1512.8" y2="2060.62" stroke="#111" stroke-width="1.6"/>
<text transform="translate(1492.9,2060.62) rotate(-90)" font-size="25.2165" text-anchor="middle">27°0'0&quot;N</text>
<line x1="1506.3" y1="2299.63" x2="1512.8" y2="2299.63" stroke="#111" stroke-width="1.6"/>
<text transform="translate(1492.9,2299.63) rotate(-90)" font-size="25.2165" text-anchor="middle">25°30'0&quot;N</text>
<line x1="1506.3" y1="2538.84" x2="1512.8" y2="2538.84" stroke="#111" stroke-width="1.6"/>
<text transform="translate(1492.9,2538.84) rotate(-90)" font-size="25.2165" text-anchor="middle">24°0'0&quot;N</text>
<line x1="2153.2" y1="1974.21" x2="2146.7" y2="1974.21" stroke="#111" stroke-width="1.6"/>
<line x1="2153.2" y1="2214.91" x2="2146.7" y2="2214.91" stroke="#111" stroke-width="1.6"/>
<line x1="2153.2" y1="2454.82" x2="2146.7" y2="2454.82" stroke="#111" stroke-width="1.6"/>
</g>
</svg></body></html>
